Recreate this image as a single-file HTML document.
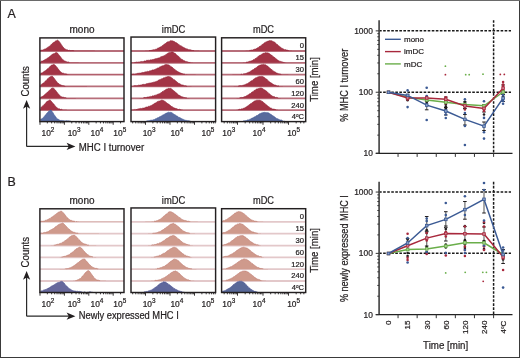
<!DOCTYPE html>
<html><head><meta charset="utf-8"><style>
html,body{margin:0;padding:0;background:#fff;}
body{width:520px;height:358px;overflow:hidden;font-family:"Liberation Sans",sans-serif;}
svg{display:block;will-change:transform;}
</style></head><body>
<svg width="520" height="358" viewBox="0 0 520 358"><rect x="0" y="0" width="520" height="358" fill="#fff"/>
<path d="M0.5,358 V0.5 M519.5,0 V358 M0,357.5 H520" stroke="#3a3a3a" stroke-width="1" fill="none"/>
<path d="M0,0.5 H520" stroke="#6a6a6a" stroke-width="1" fill="none"/>
<text x="7.6" y="17.8" font-family="'Liberation Sans', sans-serif" stroke="#231f20" stroke-width="0.22" font-size="12.4" fill="#231f20">A</text>
<text x="7.6" y="185.8" font-family="'Liberation Sans', sans-serif" stroke="#231f20" stroke-width="0.22" font-size="12.4" fill="#231f20">B</text>
<text x="69.5" y="32.8" font-family="'Liberation Sans', sans-serif" stroke="#231f20" stroke-width="0.22" font-size="10.2" fill="#231f20" textLength="25.0" lengthAdjust="spacingAndGlyphs">mono</text>
<text x="161.8" y="32.8" font-family="'Liberation Sans', sans-serif" stroke="#231f20" stroke-width="0.22" font-size="10.2" fill="#231f20" textLength="23.4" lengthAdjust="spacingAndGlyphs">imDC</text>
<text x="253" y="32.8" font-family="'Liberation Sans', sans-serif" stroke="#231f20" stroke-width="0.22" font-size="10.2" fill="#231f20" textLength="21.0" lengthAdjust="spacingAndGlyphs">mDC</text>
<line x1="39.9" y1="51" x2="124" y2="51" stroke="#b76e7a" stroke-width="1.8"/>
<path d="M40.5,51 L40.5,50.24 L41.2,50.15 L41.9,50.16 L42.6,50.05 L43.3,49.71 L44,49.51 L44.7,49.03 L45.4,48.94 L46.1,48.49 L46.8,48.03 L47.5,47.42 L48.2,47.13 L48.9,46.71 L49.6,45.91 L50.3,45.39 L51,44.97 L51.7,44.02 L52.4,43.36 L53.1,42.85 L53.8,42.23 L54.5,42 L55.2,41.33 L55.9,40.87 L56.6,40.72 L57.3,40.1 L58,40.42 L58.7,40.93 L59.4,41.75 L60.1,42.63 L60.8,43.7 L61.5,45.01 L62.2,45.82 L62.9,47.03 L63.6,47.54 L64.3,48.33 L65,49.14 L65.7,49.23 L66.4,49.73 L67.1,49.77 L67.8,50.05 L68.5,50.52 L69.2,50.38 L69.9,50.27 L70.6,50.64 L71.3,50.64 L72,50.4 L72.7,50.61 L73.4,50.63 L74.1,50.65 L74.8,50.66 L75.5,50.68 L76.2,50.69 L76.9,50.7 L77.6,50.71 L78.3,50.72 L79,50.73 L79.7,50.74 L80.4,50.75 L81.1,50.76 L81.8,50.76 L82.5,50.77 L83.2,50.78 L83.9,50.79 L84.6,50.8 L85.3,50.8 L86,50.81 L86.7,50.82 L87.4,50.82 L88.1,50.83 L88.8,50.83 L89.5,50.84 L90.2,50.85 L90.9,50.85 L91.6,50.86 L92.3,50.86 L93,50.87 L93.7,50.87 L94.4,50.87 L95.1,50.88 L95.8,50.88 L96.5,50.89 L97.2,50.89 L97.9,50.89 L98.6,50.9 L99.3,50.9 L100,50.91 L100.7,50.91 L101.4,50.91 L102.1,50.91 L102.8,50.92 L103.5,50.92 L104.2,50.92 L104.9,50.93 L105.6,50.93 L106.3,50.93 L107,50.93 L107.7,50.94 L108.4,50.94 L109.1,50.94 L109.8,50.94 L110.5,50.94 L111.2,50.95 L111.9,50.95 L112.6,50.95 L113.3,50.95 L114,50.95 L114.7,50.95 L115.4,50.96 L116.1,50.96 L116.8,50.96 L117.5,50.96 L118.2,50.96 L118.9,50.96 L119.6,50.96 L120.3,50.97 L121,50.97 L121.7,50.97 L122.4,50.97 L123.1,50.97 L123.4,51 Z" fill="#a33446"/>
<path d="M40.5,50.24 L41.2,50.15 L41.9,50.16 L42.6,50.05 L43.3,49.71 L44,49.51 L44.7,49.03 L45.4,48.94 L46.1,48.49 L46.8,48.03 L47.5,47.42 L48.2,47.13 L48.9,46.71 L49.6,45.91 L50.3,45.39 L51,44.97 L51.7,44.02 L52.4,43.36 L53.1,42.85 L53.8,42.23 L54.5,42 L55.2,41.33 L55.9,40.87 L56.6,40.72 L57.3,40.1 L58,40.42 L58.7,40.93 L59.4,41.75 L60.1,42.63 L60.8,43.7 L61.5,45.01 L62.2,45.82 L62.9,47.03 L63.6,47.54 L64.3,48.33 L65,49.14 L65.7,49.23 L66.4,49.73 L67.1,49.77 L67.8,50.05 L68.5,50.52 L69.2,50.38 L69.9,50.27 L70.6,50.64 L71.3,50.64 L72,50.4 L72.7,50.61 L73.4,50.63 L74.1,50.65" fill="none" stroke="#8e1f33" stroke-width="0.6"/>
<line x1="39.9" y1="62.82" x2="124" y2="62.82" stroke="#b76e7a" stroke-width="1.8"/>
<path d="M40.5,62.82 L40.5,61.82 L41.2,61.26 L41.9,61.06 L42.6,61.04 L43.3,60.62 L44,60.31 L44.7,59.84 L45.4,59.36 L46.1,59.28 L46.8,58.84 L47.5,57.95 L48.2,57.63 L48.9,56.93 L49.6,56.77 L50.3,56 L51,55.32 L51.7,55.04 L52.4,54.18 L53.1,53.74 L53.8,53.78 L54.5,53.45 L55.2,52.94 L55.9,52.61 L56.6,52.42 L57.3,52.99 L58,53.58 L58.7,54.63 L59.4,55.45 L60.1,56.29 L60.8,57.19 L61.5,58.2 L62.2,59 L62.9,59.71 L63.6,60.2 L64.3,60.8 L65,61.36 L65.7,61.29 L66.4,61.7 L67.1,61.87 L67.8,62.26 L68.5,61.98 L69.2,62.14 L69.9,62.58 L70.6,62.44 L71.3,62.48 L72,62.51 L72.7,62.53 L73.4,62.55 L74.1,62.57 L74.8,62.58 L75.5,62.59 L76.2,62.6 L76.9,62.61 L77.6,62.61 L78.3,62.62 L79,62.63 L79.7,62.64 L80.4,62.64 L81.1,62.65 L81.8,62.65 L82.5,62.66 L83.2,62.67 L83.9,62.67 L84.6,62.68 L85.3,62.68 L86,62.69 L86.7,62.69 L87.4,62.69 L88.1,62.7 L88.8,62.7 L89.5,62.71 L90.2,62.71 L90.9,62.71 L91.6,62.72 L92.3,62.72 L93,62.73 L93.7,62.73 L94.4,62.73 L95.1,62.73 L95.8,62.74 L96.5,62.74 L97.2,62.74 L97.9,62.75 L98.6,62.75 L99.3,62.75 L100,62.75 L100.7,62.76 L101.4,62.76 L102.1,62.76 L102.8,62.76 L103.5,62.76 L104.2,62.77 L104.9,62.77 L105.6,62.77 L106.3,62.77 L107,62.77 L107.7,62.77 L108.4,62.78 L109.1,62.78 L109.8,62.78 L110.5,62.78 L111.2,62.78 L111.9,62.78 L112.6,62.78 L113.3,62.79 L114,62.79 L114.7,62.79 L115.4,62.79 L116.1,62.79 L116.8,62.79 L117.5,62.79 L118.2,62.79 L118.9,62.79 L119.6,62.79 L120.3,62.8 L121,62.8 L121.7,62.8 L122.4,62.8 L123.1,62.8 L123.4,62.82 Z" fill="#a33446"/>
<path d="M40.5,61.82 L41.2,61.26 L41.9,61.06 L42.6,61.04 L43.3,60.62 L44,60.31 L44.7,59.84 L45.4,59.36 L46.1,59.28 L46.8,58.84 L47.5,57.95 L48.2,57.63 L48.9,56.93 L49.6,56.77 L50.3,56 L51,55.32 L51.7,55.04 L52.4,54.18 L53.1,53.74 L53.8,53.78 L54.5,53.45 L55.2,52.94 L55.9,52.61 L56.6,52.42 L57.3,52.99 L58,53.58 L58.7,54.63 L59.4,55.45 L60.1,56.29 L60.8,57.19 L61.5,58.2 L62.2,59 L62.9,59.71 L63.6,60.2 L64.3,60.8 L65,61.36 L65.7,61.29 L66.4,61.7 L67.1,61.87 L67.8,62.26 L68.5,61.98 L69.2,62.14" fill="none" stroke="#8e1f33" stroke-width="0.6"/>
<line x1="39.9" y1="74.64" x2="124" y2="74.64" stroke="#b76e7a" stroke-width="1.8"/>
<path d="M40.5,74.64 L40.5,73.16 L41.2,72.91 L41.9,73.05 L42.6,72.69 L43.3,71.92 L44,71.53 L44.7,71.08 L45.4,70.74 L46.1,70.02 L46.8,69.42 L47.5,68.81 L48.2,68.38 L48.9,67.6 L49.6,66.99 L50.3,66.23 L51,65.55 L51.7,65.1 L52.4,64.93 L53.1,64.74 L53.8,64.29 L54.5,64.75 L55.2,65.37 L55.9,65.94 L56.6,66.91 L57.3,67.82 L58,68.5 L58.7,69.59 L59.4,70.4 L60.1,71.31 L60.8,72.06 L61.5,72.46 L62.2,73.01 L62.9,73.2 L63.6,73.25 L64.3,73.65 L65,74.08 L65.7,73.86 L66.4,74.01 L67.1,74.12 L67.8,74.29 L68.5,74.33 L69.2,74.37 L69.9,74.39 L70.6,74.41 L71.3,74.42 L72,74.43 L72.7,74.44 L73.4,74.45 L74.1,74.46 L74.8,74.47 L75.5,74.47 L76.2,74.48 L76.9,74.48 L77.6,74.49 L78.3,74.49 L79,74.5 L79.7,74.5 L80.4,74.51 L81.1,74.51 L81.8,74.52 L82.5,74.52 L83.2,74.53 L83.9,74.53 L84.6,74.53 L85.3,74.54 L86,74.54 L86.7,74.54 L87.4,74.55 L88.1,74.55 L88.8,74.55 L89.5,74.56 L90.2,74.56 L90.9,74.56 L91.6,74.57 L92.3,74.57 L93,74.57 L93.7,74.57 L94.4,74.57 L95.1,74.58 L95.8,74.58 L96.5,74.58 L97.2,74.58 L97.9,74.59 L98.6,74.59 L99.3,74.59 L100,74.59 L100.7,74.59 L101.4,74.59 L102.1,74.6 L102.8,74.6 L103.5,74.6 L104.2,74.6 L104.9,74.6 L105.6,74.6 L106.3,74.6 L107,74.61 L107.7,74.61 L108.4,74.61 L109.1,74.61 L109.8,74.61 L110.5,74.61 L111.2,74.61 L111.9,74.61 L112.6,74.61 L113.3,74.61 L114,74.62 L114.7,74.62 L115.4,74.62 L116.1,74.62 L116.8,74.62 L117.5,74.62 L118.2,74.62 L118.9,74.62 L119.6,74.62 L120.3,74.62 L121,74.62 L121.7,74.62 L122.4,74.62 L123.1,74.62 L123.4,74.64 Z" fill="#a33446"/>
<path d="M40.5,73.16 L41.2,72.91 L41.9,73.05 L42.6,72.69 L43.3,71.92 L44,71.53 L44.7,71.08 L45.4,70.74 L46.1,70.02 L46.8,69.42 L47.5,68.81 L48.2,68.38 L48.9,67.6 L49.6,66.99 L50.3,66.23 L51,65.55 L51.7,65.1 L52.4,64.93 L53.1,64.74 L53.8,64.29 L54.5,64.75 L55.2,65.37 L55.9,65.94 L56.6,66.91 L57.3,67.82 L58,68.5 L58.7,69.59 L59.4,70.4 L60.1,71.31 L60.8,72.06 L61.5,72.46 L62.2,73.01 L62.9,73.2 L63.6,73.25 L64.3,73.65 L65,74.08 L65.7,73.86 L66.4,74.01 L67.1,74.12" fill="none" stroke="#8e1f33" stroke-width="0.6"/>
<line x1="39.9" y1="86.46" x2="124" y2="86.46" stroke="#b76e7a" stroke-width="1.8"/>
<path d="M40.5,86.46 L40.5,84.98 L41.2,84.47 L41.9,84.14 L42.6,83.56 L43.3,83.02 L44,82.72 L44.7,82.12 L45.4,81.03 L46.1,80.62 L46.8,79.91 L47.5,78.82 L48.2,78.4 L48.9,77.59 L49.6,77.22 L50.3,76.71 L51,76.69 L51.7,75.95 L52.4,76.23 L53.1,77.05 L53.8,77.75 L54.5,78.69 L55.2,79.93 L55.9,80.52 L56.6,81.5 L57.3,82.46 L58,83.33 L58.7,83.54 L59.4,84.28 L60.1,84.6 L60.8,84.88 L61.5,85.25 L62.2,85.38 L62.9,85.81 L63.6,85.74 L64.3,86.02 L65,86.06 L65.7,86.12 L66.4,86.16 L67.1,86.19 L67.8,86.21 L68.5,86.23 L69.2,86.24 L69.9,86.25 L70.6,86.26 L71.3,86.27 L72,86.28 L72.7,86.29 L73.4,86.29 L74.1,86.3 L74.8,86.3 L75.5,86.31 L76.2,86.32 L76.9,86.32 L77.6,86.33 L78.3,86.33 L79,86.33 L79.7,86.34 L80.4,86.34 L81.1,86.35 L81.8,86.35 L82.5,86.35 L83.2,86.36 L83.9,86.36 L84.6,86.36 L85.3,86.37 L86,86.37 L86.7,86.37 L87.4,86.38 L88.1,86.38 L88.8,86.38 L89.5,86.39 L90.2,86.39 L90.9,86.39 L91.6,86.39 L92.3,86.4 L93,86.4 L93.7,86.4 L94.4,86.4 L95.1,86.4 L95.8,86.41 L96.5,86.41 L97.2,86.41 L97.9,86.41 L98.6,86.41 L99.3,86.41 L100,86.42 L100.7,86.42 L101.4,86.42 L102.1,86.42 L102.8,86.42 L103.5,86.42 L104.2,86.42 L104.9,86.43 L105.6,86.43 L106.3,86.43 L107,86.43 L107.7,86.43 L108.4,86.43 L109.1,86.43 L109.8,86.43 L110.5,86.43 L111.2,86.43 L111.9,86.44 L112.6,86.44 L113.3,86.44 L114,86.44 L114.7,86.44 L115.4,86.44 L116.1,86.44 L116.8,86.44 L117.5,86.44 L118.2,86.44 L118.9,86.44 L119.6,86.44 L120.3,86.44 L121,86.44 L121.7,86.45 L122.4,86.45 L123.1,86.45 L123.4,86.46 Z" fill="#a33446"/>
<path d="M40.5,84.98 L41.2,84.47 L41.9,84.14 L42.6,83.56 L43.3,83.02 L44,82.72 L44.7,82.12 L45.4,81.03 L46.1,80.62 L46.8,79.91 L47.5,78.82 L48.2,78.4 L48.9,77.59 L49.6,77.22 L50.3,76.71 L51,76.69 L51.7,75.95 L52.4,76.23 L53.1,77.05 L53.8,77.75 L54.5,78.69 L55.2,79.93 L55.9,80.52 L56.6,81.5 L57.3,82.46 L58,83.33 L58.7,83.54 L59.4,84.28 L60.1,84.6 L60.8,84.88 L61.5,85.25 L62.2,85.38 L62.9,85.81 L63.6,85.74 L64.3,86.02 L65,86.06" fill="none" stroke="#8e1f33" stroke-width="0.6"/>
<line x1="39.9" y1="98.28" x2="124" y2="98.28" stroke="#b76e7a" stroke-width="1.8"/>
<path d="M40.5,98.28 L40.5,97.3 L41.2,97.09 L41.9,96.62 L42.6,96.37 L43.3,95.99 L44,95.34 L44.7,94.53 L45.4,94 L46.1,93.37 L46.8,92.96 L47.5,92.09 L48.2,91.51 L48.9,90.85 L49.6,90.22 L50.3,89.55 L51,88.68 L51.7,88.35 L52.4,88.14 L53.1,87.77 L53.8,88.55 L54.5,89.19 L55.2,89.87 L55.9,90.74 L56.6,91.63 L57.3,92.54 L58,93.81 L58.7,94.35 L59.4,95.02 L60.1,95.71 L60.8,96.38 L61.5,96.66 L62.2,97.19 L62.9,97.03 L63.6,97.28 L64.3,97.6 L65,97.84 L65.7,97.63 L66.4,97.9 L67.1,97.95 L67.8,97.99 L68.5,98.02 L69.2,98.04 L69.9,98.05 L70.6,98.07 L71.3,98.08 L72,98.09 L72.7,98.09 L73.4,98.1 L74.1,98.11 L74.8,98.11 L75.5,98.12 L76.2,98.13 L76.9,98.13 L77.6,98.14 L78.3,98.14 L79,98.15 L79.7,98.15 L80.4,98.16 L81.1,98.16 L81.8,98.16 L82.5,98.17 L83.2,98.17 L83.9,98.18 L84.6,98.18 L85.3,98.18 L86,98.19 L86.7,98.19 L87.4,98.19 L88.1,98.2 L88.8,98.2 L89.5,98.2 L90.2,98.2 L90.9,98.21 L91.6,98.21 L92.3,98.21 L93,98.21 L93.7,98.22 L94.4,98.22 L95.1,98.22 L95.8,98.22 L96.5,98.22 L97.2,98.23 L97.9,98.23 L98.6,98.23 L99.3,98.23 L100,98.23 L100.7,98.23 L101.4,98.24 L102.1,98.24 L102.8,98.24 L103.5,98.24 L104.2,98.24 L104.9,98.24 L105.6,98.24 L106.3,98.25 L107,98.25 L107.7,98.25 L108.4,98.25 L109.1,98.25 L109.8,98.25 L110.5,98.25 L111.2,98.25 L111.9,98.25 L112.6,98.26 L113.3,98.26 L114,98.26 L114.7,98.26 L115.4,98.26 L116.1,98.26 L116.8,98.26 L117.5,98.26 L118.2,98.26 L118.9,98.26 L119.6,98.26 L120.3,98.26 L121,98.26 L121.7,98.26 L122.4,98.26 L123.1,98.27 L123.4,98.28 Z" fill="#a33446"/>
<path d="M40.5,97.3 L41.2,97.09 L41.9,96.62 L42.6,96.37 L43.3,95.99 L44,95.34 L44.7,94.53 L45.4,94 L46.1,93.37 L46.8,92.96 L47.5,92.09 L48.2,91.51 L48.9,90.85 L49.6,90.22 L50.3,89.55 L51,88.68 L51.7,88.35 L52.4,88.14 L53.1,87.77 L53.8,88.55 L54.5,89.19 L55.2,89.87 L55.9,90.74 L56.6,91.63 L57.3,92.54 L58,93.81 L58.7,94.35 L59.4,95.02 L60.1,95.71 L60.8,96.38 L61.5,96.66 L62.2,97.19 L62.9,97.03 L63.6,97.28 L64.3,97.6 L65,97.84 L65.7,97.63 L66.4,97.9" fill="none" stroke="#8e1f33" stroke-width="0.6"/>
<line x1="39.9" y1="110.1" x2="124" y2="110.1" stroke="#b76e7a" stroke-width="1.8"/>
<path d="M40.5,110.1 L40.5,107.79 L41.2,107.24 L41.9,106.66 L42.6,105.97 L43.3,105.4 L44,104.59 L44.7,104.28 L45.4,103.3 L46.1,102.32 L46.8,101.77 L47.5,101.02 L48.2,100.92 L48.9,100.41 L49.6,99.96 L50.3,100.15 L51,100.74 L51.7,101.79 L52.4,102.57 L53.1,103.46 L53.8,104.06 L54.5,105.02 L55.2,106.14 L55.9,106.55 L56.6,107.51 L57.3,107.81 L58,108.51 L58.7,108.94 L59.4,108.79 L60.1,109.36 L60.8,109.53 L61.5,109.28 L62.2,109.44 L62.9,109.8 L63.6,109.75 L64.3,109.8 L65,109.83 L65.7,109.85 L66.4,109.87 L67.1,109.88 L67.8,109.89 L68.5,109.9 L69.2,109.91 L69.9,109.92 L70.6,109.93 L71.3,109.93 L72,109.94 L72.7,109.94 L73.4,109.95 L74.1,109.95 L74.8,109.96 L75.5,109.96 L76.2,109.97 L76.9,109.97 L77.6,109.98 L78.3,109.98 L79,109.99 L79.7,109.99 L80.4,109.99 L81.1,110 L81.8,110 L82.5,110 L83.2,110.01 L83.9,110.01 L84.6,110.01 L85.3,110.02 L86,110.02 L86.7,110.02 L87.4,110.03 L88.1,110.03 L88.8,110.03 L89.5,110.03 L90.2,110.03 L90.9,110.04 L91.6,110.04 L92.3,110.04 L93,110.04 L93.7,110.05 L94.4,110.05 L95.1,110.05 L95.8,110.05 L96.5,110.05 L97.2,110.05 L97.9,110.06 L98.6,110.06 L99.3,110.06 L100,110.06 L100.7,110.06 L101.4,110.06 L102.1,110.06 L102.8,110.07 L103.5,110.07 L104.2,110.07 L104.9,110.07 L105.6,110.07 L106.3,110.07 L107,110.07 L107.7,110.07 L108.4,110.07 L109.1,110.07 L109.8,110.08 L110.5,110.08 L111.2,110.08 L111.9,110.08 L112.6,110.08 L113.3,110.08 L114,110.08 L114.7,110.08 L115.4,110.08 L116.1,110.08 L116.8,110.08 L117.5,110.08 L118.2,110.08 L118.9,110.08 L119.6,110.09 L120.3,110.09 L121,110.09 L121.7,110.09 L122.4,110.09 L123.1,110.09 L123.4,110.1 Z" fill="#a33446"/>
<path d="M40.5,107.79 L41.2,107.24 L41.9,106.66 L42.6,105.97 L43.3,105.4 L44,104.59 L44.7,104.28 L45.4,103.3 L46.1,102.32 L46.8,101.77 L47.5,101.02 L48.2,100.92 L48.9,100.41 L49.6,99.96 L50.3,100.15 L51,100.74 L51.7,101.79 L52.4,102.57 L53.1,103.46 L53.8,104.06 L54.5,105.02 L55.2,106.14 L55.9,106.55 L56.6,107.51 L57.3,107.81 L58,108.51 L58.7,108.94 L59.4,108.79 L60.1,109.36 L60.8,109.53 L61.5,109.28 L62.2,109.44" fill="none" stroke="#8e1f33" stroke-width="0.6"/>
<path d="M40.5,121.3 L40.5,119.48 L41.2,119.04 L41.9,118.71 L42.6,118.24 L43.3,117.71 L44,116.66 L44.7,115.96 L45.4,114.98 L46.1,114.32 L46.8,113.27 L47.5,112.71 L48.2,111.71 L48.9,111.15 L49.6,110.89 L50.3,110.1 L51,110.1 L51.7,111.06 L52.4,111.89 L53.1,112.89 L53.8,114.31 L54.5,115.17 L55.2,116.26 L55.9,117.1 L56.6,118.14 L57.3,118.91 L58,119.08 L58.7,119.5 L59.4,119.99 L60.1,120.41 L60.8,120.54 L61.5,120.45 L62.2,120.71 L62.9,120.45 L63.6,120.69 L64.3,120.92 L65,120.72 L65.7,120.9 L66.4,120.63 L67.1,120.66 L67.8,120.88 L68.5,120.83 L69.2,120.91 L69.9,120.93 L70.6,120.94 L71.3,120.95 L72,120.96 L72.7,120.98 L73.4,120.99 L74.1,121 L74.8,121.01 L75.5,121.02 L76.2,121.03 L76.9,121.04 L77.6,121.05 L78.3,121.05 L79,121.06 L79.7,121.07 L80.4,121.08 L81.1,121.09 L81.8,121.09 L82.5,121.1 L83.2,121.11 L83.9,121.11 L84.6,121.12 L85.3,121.13 L86,121.13 L86.7,121.14 L87.4,121.14 L88.1,121.15 L88.8,121.15 L89.5,121.16 L90.2,121.16 L90.9,121.17 L91.6,121.17 L92.3,121.18 L93,121.18 L93.7,121.19 L94.4,121.19 L95.1,121.19 L95.8,121.2 L96.5,121.2 L97.2,121.2 L97.9,121.21 L98.6,121.21 L99.3,121.21 L100,121.22 L100.7,121.22 L101.4,121.22 L102.1,121.23 L102.8,121.23 L103.5,121.23 L104.2,121.23 L104.9,121.24 L105.6,121.24 L106.3,121.24 L107,121.24 L107.7,121.24 L108.4,121.25 L109.1,121.25 L109.8,121.25 L110.5,121.25 L111.2,121.25 L111.9,121.25 L112.6,121.26 L113.3,121.26 L114,121.26 L114.7,121.26 L115.4,121.26 L116.1,121.26 L116.8,121.26 L117.5,121.27 L118.2,121.27 L118.9,121.27 L119.6,121.27 L120.3,121.27 L121,121.27 L121.7,121.27 L122.4,121.27 L123.1,121.27 L123.4,121.3 Z" fill="#5a6fa6"/>
<path d="M40.5,119.48 L41.2,119.04 L41.9,118.71 L42.6,118.24 L43.3,117.71 L44,116.66 L44.7,115.96 L45.4,114.98 L46.1,114.32 L46.8,113.27 L47.5,112.71 L48.2,111.71 L48.9,111.15 L49.6,110.89 L50.3,110.1 L51,110.1 L51.7,111.06 L52.4,111.89 L53.1,112.89 L53.8,114.31 L54.5,115.17 L55.2,116.26 L55.9,117.1 L56.6,118.14 L57.3,118.91 L58,119.08 L58.7,119.5 L59.4,119.99 L60.1,120.41 L60.8,120.54 L61.5,120.45 L62.2,120.71 L62.9,120.45 L63.6,120.69 L64.3,120.92 L65,120.72 L65.7,120.9 L66.4,120.63 L67.1,120.66 L67.8,120.88 L68.5,120.83 L69.2,120.91 L69.9,120.93 L70.6,120.94" fill="none" stroke="#3d5593" stroke-width="0.6"/>
<rect x="39.9" y="37.9" width="84.1" height="83.7" fill="none" stroke="#231f20" stroke-width="1.45"/>
<line x1="131" y1="51" x2="215.6" y2="51" stroke="#b76e7a" stroke-width="1.8"/>
<path d="M131.6,51 L131.6,51 L132.3,51 L133,51 L133.7,51 L134.4,51 L135.1,51 L135.8,50.99 L136.5,50.99 L137.2,50.99 L137.9,50.99 L138.6,50.98 L139.3,50.98 L140,50.97 L140.7,50.97 L141.4,50.96 L142.1,50.95 L142.8,50.93 L143.5,50.92 L144.2,50.9 L144.9,50.88 L145.6,50.85 L146.3,50.81 L147,50.77 L147.7,50.73 L148.4,50.67 L149.1,50.61 L149.8,50.49 L150.5,50.48 L151.2,50.3 L151.9,50.36 L152.6,49.92 L153.3,49.76 L154,49.67 L154.7,49.72 L155.4,49.32 L156.1,49.17 L156.8,48.94 L157.5,48.28 L158.2,47.93 L158.9,48.06 L159.6,47.27 L160.3,46.98 L161,46.66 L161.7,46.26 L162.4,45.58 L163.1,45.2 L163.8,44.59 L164.5,44.09 L165.2,43.85 L165.9,43.04 L166.6,42.46 L167.3,42.01 L168,41.77 L168.7,41.69 L169.4,41.39 L170.1,41.08 L170.8,40.52 L171.5,40.81 L172.2,40.88 L172.9,40.8 L173.6,41.36 L174.3,41.56 L175,41.98 L175.7,42.58 L176.4,42.75 L177.1,43.08 L177.8,43.9 L178.5,44.34 L179.2,44.73 L179.9,45.39 L180.6,45.63 L181.3,45.92 L182,46.44 L182.7,46.92 L183.4,47.15 L184.1,47.87 L184.8,48.01 L185.5,48.43 L186.2,48.62 L186.9,49.13 L187.6,49.05 L188.3,49.61 L189,49.78 L189.7,49.64 L190.4,49.74 L191.1,50.14 L191.8,50.27 L192.5,50.47 L193.2,50.55 L193.9,50.47 L194.6,50.76 L195.3,50.66 L196,50.72 L196.7,50.76 L197.4,50.8 L198.1,50.84 L198.8,50.87 L199.5,50.89 L200.2,50.91 L200.9,50.93 L201.6,50.94 L202.3,50.95 L203,50.96 L203.7,50.97 L204.4,50.97 L205.1,50.98 L205.8,50.98 L206.5,50.99 L207.2,50.99 L207.9,50.99 L208.6,50.99 L209.3,51 L210,51 L210.7,51 L211.4,51 L212.1,51 L212.8,51 L213.5,51 L214.2,51 L214.9,51 L215,51 Z" fill="#a33446"/>
<path d="M149.1,50.61 L149.8,50.49 L150.5,50.48 L151.2,50.3 L151.9,50.36 L152.6,49.92 L153.3,49.76 L154,49.67 L154.7,49.72 L155.4,49.32 L156.1,49.17 L156.8,48.94 L157.5,48.28 L158.2,47.93 L158.9,48.06 L159.6,47.27 L160.3,46.98 L161,46.66 L161.7,46.26 L162.4,45.58 L163.1,45.2 L163.8,44.59 L164.5,44.09 L165.2,43.85 L165.9,43.04 L166.6,42.46 L167.3,42.01 L168,41.77 L168.7,41.69 L169.4,41.39 L170.1,41.08 L170.8,40.52 L171.5,40.81 L172.2,40.88 L172.9,40.8 L173.6,41.36 L174.3,41.56 L175,41.98 L175.7,42.58 L176.4,42.75 L177.1,43.08 L177.8,43.9 L178.5,44.34 L179.2,44.73 L179.9,45.39 L180.6,45.63 L181.3,45.92 L182,46.44 L182.7,46.92 L183.4,47.15 L184.1,47.87 L184.8,48.01 L185.5,48.43 L186.2,48.62 L186.9,49.13 L187.6,49.05 L188.3,49.61 L189,49.78 L189.7,49.64 L190.4,49.74 L191.1,50.14 L191.8,50.27 L192.5,50.47 L193.2,50.55 L193.9,50.47" fill="none" stroke="#8e1f33" stroke-width="0.6"/>
<line x1="131" y1="62.82" x2="215.6" y2="62.82" stroke="#b76e7a" stroke-width="1.8"/>
<path d="M131.6,62.82 L131.6,62.63 L132.3,62.59 L133,62.55 L133.7,62.51 L134.4,62.46 L135.1,62.43 L135.8,62.31 L136.5,62.06 L137.2,62.22 L137.9,62.12 L138.6,61.99 L139.3,62.1 L140,61.83 L140.7,61.67 L141.4,61.47 L142.1,61.7 L142.8,61.47 L143.5,61.45 L144.2,60.96 L144.9,60.88 L145.6,61.06 L146.3,60.45 L147,60.32 L147.7,60.33 L148.4,60.21 L149.1,60.3 L149.8,60.23 L150.5,59.83 L151.2,59.92 L151.9,59.72 L152.6,59.55 L153.3,59.52 L154,59.16 L154.7,59.02 L155.4,58.67 L156.1,58.67 L156.8,58.43 L157.5,58.31 L158.2,58.03 L158.9,57.91 L159.6,57.76 L160.3,57.14 L161,56.86 L161.7,56.62 L162.4,56.36 L163.1,56.2 L163.8,55.86 L164.5,55.44 L165.2,55.14 L165.9,54.38 L166.6,54.14 L167.3,53.51 L168,53.35 L168.7,52.69 L169.4,52.42 L170.1,52.56 L170.8,52.24 L171.5,52.02 L172.2,52.02 L172.9,52.02 L173.6,52.47 L174.3,53.05 L175,53.27 L175.7,53.76 L176.4,54.63 L177.1,55.35 L177.8,55.88 L178.5,56.21 L179.2,56.95 L179.9,57.88 L180.6,58.4 L181.3,59.02 L182,59.55 L182.7,59.64 L183.4,60.38 L184.1,60.56 L184.8,60.96 L185.5,61.38 L186.2,61.37 L186.9,61.9 L187.6,61.83 L188.3,62.26 L189,62.25 L189.7,62.47 L190.4,62.42 L191.1,62.5 L191.8,62.57 L192.5,62.62 L193.2,62.66 L193.9,62.7 L194.6,62.73 L195.3,62.75 L196,62.76 L196.7,62.78 L197.4,62.79 L198.1,62.8 L198.8,62.8 L199.5,62.81 L200.2,62.81 L200.9,62.81 L201.6,62.81 L202.3,62.82 L203,62.82 L203.7,62.82 L204.4,62.82 L205.1,62.82 L205.8,62.82 L206.5,62.82 L207.2,62.82 L207.9,62.82 L208.6,62.82 L209.3,62.82 L210,62.82 L210.7,62.82 L211.4,62.82 L212.1,62.82 L212.8,62.82 L213.5,62.82 L214.2,62.82 L214.9,62.82 L215,62.82 Z" fill="#a33446"/>
<path d="M134.4,62.46 L135.1,62.43 L135.8,62.31 L136.5,62.06 L137.2,62.22 L137.9,62.12 L138.6,61.99 L139.3,62.1 L140,61.83 L140.7,61.67 L141.4,61.47 L142.1,61.7 L142.8,61.47 L143.5,61.45 L144.2,60.96 L144.9,60.88 L145.6,61.06 L146.3,60.45 L147,60.32 L147.7,60.33 L148.4,60.21 L149.1,60.3 L149.8,60.23 L150.5,59.83 L151.2,59.92 L151.9,59.72 L152.6,59.55 L153.3,59.52 L154,59.16 L154.7,59.02 L155.4,58.67 L156.1,58.67 L156.8,58.43 L157.5,58.31 L158.2,58.03 L158.9,57.91 L159.6,57.76 L160.3,57.14 L161,56.86 L161.7,56.62 L162.4,56.36 L163.1,56.2 L163.8,55.86 L164.5,55.44 L165.2,55.14 L165.9,54.38 L166.6,54.14 L167.3,53.51 L168,53.35 L168.7,52.69 L169.4,52.42 L170.1,52.56 L170.8,52.24 L171.5,52.02 L172.2,52.02 L172.9,52.02 L173.6,52.47 L174.3,53.05 L175,53.27 L175.7,53.76 L176.4,54.63 L177.1,55.35 L177.8,55.88 L178.5,56.21 L179.2,56.95 L179.9,57.88 L180.6,58.4 L181.3,59.02 L182,59.55 L182.7,59.64 L183.4,60.38 L184.1,60.56 L184.8,60.96 L185.5,61.38 L186.2,61.37 L186.9,61.9 L187.6,61.83 L188.3,62.26 L189,62.25 L189.7,62.47 L190.4,62.42" fill="none" stroke="#8e1f33" stroke-width="0.6"/>
<line x1="131" y1="74.64" x2="215.6" y2="74.64" stroke="#b76e7a" stroke-width="1.8"/>
<path d="M131.6,74.64 L131.6,74.28 L132.3,74.23 L133,74.07 L133.7,73.99 L134.4,74.17 L135.1,74.14 L135.8,73.86 L136.5,73.81 L137.2,73.43 L137.9,73.37 L138.6,73.29 L139.3,73.18 L140,73 L140.7,73.12 L141.4,72.83 L142.1,72.83 L142.8,72.31 L143.5,72.59 L144.2,72.06 L144.9,72.29 L145.6,71.83 L146.3,71.85 L147,71.66 L147.7,71.28 L148.4,71.53 L149.1,71.33 L149.8,70.73 L150.5,70.74 L151.2,70.75 L151.9,70.09 L152.6,69.89 L153.3,70.07 L154,69.66 L154.7,69.54 L155.4,69.17 L156.1,68.72 L156.8,68.64 L157.5,68.05 L158.2,68.05 L158.9,67.66 L159.6,67 L160.3,66.87 L161,66.53 L161.7,66.12 L162.4,65.87 L163.1,65.63 L163.8,65.54 L164.5,64.96 L165.2,64.64 L165.9,64.49 L166.6,64.54 L167.3,64.67 L168,64.8 L168.7,64.9 L169.4,65.26 L170.1,65.96 L170.8,66.39 L171.5,66.85 L172.2,67.34 L172.9,67.76 L173.6,68.49 L174.3,69.29 L175,69.45 L175.7,70.18 L176.4,70.64 L177.1,71.26 L177.8,71.59 L178.5,72.01 L179.2,72.19 L179.9,72.85 L180.6,72.92 L181.3,73.36 L182,73.33 L182.7,73.86 L183.4,73.91 L184.1,74.02 L184.8,74 L185.5,74.39 L186.2,74.26 L186.9,74.33 L187.6,74.39 L188.3,74.44 L189,74.48 L189.7,74.52 L190.4,74.54 L191.1,74.56 L191.8,74.58 L192.5,74.59 L193.2,74.61 L193.9,74.61 L194.6,74.62 L195.3,74.62 L196,74.63 L196.7,74.63 L197.4,74.63 L198.1,74.64 L198.8,74.64 L199.5,74.64 L200.2,74.64 L200.9,74.64 L201.6,74.64 L202.3,74.64 L203,74.64 L203.7,74.64 L204.4,74.64 L205.1,74.64 L205.8,74.64 L206.5,74.64 L207.2,74.64 L207.9,74.64 L208.6,74.64 L209.3,74.64 L210,74.64 L210.7,74.64 L211.4,74.64 L212.1,74.64 L212.8,74.64 L213.5,74.64 L214.2,74.64 L214.9,74.64 L215,74.64 Z" fill="#a33446"/>
<path d="M131.6,74.28 L132.3,74.23 L133,74.07 L133.7,73.99 L134.4,74.17 L135.1,74.14 L135.8,73.86 L136.5,73.81 L137.2,73.43 L137.9,73.37 L138.6,73.29 L139.3,73.18 L140,73 L140.7,73.12 L141.4,72.83 L142.1,72.83 L142.8,72.31 L143.5,72.59 L144.2,72.06 L144.9,72.29 L145.6,71.83 L146.3,71.85 L147,71.66 L147.7,71.28 L148.4,71.53 L149.1,71.33 L149.8,70.73 L150.5,70.74 L151.2,70.75 L151.9,70.09 L152.6,69.89 L153.3,70.07 L154,69.66 L154.7,69.54 L155.4,69.17 L156.1,68.72 L156.8,68.64 L157.5,68.05 L158.2,68.05 L158.9,67.66 L159.6,67 L160.3,66.87 L161,66.53 L161.7,66.12 L162.4,65.87 L163.1,65.63 L163.8,65.54 L164.5,64.96 L165.2,64.64 L165.9,64.49 L166.6,64.54 L167.3,64.67 L168,64.8 L168.7,64.9 L169.4,65.26 L170.1,65.96 L170.8,66.39 L171.5,66.85 L172.2,67.34 L172.9,67.76 L173.6,68.49 L174.3,69.29 L175,69.45 L175.7,70.18 L176.4,70.64 L177.1,71.26 L177.8,71.59 L178.5,72.01 L179.2,72.19 L179.9,72.85 L180.6,72.92 L181.3,73.36 L182,73.33 L182.7,73.86 L183.4,73.91 L184.1,74.02 L184.8,74" fill="none" stroke="#8e1f33" stroke-width="0.6"/>
<line x1="131" y1="86.46" x2="215.6" y2="86.46" stroke="#b76e7a" stroke-width="1.8"/>
<path d="M131.6,86.46 L131.6,86.12 L132.3,86.06 L133,86.12 L133.7,85.83 L134.4,85.76 L135.1,85.59 L135.8,85.83 L136.5,85.71 L137.2,85.65 L137.9,85.5 L138.6,85.14 L139.3,85.32 L140,85 L140.7,85.04 L141.4,84.88 L142.1,84.69 L142.8,84.36 L143.5,84.35 L144.2,84.53 L144.9,84.28 L145.6,84.22 L146.3,83.73 L147,83.64 L147.7,83.51 L148.4,83.37 L149.1,83.28 L149.8,83.03 L150.5,82.96 L151.2,83.07 L151.9,82.6 L152.6,82.6 L153.3,82.26 L154,82.14 L154.7,81.98 L155.4,81.76 L156.1,81.46 L156.8,81.24 L157.5,81.04 L158.2,80.37 L158.9,80.06 L159.6,79.63 L160.3,79.43 L161,79.16 L161.7,78.71 L162.4,78.67 L163.1,78.07 L163.8,77.86 L164.5,77.69 L165.2,77.4 L165.9,76.99 L166.6,76.91 L167.3,76.63 L168,76.44 L168.7,76.49 L169.4,76.71 L170.1,76.77 L170.8,77.25 L171.5,77.68 L172.2,78.21 L172.9,78.67 L173.6,79.4 L174.3,79.71 L175,80.17 L175.7,81.04 L176.4,81.45 L177.1,81.9 L177.8,82.86 L178.5,83.29 L179.2,83.4 L179.9,83.79 L180.6,84.25 L181.3,84.81 L182,84.97 L182.7,84.99 L183.4,85.2 L184.1,85.43 L184.8,85.89 L185.5,85.69 L186.2,86.05 L186.9,86.08 L187.6,86.15 L188.3,86.22 L189,86.27 L189.7,86.31 L190.4,86.34 L191.1,86.37 L191.8,86.39 L192.5,86.41 L193.2,86.42 L193.9,86.43 L194.6,86.44 L195.3,86.44 L196,86.45 L196.7,86.45 L197.4,86.45 L198.1,86.45 L198.8,86.46 L199.5,86.46 L200.2,86.46 L200.9,86.46 L201.6,86.46 L202.3,86.46 L203,86.46 L203.7,86.46 L204.4,86.46 L205.1,86.46 L205.8,86.46 L206.5,86.46 L207.2,86.46 L207.9,86.46 L208.6,86.46 L209.3,86.46 L210,86.46 L210.7,86.46 L211.4,86.46 L212.1,86.46 L212.8,86.46 L213.5,86.46 L214.2,86.46 L214.9,86.46 L215,86.46 Z" fill="#a33446"/>
<path d="M133.7,85.83 L134.4,85.76 L135.1,85.59 L135.8,85.83 L136.5,85.71 L137.2,85.65 L137.9,85.5 L138.6,85.14 L139.3,85.32 L140,85 L140.7,85.04 L141.4,84.88 L142.1,84.69 L142.8,84.36 L143.5,84.35 L144.2,84.53 L144.9,84.28 L145.6,84.22 L146.3,83.73 L147,83.64 L147.7,83.51 L148.4,83.37 L149.1,83.28 L149.8,83.03 L150.5,82.96 L151.2,83.07 L151.9,82.6 L152.6,82.6 L153.3,82.26 L154,82.14 L154.7,81.98 L155.4,81.76 L156.1,81.46 L156.8,81.24 L157.5,81.04 L158.2,80.37 L158.9,80.06 L159.6,79.63 L160.3,79.43 L161,79.16 L161.7,78.71 L162.4,78.67 L163.1,78.07 L163.8,77.86 L164.5,77.69 L165.2,77.4 L165.9,76.99 L166.6,76.91 L167.3,76.63 L168,76.44 L168.7,76.49 L169.4,76.71 L170.1,76.77 L170.8,77.25 L171.5,77.68 L172.2,78.21 L172.9,78.67 L173.6,79.4 L174.3,79.71 L175,80.17 L175.7,81.04 L176.4,81.45 L177.1,81.9 L177.8,82.86 L178.5,83.29 L179.2,83.4 L179.9,83.79 L180.6,84.25 L181.3,84.81 L182,84.97 L182.7,84.99 L183.4,85.2 L184.1,85.43 L184.8,85.89 L185.5,85.69 L186.2,86.05 L186.9,86.08" fill="none" stroke="#8e1f33" stroke-width="0.6"/>
<line x1="131" y1="98.28" x2="215.6" y2="98.28" stroke="#b76e7a" stroke-width="1.8"/>
<path d="M131.6,98.28 L131.6,98.27 L132.3,98.27 L133,98.27 L133.7,98.27 L134.4,98.26 L135.1,98.25 L135.8,98.24 L136.5,98.23 L137.2,98.21 L137.9,98.19 L138.6,98.17 L139.3,98.14 L140,98.1 L140.7,98.06 L141.4,98 L142.1,97.94 L142.8,98.06 L143.5,97.68 L144.2,97.62 L144.9,97.37 L145.6,97.6 L146.3,97.49 L147,97.12 L147.7,97.02 L148.4,97.06 L149.1,96.73 L149.8,96.72 L150.5,96.38 L151.2,96.55 L151.9,96.33 L152.6,95.82 L153.3,95.91 L154,95.77 L154.7,95.29 L155.4,95.16 L156.1,95.16 L156.8,94.7 L157.5,94.36 L158.2,94.3 L158.9,93.72 L159.6,93.63 L160.3,93.14 L161,92.86 L161.7,92.37 L162.4,91.54 L163.1,91.38 L163.8,90.64 L164.5,90.47 L165.2,89.95 L165.9,89.41 L166.6,89.12 L167.3,89.08 L168,88.56 L168.7,88.34 L169.4,88.44 L170.1,88.52 L170.8,88.35 L171.5,88.89 L172.2,89.51 L172.9,89.92 L173.6,90.63 L174.3,90.96 L175,91.75 L175.7,92.6 L176.4,92.87 L177.1,93.84 L177.8,94.31 L178.5,94.97 L179.2,95.1 L179.9,95.86 L180.6,96.05 L181.3,96.62 L182,96.74 L182.7,96.9 L183.4,97.21 L184.1,97.44 L184.8,97.59 L185.5,97.75 L186.2,97.79 L186.9,97.93 L187.6,98 L188.3,98.07 L189,98.11 L189.7,98.15 L190.4,98.18 L191.1,98.21 L191.8,98.22 L192.5,98.24 L193.2,98.25 L193.9,98.26 L194.6,98.26 L195.3,98.27 L196,98.27 L196.7,98.27 L197.4,98.28 L198.1,98.28 L198.8,98.28 L199.5,98.28 L200.2,98.28 L200.9,98.28 L201.6,98.28 L202.3,98.28 L203,98.28 L203.7,98.28 L204.4,98.28 L205.1,98.28 L205.8,98.28 L206.5,98.28 L207.2,98.28 L207.9,98.28 L208.6,98.28 L209.3,98.28 L210,98.28 L210.7,98.28 L211.4,98.28 L212.1,98.28 L212.8,98.28 L213.5,98.28 L214.2,98.28 L214.9,98.28 L215,98.28 Z" fill="#a33446"/>
<path d="M143.5,97.68 L144.2,97.62 L144.9,97.37 L145.6,97.6 L146.3,97.49 L147,97.12 L147.7,97.02 L148.4,97.06 L149.1,96.73 L149.8,96.72 L150.5,96.38 L151.2,96.55 L151.9,96.33 L152.6,95.82 L153.3,95.91 L154,95.77 L154.7,95.29 L155.4,95.16 L156.1,95.16 L156.8,94.7 L157.5,94.36 L158.2,94.3 L158.9,93.72 L159.6,93.63 L160.3,93.14 L161,92.86 L161.7,92.37 L162.4,91.54 L163.1,91.38 L163.8,90.64 L164.5,90.47 L165.2,89.95 L165.9,89.41 L166.6,89.12 L167.3,89.08 L168,88.56 L168.7,88.34 L169.4,88.44 L170.1,88.52 L170.8,88.35 L171.5,88.89 L172.2,89.51 L172.9,89.92 L173.6,90.63 L174.3,90.96 L175,91.75 L175.7,92.6 L176.4,92.87 L177.1,93.84 L177.8,94.31 L178.5,94.97 L179.2,95.1 L179.9,95.86 L180.6,96.05 L181.3,96.62 L182,96.74 L182.7,96.9 L183.4,97.21 L184.1,97.44 L184.8,97.59 L185.5,97.75 L186.2,97.79 L186.9,97.93" fill="none" stroke="#8e1f33" stroke-width="0.6"/>
<line x1="131" y1="110.1" x2="215.6" y2="110.1" stroke="#b76e7a" stroke-width="1.8"/>
<path d="M131.6,110.1 L131.6,109.87 L132.3,109.83 L133,109.77 L133.7,109.71 L134.4,109.4 L135.1,109.8 L135.8,109.35 L136.5,109.54 L137.2,109.03 L137.9,109.4 L138.6,108.85 L139.3,108.82 L140,108.6 L140.7,108.39 L141.4,108.62 L142.1,108.42 L142.8,108.07 L143.5,108.12 L144.2,107.96 L144.9,107.8 L145.6,107.29 L146.3,107.08 L147,106.9 L147.7,106.96 L148.4,106.37 L149.1,106.31 L149.8,106.17 L150.5,105.75 L151.2,105.44 L151.9,105.27 L152.6,104.66 L153.3,104.37 L154,103.87 L154.7,103.28 L155.4,103 L156.1,102.7 L156.8,102.05 L157.5,101.58 L158.2,101.46 L158.9,100.88 L159.6,101.03 L160.3,100.72 L161,100.52 L161.7,100.03 L162.4,100.19 L163.1,100.36 L163.8,100.87 L164.5,101.13 L165.2,101.38 L165.9,102.26 L166.6,102.77 L167.3,103.35 L168,103.69 L168.7,104.06 L169.4,104.75 L170.1,105.36 L170.8,105.81 L171.5,106.45 L172.2,106.52 L172.9,107.23 L173.6,107.67 L174.3,107.98 L175,108.03 L175.7,108.56 L176.4,108.51 L177.1,109.01 L177.8,109.15 L178.5,109.5 L179.2,109.22 L179.9,109.39 L180.6,109.66 L181.3,109.73 L182,109.8 L182.7,109.86 L183.4,109.91 L184.1,109.94 L184.8,109.98 L185.5,110 L186.2,110.02 L186.9,110.04 L187.6,110.05 L188.3,110.06 L189,110.07 L189.7,110.08 L190.4,110.08 L191.1,110.09 L191.8,110.09 L192.5,110.09 L193.2,110.09 L193.9,110.1 L194.6,110.1 L195.3,110.1 L196,110.1 L196.7,110.1 L197.4,110.1 L198.1,110.1 L198.8,110.1 L199.5,110.1 L200.2,110.1 L200.9,110.1 L201.6,110.1 L202.3,110.1 L203,110.1 L203.7,110.1 L204.4,110.1 L205.1,110.1 L205.8,110.1 L206.5,110.1 L207.2,110.1 L207.9,110.1 L208.6,110.1 L209.3,110.1 L210,110.1 L210.7,110.1 L211.4,110.1 L212.1,110.1 L212.8,110.1 L213.5,110.1 L214.2,110.1 L214.9,110.1 L215,110.1 Z" fill="#a33446"/>
<path d="M133.7,109.71 L134.4,109.4 M135.8,109.35 L136.5,109.54 L137.2,109.03 L137.9,109.4 L138.6,108.85 L139.3,108.82 L140,108.6 L140.7,108.39 L141.4,108.62 L142.1,108.42 L142.8,108.07 L143.5,108.12 L144.2,107.96 L144.9,107.8 L145.6,107.29 L146.3,107.08 L147,106.9 L147.7,106.96 L148.4,106.37 L149.1,106.31 L149.8,106.17 L150.5,105.75 L151.2,105.44 L151.9,105.27 L152.6,104.66 L153.3,104.37 L154,103.87 L154.7,103.28 L155.4,103 L156.1,102.7 L156.8,102.05 L157.5,101.58 L158.2,101.46 L158.9,100.88 L159.6,101.03 L160.3,100.72 L161,100.52 L161.7,100.03 L162.4,100.19 L163.1,100.36 L163.8,100.87 L164.5,101.13 L165.2,101.38 L165.9,102.26 L166.6,102.77 L167.3,103.35 L168,103.69 L168.7,104.06 L169.4,104.75 L170.1,105.36 L170.8,105.81 L171.5,106.45 L172.2,106.52 L172.9,107.23 L173.6,107.67 L174.3,107.98 L175,108.03 L175.7,108.56 L176.4,108.51 L177.1,109.01 L177.8,109.15 L178.5,109.5 L179.2,109.22 L179.9,109.39 L180.6,109.66 L181.3,109.73" fill="none" stroke="#8e1f33" stroke-width="0.6"/>
<path d="M131.6,121.3 L131.6,121.3 L132.3,121.29 L133,121.29 L133.7,121.29 L134.4,121.29 L135.1,121.29 L135.8,121.28 L136.5,121.28 L137.2,121.27 L137.9,121.26 L138.6,121.26 L139.3,121.25 L140,121.23 L140.7,121.22 L141.4,121.2 L142.1,121.18 L142.8,121.15 L143.5,121.12 L144.2,121.09 L144.9,121.05 L145.6,121 L146.3,120.94 L147,120.94 L147.7,120.81 L148.4,120.75 L149.1,120.64 L149.8,120.55 L150.5,120.29 L151.2,120.35 L151.9,120 L152.6,120.13 L153.3,119.79 L154,119.55 L154.7,119.4 L155.4,118.84 L156.1,118.77 L156.8,118.23 L157.5,117.82 L158.2,117.82 L158.9,117.13 L159.6,116.79 L160.3,116.46 L161,116.37 L161.7,115.74 L162.4,115.24 L163.1,114.99 L163.8,114.61 L164.5,114.17 L165.2,113.82 L165.9,113.2 L166.6,113.11 L167.3,112.8 L168,112.47 L168.7,112.16 L169.4,112.41 L170.1,112.59 L170.8,112.29 L171.5,112.6 L172.2,112.93 L172.9,113.42 L173.6,113.96 L174.3,114.43 L175,114.81 L175.7,115.19 L176.4,115.86 L177.1,116.01 L177.8,116.45 L178.5,117.24 L179.2,117.25 L179.9,117.83 L180.6,117.99 L181.3,118.57 L182,118.73 L182.7,119.2 L183.4,119.39 L184.1,119.69 L184.8,120.15 L185.5,120.29 L186.2,120.42 L186.9,120.48 L187.6,120.63 L188.3,120.66 L189,120.7 L189.7,120.92 L190.4,120.94 L191.1,121.01 L191.8,121.06 L192.5,121.1 L193.2,121.14 L193.9,121.17 L194.6,121.19 L195.3,121.22 L196,121.23 L196.7,121.25 L197.4,121.26 L198.1,121.27 L198.8,121.27 L199.5,121.28 L200.2,121.28 L200.9,121.29 L201.6,121.29 L202.3,121.29 L203,121.29 L203.7,121.3 L204.4,121.3 L205.1,121.3 L205.8,121.3 L206.5,121.3 L207.2,121.3 L207.9,121.3 L208.6,121.3 L209.3,121.3 L210,121.3 L210.7,121.3 L211.4,121.3 L212.1,121.3 L212.8,121.3 L213.5,121.3 L214.2,121.3 L214.9,121.3 L215,121.3 Z" fill="#5a6ca0"/>
<path d="M146.3,120.94 L147,120.94 L147.7,120.81 L148.4,120.75 L149.1,120.64 L149.8,120.55 L150.5,120.29 L151.2,120.35 L151.9,120 L152.6,120.13 L153.3,119.79 L154,119.55 L154.7,119.4 L155.4,118.84 L156.1,118.77 L156.8,118.23 L157.5,117.82 L158.2,117.82 L158.9,117.13 L159.6,116.79 L160.3,116.46 L161,116.37 L161.7,115.74 L162.4,115.24 L163.1,114.99 L163.8,114.61 L164.5,114.17 L165.2,113.82 L165.9,113.2 L166.6,113.11 L167.3,112.8 L168,112.47 L168.7,112.16 L169.4,112.41 L170.1,112.59 L170.8,112.29 L171.5,112.6 L172.2,112.93 L172.9,113.42 L173.6,113.96 L174.3,114.43 L175,114.81 L175.7,115.19 L176.4,115.86 L177.1,116.01 L177.8,116.45 L178.5,117.24 L179.2,117.25 L179.9,117.83 L180.6,117.99 L181.3,118.57 L182,118.73 L182.7,119.2 L183.4,119.39 L184.1,119.69 L184.8,120.15 L185.5,120.29 L186.2,120.42 L186.9,120.48 L187.6,120.63 L188.3,120.66 L189,120.7 L189.7,120.92 L190.4,120.94" fill="none" stroke="#3d5593" stroke-width="0.6"/>
<rect x="131" y="37.05" width="84.6" height="84.55" fill="none" stroke="#231f20" stroke-width="1.45"/>
<line x1="221.6" y1="51" x2="305.7" y2="51" stroke="#b76e7a" stroke-width="1.8"/>
<path d="M222.2,51 L222.2,51 L222.9,51 L223.6,51 L224.3,51 L225,51 L225.7,51 L226.4,51 L227.1,51 L227.8,51 L228.5,51 L229.2,51 L229.9,51 L230.6,51 L231.3,51 L232,51 L232.7,51 L233.4,51 L234.1,51 L234.8,51 L235.5,51 L236.2,51 L236.9,51 L237.6,51 L238.3,50.99 L239,50.99 L239.7,50.99 L240.4,50.99 L241.1,50.98 L241.8,50.98 L242.5,50.97 L243.2,50.96 L243.9,50.94 L244.6,50.92 L245.3,50.9 L246,50.87 L246.7,50.83 L247.4,50.79 L248.1,50.73 L248.8,50.67 L249.5,50.38 L250.2,50.39 L250.9,50.23 L251.6,50.03 L252.3,50.19 L253,49.81 L253.7,49.46 L254.4,49.23 L255.1,49.1 L255.8,48.99 L256.5,48.52 L257.2,47.85 L257.9,47.88 L258.6,47.33 L259.3,46.55 L260,46.3 L260.7,45.9 L261.4,45.32 L262.1,44.49 L262.8,44.24 L263.5,43.66 L264.2,43.05 L264.9,42.47 L265.6,42.18 L266.3,41.98 L267,41.37 L267.7,41.34 L268.4,41.08 L269.1,40.87 L269.8,40.52 L270.5,40.71 L271.2,40.59 L271.9,41.02 L272.6,41.31 L273.3,41.7 L274,41.78 L274.7,42.19 L275.4,43.05 L276.1,43.61 L276.8,44.32 L277.5,44.62 L278.2,45.4 L278.9,46.09 L279.6,46.41 L280.3,46.99 L281,47.58 L281.7,48.2 L282.4,48.4 L283.1,48.83 L283.8,49.24 L284.5,49.68 L285.2,49.56 L285.9,49.82 L286.6,50.1 L287.3,50.11 L288,50.45 L288.7,50.6 L289.4,50.69 L290.1,50.76 L290.8,50.82 L291.5,50.86 L292.2,50.9 L292.9,50.92 L293.6,50.94 L294.3,50.96 L295,50.97 L295.7,50.98 L296.4,50.99 L297.1,50.99 L297.8,50.99 L298.5,51 L299.2,51 L299.9,51 L300.6,51 L301.3,51 L302,51 L302.7,51 L303.4,51 L304.1,51 L304.8,51 L305.1,51 Z" fill="#a33446"/>
<path d="M249.5,50.38 L250.2,50.39 L250.9,50.23 L251.6,50.03 L252.3,50.19 L253,49.81 L253.7,49.46 L254.4,49.23 L255.1,49.1 L255.8,48.99 L256.5,48.52 L257.2,47.85 L257.9,47.88 L258.6,47.33 L259.3,46.55 L260,46.3 L260.7,45.9 L261.4,45.32 L262.1,44.49 L262.8,44.24 L263.5,43.66 L264.2,43.05 L264.9,42.47 L265.6,42.18 L266.3,41.98 L267,41.37 L267.7,41.34 L268.4,41.08 L269.1,40.87 L269.8,40.52 L270.5,40.71 L271.2,40.59 L271.9,41.02 L272.6,41.31 L273.3,41.7 L274,41.78 L274.7,42.19 L275.4,43.05 L276.1,43.61 L276.8,44.32 L277.5,44.62 L278.2,45.4 L278.9,46.09 L279.6,46.41 L280.3,46.99 L281,47.58 L281.7,48.2 L282.4,48.4 L283.1,48.83 L283.8,49.24 L284.5,49.68 L285.2,49.56 L285.9,49.82 L286.6,50.1 L287.3,50.11 L288,50.45 L288.7,50.6" fill="none" stroke="#8e1f33" stroke-width="0.6"/>
<line x1="221.6" y1="62.82" x2="305.7" y2="62.82" stroke="#b76e7a" stroke-width="1.8"/>
<path d="M222.2,62.82 L222.2,62.82 L222.9,62.82 L223.6,62.82 L224.3,62.82 L225,62.82 L225.7,62.82 L226.4,62.82 L227.1,62.82 L227.8,62.82 L228.5,62.82 L229.2,62.82 L229.9,62.82 L230.6,62.82 L231.3,62.82 L232,62.82 L232.7,62.82 L233.4,62.82 L234.1,62.81 L234.8,62.81 L235.5,62.81 L236.2,62.8 L236.9,62.8 L237.6,62.79 L238.3,62.78 L239,62.77 L239.7,62.76 L240.4,62.74 L241.1,62.71 L241.8,62.68 L242.5,62.64 L243.2,62.6 L243.9,62.54 L244.6,62.47 L245.3,62.56 L246,62.2 L246.7,62.11 L247.4,62.05 L248.1,62.02 L248.8,61.55 L249.5,61.33 L250.2,61.24 L250.9,60.98 L251.6,60.81 L252.3,60.6 L253,60.05 L253.7,59.56 L254.4,59.39 L255.1,58.59 L255.8,58.4 L256.5,57.91 L257.2,57.5 L257.9,56.52 L258.6,56.14 L259.3,55.57 L260,55.21 L260.7,55.03 L261.4,54.45 L262.1,53.96 L262.8,53.8 L263.5,53.08 L264.2,53.13 L264.9,53.05 L265.6,52.61 L266.3,52.91 L267,52.54 L267.7,52.92 L268.4,53.1 L269.1,53.52 L269.8,53.85 L270.5,54.47 L271.2,55.07 L271.9,55.22 L272.6,56.13 L273.3,56.47 L274,57.36 L274.7,57.58 L275.4,58.2 L276.1,58.83 L276.8,59.34 L277.5,59.91 L278.2,60.27 L278.9,60.96 L279.6,61.13 L280.3,61.25 L281,61.82 L281.7,61.68 L282.4,61.89 L283.1,62.28 L283.8,62.43 L284.5,62.46 L285.2,62.55 L285.9,62.61 L286.6,62.66 L287.3,62.7 L288,62.73 L288.7,62.76 L289.4,62.77 L290.1,62.79 L290.8,62.8 L291.5,62.8 L292.2,62.81 L292.9,62.81 L293.6,62.81 L294.3,62.82 L295,62.82 L295.7,62.82 L296.4,62.82 L297.1,62.82 L297.8,62.82 L298.5,62.82 L299.2,62.82 L299.9,62.82 L300.6,62.82 L301.3,62.82 L302,62.82 L302.7,62.82 L303.4,62.82 L304.1,62.82 L304.8,62.82 L305.1,62.82 Z" fill="#a33446"/>
<path d="M246,62.2 L246.7,62.11 L247.4,62.05 L248.1,62.02 L248.8,61.55 L249.5,61.33 L250.2,61.24 L250.9,60.98 L251.6,60.81 L252.3,60.6 L253,60.05 L253.7,59.56 L254.4,59.39 L255.1,58.59 L255.8,58.4 L256.5,57.91 L257.2,57.5 L257.9,56.52 L258.6,56.14 L259.3,55.57 L260,55.21 L260.7,55.03 L261.4,54.45 L262.1,53.96 L262.8,53.8 L263.5,53.08 L264.2,53.13 L264.9,53.05 L265.6,52.61 L266.3,52.91 L267,52.54 L267.7,52.92 L268.4,53.1 L269.1,53.52 L269.8,53.85 L270.5,54.47 L271.2,55.07 L271.9,55.22 L272.6,56.13 L273.3,56.47 L274,57.36 L274.7,57.58 L275.4,58.2 L276.1,58.83 L276.8,59.34 L277.5,59.91 L278.2,60.27 L278.9,60.96 L279.6,61.13 L280.3,61.25 L281,61.82 L281.7,61.68 L282.4,61.89 L283.1,62.28 L283.8,62.43 L284.5,62.46" fill="none" stroke="#8e1f33" stroke-width="0.6"/>
<line x1="221.6" y1="74.64" x2="305.7" y2="74.64" stroke="#b76e7a" stroke-width="1.8"/>
<path d="M222.2,74.64 L222.2,74.64 L222.9,74.64 L223.6,74.64 L224.3,74.64 L225,74.64 L225.7,74.64 L226.4,74.64 L227.1,74.64 L227.8,74.64 L228.5,74.64 L229.2,74.64 L229.9,74.63 L230.6,74.63 L231.3,74.63 L232,74.63 L232.7,74.62 L233.4,74.62 L234.1,74.61 L234.8,74.6 L235.5,74.59 L236.2,74.57 L236.9,74.55 L237.6,74.53 L238.3,74.5 L239,74.46 L239.7,74.41 L240.4,74.36 L241.1,74.29 L241.8,73.98 L242.5,74.29 L243.2,74.24 L243.9,73.62 L244.6,73.87 L245.3,73.73 L246,73.26 L246.7,73.18 L247.4,72.66 L248.1,72.7 L248.8,72.02 L249.5,71.99 L250.2,71.48 L250.9,70.91 L251.6,70.61 L252.3,70.04 L253,69.67 L253.7,69.52 L254.4,68.61 L255.1,68.26 L255.8,67.9 L256.5,67.47 L257.2,66.68 L257.9,66.37 L258.6,65.78 L259.3,65.49 L260,65.07 L260.7,64.99 L261.4,64.71 L262.1,64.6 L262.8,64.69 L263.5,64.31 L264.2,64.7 L264.9,64.63 L265.6,64.8 L266.3,65.3 L267,65.97 L267.7,66.11 L268.4,66.73 L269.1,67.55 L269.8,68.22 L270.5,68.59 L271.2,69.45 L271.9,69.6 L272.6,70.38 L273.3,70.92 L274,71.48 L274.7,71.82 L275.4,72.11 L276.1,72.79 L276.8,73.09 L277.5,73.27 L278.2,73.66 L278.9,73.72 L279.6,73.92 L280.3,74.13 L281,74.13 L281.7,74.31 L282.4,74.39 L283.1,74.45 L283.8,74.5 L284.5,74.53 L285.2,74.56 L285.9,74.58 L286.6,74.6 L287.3,74.61 L288,74.62 L288.7,74.63 L289.4,74.63 L290.1,74.63 L290.8,74.64 L291.5,74.64 L292.2,74.64 L292.9,74.64 L293.6,74.64 L294.3,74.64 L295,74.64 L295.7,74.64 L296.4,74.64 L297.1,74.64 L297.8,74.64 L298.5,74.64 L299.2,74.64 L299.9,74.64 L300.6,74.64 L301.3,74.64 L302,74.64 L302.7,74.64 L303.4,74.64 L304.1,74.64 L304.8,74.64 L305.1,74.64 Z" fill="#a33446"/>
<path d="M241.1,74.29 L241.8,73.98 M243.2,74.24 L243.9,73.62 L244.6,73.87 L245.3,73.73 L246,73.26 L246.7,73.18 L247.4,72.66 L248.1,72.7 L248.8,72.02 L249.5,71.99 L250.2,71.48 L250.9,70.91 L251.6,70.61 L252.3,70.04 L253,69.67 L253.7,69.52 L254.4,68.61 L255.1,68.26 L255.8,67.9 L256.5,67.47 L257.2,66.68 L257.9,66.37 L258.6,65.78 L259.3,65.49 L260,65.07 L260.7,64.99 L261.4,64.71 L262.1,64.6 L262.8,64.69 L263.5,64.31 L264.2,64.7 L264.9,64.63 L265.6,64.8 L266.3,65.3 L267,65.97 L267.7,66.11 L268.4,66.73 L269.1,67.55 L269.8,68.22 L270.5,68.59 L271.2,69.45 L271.9,69.6 L272.6,70.38 L273.3,70.92 L274,71.48 L274.7,71.82 L275.4,72.11 L276.1,72.79 L276.8,73.09 L277.5,73.27 L278.2,73.66 L278.9,73.72 L279.6,73.92 L280.3,74.13 L281,74.13" fill="none" stroke="#8e1f33" stroke-width="0.6"/>
<line x1="221.6" y1="86.46" x2="305.7" y2="86.46" stroke="#b76e7a" stroke-width="1.8"/>
<path d="M222.2,86.46 L222.2,86.46 L222.9,86.46 L223.6,86.46 L224.3,86.46 L225,86.46 L225.7,86.46 L226.4,86.46 L227.1,86.45 L227.8,86.45 L228.5,86.45 L229.2,86.45 L229.9,86.44 L230.6,86.43 L231.3,86.43 L232,86.42 L232.7,86.4 L233.4,86.39 L234.1,86.37 L234.8,86.34 L235.5,86.31 L236.2,86.27 L236.9,86.22 L237.6,86.17 L238.3,86.1 L239,85.8 L239.7,85.7 L240.4,85.61 L241.1,85.89 L241.8,85.48 L242.5,85.39 L243.2,85.14 L243.9,85.12 L244.6,84.84 L245.3,84.43 L246,84.24 L246.7,83.79 L247.4,83.64 L248.1,83.22 L248.8,82.49 L249.5,82.2 L250.2,81.7 L250.9,81.12 L251.6,80.82 L252.3,80.49 L253,79.64 L253.7,79.26 L254.4,78.76 L255.1,78.33 L255.8,77.74 L256.5,77.67 L257.2,77.13 L257.9,77.03 L258.6,76.69 L259.3,76.47 L260,76.52 L260.7,76.57 L261.4,76.39 L262.1,76.37 L262.8,76.64 L263.5,77.01 L264.2,77.29 L264.9,77.97 L265.6,78.48 L266.3,78.97 L267,79.31 L267.7,80.22 L268.4,80.88 L269.1,81.49 L269.8,82.11 L270.5,82.55 L271.2,82.93 L271.9,83.29 L272.6,83.99 L273.3,84.37 L274,84.77 L274.7,85.07 L275.4,85.1 L276.1,85.45 L276.8,85.79 L277.5,86.03 L278.2,85.82 L278.9,86.08 L279.6,86.16 L280.3,86.23 L281,86.29 L281.7,86.33 L282.4,86.37 L283.1,86.39 L283.8,86.41 L284.5,86.42 L285.2,86.43 L285.9,86.44 L286.6,86.45 L287.3,86.45 L288,86.45 L288.7,86.46 L289.4,86.46 L290.1,86.46 L290.8,86.46 L291.5,86.46 L292.2,86.46 L292.9,86.46 L293.6,86.46 L294.3,86.46 L295,86.46 L295.7,86.46 L296.4,86.46 L297.1,86.46 L297.8,86.46 L298.5,86.46 L299.2,86.46 L299.9,86.46 L300.6,86.46 L301.3,86.46 L302,86.46 L302.7,86.46 L303.4,86.46 L304.1,86.46 L304.8,86.46 L305.1,86.46 Z" fill="#a33446"/>
<path d="M238.3,86.1 L239,85.8 L239.7,85.7 L240.4,85.61 L241.1,85.89 L241.8,85.48 L242.5,85.39 L243.2,85.14 L243.9,85.12 L244.6,84.84 L245.3,84.43 L246,84.24 L246.7,83.79 L247.4,83.64 L248.1,83.22 L248.8,82.49 L249.5,82.2 L250.2,81.7 L250.9,81.12 L251.6,80.82 L252.3,80.49 L253,79.64 L253.7,79.26 L254.4,78.76 L255.1,78.33 L255.8,77.74 L256.5,77.67 L257.2,77.13 L257.9,77.03 L258.6,76.69 L259.3,76.47 L260,76.52 L260.7,76.57 L261.4,76.39 L262.1,76.37 L262.8,76.64 L263.5,77.01 L264.2,77.29 L264.9,77.97 L265.6,78.48 L266.3,78.97 L267,79.31 L267.7,80.22 L268.4,80.88 L269.1,81.49 L269.8,82.11 L270.5,82.55 L271.2,82.93 L271.9,83.29 L272.6,83.99 L273.3,84.37 L274,84.77 L274.7,85.07 L275.4,85.1 L276.1,85.45 L276.8,85.79 L277.5,86.03 L278.2,85.82 L278.9,86.08" fill="none" stroke="#8e1f33" stroke-width="0.6"/>
<line x1="221.6" y1="98.28" x2="305.7" y2="98.28" stroke="#b76e7a" stroke-width="1.8"/>
<path d="M222.2,98.28 L222.2,98.28 L222.9,98.28 L223.6,98.28 L224.3,98.28 L225,98.28 L225.7,98.28 L226.4,98.28 L227.1,98.28 L227.8,98.28 L228.5,98.27 L229.2,98.27 L229.9,98.27 L230.6,98.27 L231.3,98.26 L232,98.25 L232.7,98.25 L233.4,98.24 L234.1,98.22 L234.8,98.2 L235.5,98.18 L236.2,98.15 L236.9,98.11 L237.6,98.07 L238.3,98.01 L239,97.94 L239.7,97.76 L240.4,97.59 L241.1,97.81 L241.8,97.26 L242.5,97.5 L243.2,97.08 L243.9,97.15 L244.6,96.57 L245.3,96.6 L246,96.02 L246.7,95.67 L247.4,95.27 L248.1,95.03 L248.8,94.38 L249.5,93.86 L250.2,93.81 L250.9,93.11 L251.6,92.37 L252.3,91.96 L253,91.59 L253.7,91.14 L254.4,90.33 L255.1,90.29 L255.8,89.52 L256.5,89.09 L257.2,89.09 L257.9,88.73 L258.6,88.52 L259.3,88.25 L260,88.26 L260.7,87.99 L261.4,88.07 L262.1,88.57 L262.8,88.56 L263.5,89.34 L264.2,89.77 L264.9,89.98 L265.6,90.47 L266.3,91.04 L267,91.56 L267.7,92.24 L268.4,93.14 L269.1,93.49 L269.8,93.97 L270.5,94.92 L271.2,95.21 L271.9,95.83 L272.6,96.25 L273.3,96.44 L274,96.66 L274.7,96.79 L275.4,97.45 L276.1,97.46 L276.8,97.38 L277.5,97.64 L278.2,97.88 L278.9,97.97 L279.6,98.05 L280.3,98.1 L281,98.15 L281.7,98.18 L282.4,98.21 L283.1,98.23 L283.8,98.24 L284.5,98.25 L285.2,98.26 L285.9,98.27 L286.6,98.27 L287.3,98.27 L288,98.28 L288.7,98.28 L289.4,98.28 L290.1,98.28 L290.8,98.28 L291.5,98.28 L292.2,98.28 L292.9,98.28 L293.6,98.28 L294.3,98.28 L295,98.28 L295.7,98.28 L296.4,98.28 L297.1,98.28 L297.8,98.28 L298.5,98.28 L299.2,98.28 L299.9,98.28 L300.6,98.28 L301.3,98.28 L302,98.28 L302.7,98.28 L303.4,98.28 L304.1,98.28 L304.8,98.28 L305.1,98.28 Z" fill="#a33446"/>
<path d="M239.7,97.76 L240.4,97.59 L241.1,97.81 L241.8,97.26 L242.5,97.5 L243.2,97.08 L243.9,97.15 L244.6,96.57 L245.3,96.6 L246,96.02 L246.7,95.67 L247.4,95.27 L248.1,95.03 L248.8,94.38 L249.5,93.86 L250.2,93.81 L250.9,93.11 L251.6,92.37 L252.3,91.96 L253,91.59 L253.7,91.14 L254.4,90.33 L255.1,90.29 L255.8,89.52 L256.5,89.09 L257.2,89.09 L257.9,88.73 L258.6,88.52 L259.3,88.25 L260,88.26 L260.7,87.99 L261.4,88.07 L262.1,88.57 L262.8,88.56 L263.5,89.34 L264.2,89.77 L264.9,89.98 L265.6,90.47 L266.3,91.04 L267,91.56 L267.7,92.24 L268.4,93.14 L269.1,93.49 L269.8,93.97 L270.5,94.92 L271.2,95.21 L271.9,95.83 L272.6,96.25 L273.3,96.44 L274,96.66 L274.7,96.79 L275.4,97.45 L276.1,97.46 L276.8,97.38 L277.5,97.64 L278.2,97.88" fill="none" stroke="#8e1f33" stroke-width="0.6"/>
<line x1="221.6" y1="110.1" x2="305.7" y2="110.1" stroke="#b76e7a" stroke-width="1.8"/>
<path d="M222.2,110.1 L222.2,110.1 L222.9,110.1 L223.6,110.1 L224.3,110.1 L225,110.1 L225.7,110.1 L226.4,110.1 L227.1,110.1 L227.8,110.09 L228.5,110.09 L229.2,110.09 L229.9,110.08 L230.6,110.08 L231.3,110.07 L232,110.06 L232.7,110.04 L233.4,110.02 L234.1,110 L234.8,109.97 L235.5,109.93 L236.2,109.89 L236.9,109.83 L237.6,109.76 L238.3,109.73 L239,109.35 L239.7,109.27 L240.4,109.44 L241.1,108.94 L241.8,108.86 L242.5,108.93 L243.2,108.21 L243.9,108.27 L244.6,107.92 L245.3,107.5 L246,107.02 L246.7,106.82 L247.4,106.08 L248.1,105.52 L248.8,105.18 L249.5,104.51 L250.2,104.06 L250.9,103.43 L251.6,103.22 L252.3,102.62 L253,102.07 L253.7,101.8 L254.4,100.95 L255.1,100.76 L255.8,100.72 L256.5,100.24 L257.2,100.16 L257.9,100.18 L258.6,100.17 L259.3,100.1 L260,100.48 L260.7,100.5 L261.4,100.88 L262.1,101.5 L262.8,101.62 L263.5,102.58 L264.2,103.1 L264.9,103.38 L265.6,104.29 L266.3,104.8 L267,105.32 L267.7,105.95 L268.4,106.46 L269.1,106.96 L269.8,107.43 L270.5,108.05 L271.2,108.04 L271.9,108.64 L272.6,109.04 L273.3,109.1 L274,109.1 L274.7,109.36 L275.4,109.59 L276.1,109.7 L276.8,109.78 L277.5,109.86 L278.2,109.92 L278.9,109.96 L279.6,110 L280.3,110.02 L281,110.04 L281.7,110.06 L282.4,110.07 L283.1,110.08 L283.8,110.09 L284.5,110.09 L285.2,110.09 L285.9,110.1 L286.6,110.1 L287.3,110.1 L288,110.1 L288.7,110.1 L289.4,110.1 L290.1,110.1 L290.8,110.1 L291.5,110.1 L292.2,110.1 L292.9,110.1 L293.6,110.1 L294.3,110.1 L295,110.1 L295.7,110.1 L296.4,110.1 L297.1,110.1 L297.8,110.1 L298.5,110.1 L299.2,110.1 L299.9,110.1 L300.6,110.1 L301.3,110.1 L302,110.1 L302.7,110.1 L303.4,110.1 L304.1,110.1 L304.8,110.1 L305.1,110.1 Z" fill="#a33446"/>
<path d="M238.3,109.73 L239,109.35 L239.7,109.27 L240.4,109.44 L241.1,108.94 L241.8,108.86 L242.5,108.93 L243.2,108.21 L243.9,108.27 L244.6,107.92 L245.3,107.5 L246,107.02 L246.7,106.82 L247.4,106.08 L248.1,105.52 L248.8,105.18 L249.5,104.51 L250.2,104.06 L250.9,103.43 L251.6,103.22 L252.3,102.62 L253,102.07 L253.7,101.8 L254.4,100.95 L255.1,100.76 L255.8,100.72 L256.5,100.24 L257.2,100.16 L257.9,100.18 L258.6,100.17 L259.3,100.1 L260,100.48 L260.7,100.5 L261.4,100.88 L262.1,101.5 L262.8,101.62 L263.5,102.58 L264.2,103.1 L264.9,103.38 L265.6,104.29 L266.3,104.8 L267,105.32 L267.7,105.95 L268.4,106.46 L269.1,106.96 L269.8,107.43 L270.5,108.05 L271.2,108.04 L271.9,108.64 L272.6,109.04 L273.3,109.1 L274,109.1 L274.7,109.36 L275.4,109.59 L276.1,109.7" fill="none" stroke="#8e1f33" stroke-width="0.6"/>
<path d="M222.2,121.3 L222.2,121.3 L222.9,121.3 L223.6,121.3 L224.3,121.3 L225,121.3 L225.7,121.3 L226.4,121.3 L227.1,121.3 L227.8,121.3 L228.5,121.3 L229.2,121.3 L229.9,121.3 L230.6,121.3 L231.3,121.29 L232,121.29 L232.7,121.29 L233.4,121.29 L234.1,121.28 L234.8,121.28 L235.5,121.27 L236.2,121.26 L236.9,121.25 L237.6,121.23 L238.3,121.22 L239,121.19 L239.7,121.16 L240.4,121.13 L241.1,121.09 L241.8,121.04 L242.5,120.98 L243.2,120.9 L243.9,120.7 L244.6,120.87 L245.3,120.75 L246,120.42 L246.7,120.53 L247.4,120 L248.1,119.81 L248.8,119.94 L249.5,119.38 L250.2,119.19 L250.9,118.83 L251.6,118.35 L252.3,117.98 L253,117.9 L253.7,117.3 L254.4,116.92 L255.1,116.41 L255.8,116.45 L256.5,115.56 L257.2,115.49 L257.9,115.11 L258.6,114.46 L259.3,113.94 L260,113.51 L260.7,113.47 L261.4,112.94 L262.1,113.08 L262.8,112.39 L263.5,112.57 L264.2,112.34 L264.9,112.49 L265.6,112.54 L266.3,112.64 L267,112.49 L267.7,112.72 L268.4,112.87 L269.1,113.18 L269.8,113.77 L270.5,113.98 L271.2,114.75 L271.9,114.89 L272.6,115.69 L273.3,115.83 L274,116.6 L274.7,117.05 L275.4,117.46 L276.1,118.13 L276.8,118.53 L277.5,118.68 L278.2,118.95 L278.9,119.6 L279.6,119.71 L280.3,119.98 L281,120 L281.7,120.09 L282.4,120.71 L283.1,120.63 L283.8,120.97 L284.5,120.74 L285.2,120.96 L285.9,121.03 L286.6,121.09 L287.3,121.14 L288,121.17 L288.7,121.2 L289.4,121.23 L290.1,121.24 L290.8,121.26 L291.5,121.27 L292.2,121.28 L292.9,121.28 L293.6,121.29 L294.3,121.29 L295,121.29 L295.7,121.3 L296.4,121.3 L297.1,121.3 L297.8,121.3 L298.5,121.3 L299.2,121.3 L299.9,121.3 L300.6,121.3 L301.3,121.3 L302,121.3 L302.7,121.3 L303.4,121.3 L304.1,121.3 L304.8,121.3 L305.1,121.3 Z" fill="#586a9c"/>
<path d="M243.2,120.9 L243.9,120.7 L244.6,120.87 L245.3,120.75 L246,120.42 L246.7,120.53 L247.4,120 L248.1,119.81 L248.8,119.94 L249.5,119.38 L250.2,119.19 L250.9,118.83 L251.6,118.35 L252.3,117.98 L253,117.9 L253.7,117.3 L254.4,116.92 L255.1,116.41 L255.8,116.45 L256.5,115.56 L257.2,115.49 L257.9,115.11 L258.6,114.46 L259.3,113.94 L260,113.51 L260.7,113.47 L261.4,112.94 L262.1,113.08 L262.8,112.39 L263.5,112.57 L264.2,112.34 L264.9,112.49 L265.6,112.54 L266.3,112.64 L267,112.49 L267.7,112.72 L268.4,112.87 L269.1,113.18 L269.8,113.77 L270.5,113.98 L271.2,114.75 L271.9,114.89 L272.6,115.69 L273.3,115.83 L274,116.6 L274.7,117.05 L275.4,117.46 L276.1,118.13 L276.8,118.53 L277.5,118.68 L278.2,118.95 L278.9,119.6 L279.6,119.71 L280.3,119.98 L281,120 L281.7,120.09 L282.4,120.71 L283.1,120.63" fill="none" stroke="#3d5593" stroke-width="0.6"/>
<rect x="221.6" y="37.8" width="84.1" height="83.8" fill="none" stroke="#231f20" stroke-width="1.45"/>
<path d="M40,121.4v3.4 M47.35,121.4v2 M51.64,121.4v2 M54.69,121.4v2 M57.05,121.4v2 M58.99,121.4v2 M60.62,121.4v2 M62.04,121.4v2 M63.28,121.4v2 M64.4,121.4v3.4 M71.75,121.4v2 M76.04,121.4v2 M79.09,121.4v2 M81.45,121.4v2 M83.39,121.4v2 M85.02,121.4v2 M86.44,121.4v2 M87.68,121.4v2 M88.8,121.4v3.4 M96.15,121.4v2 M100.44,121.4v2 M103.49,121.4v2 M105.85,121.4v2 M107.79,121.4v2 M109.42,121.4v2 M110.84,121.4v2 M112.08,121.4v2 M113.2,121.4v3.4 M120.55,121.4v2" stroke="#231f20" stroke-width="0.9" fill="none"/>
<path d="M132.69,121.4v2 M135.75,121.4v2 M138.12,121.4v2 M140.06,121.4v2 M141.7,121.4v2 M143.13,121.4v2 M144.38,121.4v2 M145.5,121.4v3.4 M152.88,121.4v2 M157.19,121.4v2 M160.25,121.4v2 M162.62,121.4v2 M164.56,121.4v2 M166.2,121.4v2 M167.63,121.4v2 M168.88,121.4v2 M170,121.4v3.4 M177.38,121.4v2 M181.69,121.4v2 M184.75,121.4v2 M187.12,121.4v2 M189.06,121.4v2 M190.7,121.4v2 M192.13,121.4v2 M193.38,121.4v2 M194.5,121.4v3.4 M201.88,121.4v2 M206.19,121.4v2 M209.25,121.4v2 M211.62,121.4v2 M213.56,121.4v2 M215.2,121.4v2" stroke="#231f20" stroke-width="0.9" fill="none"/>
<path d="M224.17,121.4v2 M227.35,121.4v2 M229.82,121.4v2 M231.84,121.4v2 M233.55,121.4v2 M235.03,121.4v2 M236.33,121.4v2 M237.5,121.4v3.4 M245.18,121.4v2 M249.67,121.4v2 M252.85,121.4v2 M255.32,121.4v2 M257.34,121.4v2 M259.05,121.4v2 M260.53,121.4v2 M261.83,121.4v2 M263,121.4v3.4 M270.68,121.4v2 M275.17,121.4v2 M278.35,121.4v2 M280.82,121.4v2 M282.84,121.4v2 M284.55,121.4v2 M286.03,121.4v2 M287.33,121.4v2 M288.5,121.4v3.4 M296.18,121.4v2 M300.67,121.4v2 M303.85,121.4v2" stroke="#231f20" stroke-width="0.9" fill="none"/>
<text x="41.5" y="136" font-family="'Liberation Sans', sans-serif" stroke="#231f20" stroke-width="0.22" font-size="8.4" fill="#231f20">10<tspan dy="-3.9" font-size="6.4">2</tspan></text>
<text x="67.7" y="136" font-family="'Liberation Sans', sans-serif" stroke="#231f20" stroke-width="0.22" font-size="8.4" fill="#231f20">10<tspan dy="-3.9" font-size="6.4">3</tspan></text>
<text x="90.5" y="136" font-family="'Liberation Sans', sans-serif" stroke="#231f20" stroke-width="0.22" font-size="8.4" fill="#231f20">10<tspan dy="-3.9" font-size="6.4">4</tspan></text>
<text x="113.3" y="136" font-family="'Liberation Sans', sans-serif" stroke="#231f20" stroke-width="0.22" font-size="8.4" fill="#231f20">10<tspan dy="-3.9" font-size="6.4">5</tspan></text>
<text x="142.7" y="136" font-family="'Liberation Sans', sans-serif" stroke="#231f20" stroke-width="0.22" font-size="8.4" fill="#231f20">10<tspan dy="-3.9" font-size="6.4">3</tspan></text>
<text x="170.4" y="136" font-family="'Liberation Sans', sans-serif" stroke="#231f20" stroke-width="0.22" font-size="8.4" fill="#231f20">10<tspan dy="-3.9" font-size="6.4">4</tspan></text>
<text x="201.5" y="136" font-family="'Liberation Sans', sans-serif" stroke="#231f20" stroke-width="0.22" font-size="8.4" fill="#231f20">10<tspan dy="-3.9" font-size="6.4">5</tspan></text>
<text x="222.3" y="136" font-family="'Liberation Sans', sans-serif" stroke="#231f20" stroke-width="0.22" font-size="8.4" fill="#231f20">10<tspan dy="-3.9" font-size="6.4">3</tspan></text>
<text x="252.6" y="136" font-family="'Liberation Sans', sans-serif" stroke="#231f20" stroke-width="0.22" font-size="8.4" fill="#231f20">10<tspan dy="-3.9" font-size="6.4">4</tspan></text>
<text x="287.2" y="136" font-family="'Liberation Sans', sans-serif" stroke="#231f20" stroke-width="0.22" font-size="8.4" fill="#231f20">10<tspan dy="-3.9" font-size="6.4">5</tspan></text>
<text x="304" y="48.4" font-family="'Liberation Sans', sans-serif" stroke="#231f20" stroke-width="0.22" font-size="7.6" fill="#231f20" text-anchor="end">0</text>
<text x="304" y="60.22" font-family="'Liberation Sans', sans-serif" stroke="#231f20" stroke-width="0.22" font-size="7.6" fill="#231f20" text-anchor="end">15</text>
<text x="304" y="72.04" font-family="'Liberation Sans', sans-serif" stroke="#231f20" stroke-width="0.22" font-size="7.6" fill="#231f20" text-anchor="end">30</text>
<text x="304" y="83.86" font-family="'Liberation Sans', sans-serif" stroke="#231f20" stroke-width="0.22" font-size="7.6" fill="#231f20" text-anchor="end">60</text>
<text x="304" y="95.68" font-family="'Liberation Sans', sans-serif" stroke="#231f20" stroke-width="0.22" font-size="7.6" fill="#231f20" text-anchor="end">120</text>
<text x="304" y="107.5" font-family="'Liberation Sans', sans-serif" stroke="#231f20" stroke-width="0.22" font-size="7.6" fill="#231f20" text-anchor="end">240</text>
<text x="304" y="118.6" font-family="'Liberation Sans', sans-serif" stroke="#231f20" stroke-width="0.22" font-size="7.6" fill="#231f20" text-anchor="end">4<tspan dy="-1.9" font-size="4.6" stroke-width="0.15">o</tspan><tspan dy="1.9">C</tspan></text>
<text transform="translate(318.4,79.5) rotate(-90)" font-family="'Liberation Sans', sans-serif" stroke="#231f20" stroke-width="0.22" font-size="10.2" fill="#231f20" text-anchor="middle" textLength="44.7" lengthAdjust="spacingAndGlyphs">Time [min]</text>
<text transform="translate(29.2,81.3) rotate(-90)" font-family="'Liberation Sans', sans-serif" stroke="#231f20" stroke-width="0.22" font-size="10.2" fill="#231f20" text-anchor="middle" textLength="30.4" lengthAdjust="spacingAndGlyphs">Counts</text>
<path d="M26.6,146.4 V104 M26.6,146.4 H71" stroke="#2a2a2a" stroke-width="1.2" fill="none"/>
<path d="M26.6,100 L23.0,108.8 L26.6,106.6 L30.200000000000003,108.8 Z" fill="#231f20"/>
<path d="M75.4,146.4 L66.6,142.8 L68.8,146.4 L66.6,150 Z" fill="#231f20"/>
<text x="78.8" y="151" font-family="'Liberation Sans', sans-serif" stroke="#231f20" stroke-width="0.22" font-size="10" fill="#231f20" textLength="65.3" lengthAdjust="spacingAndGlyphs">MHC I turnover</text>
<text x="69.5" y="203.7" font-family="'Liberation Sans', sans-serif" stroke="#231f20" stroke-width="0.22" font-size="10.2" fill="#231f20" textLength="25.0" lengthAdjust="spacingAndGlyphs">mono</text>
<text x="161.8" y="203.7" font-family="'Liberation Sans', sans-serif" stroke="#231f20" stroke-width="0.22" font-size="10.2" fill="#231f20" textLength="23.4" lengthAdjust="spacingAndGlyphs">imDC</text>
<text x="253" y="203.7" font-family="'Liberation Sans', sans-serif" stroke="#231f20" stroke-width="0.22" font-size="10.2" fill="#231f20" textLength="21.0" lengthAdjust="spacingAndGlyphs">mDC</text>
<line x1="39.9" y1="221.9" x2="124" y2="221.9" stroke="#e3c8ca" stroke-width="1.8"/>
<path d="M40.5,221.9 L40.5,221.34 L41.2,221.19 L41.9,221.25 L42.6,221.27 L43.3,221.16 L44,220.99 L44.7,220.88 L45.4,220.33 L46.1,220.48 L46.8,219.76 L47.5,219.76 L48.2,219.33 L48.9,218.96 L49.6,218.53 L50.3,218.38 L51,217.51 L51.7,217.21 L52.4,216.83 L53.1,216.16 L53.8,215.75 L54.5,215.2 L55.2,214.73 L55.9,213.97 L56.6,213.67 L57.3,212.96 L58,212.47 L58.7,212.08 L59.4,211.88 L60.1,211.82 L60.8,210.9 L61.5,211.37 L62.2,211.67 L62.9,212.51 L63.6,213.17 L64.3,213.72 L65,215.06 L65.7,215.64 L66.4,216.75 L67.1,217.48 L67.8,218.09 L68.5,218.92 L69.2,219.38 L69.9,219.82 L70.6,220.33 L71.3,220.29 L72,220.86 L72.7,220.97 L73.4,221.09 L74.1,221.12 L74.8,221.34 L75.5,221.69 L76.2,221.5 L76.9,221.55 L77.6,221.58 L78.3,221.61 L79,221.63 L79.7,221.65 L80.4,221.66 L81.1,221.68 L81.8,221.69 L82.5,221.69 L83.2,221.7 L83.9,221.71 L84.6,221.72 L85.3,221.72 L86,221.73 L86.7,221.74 L87.4,221.74 L88.1,221.75 L88.8,221.75 L89.5,221.76 L90.2,221.76 L90.9,221.77 L91.6,221.77 L92.3,221.78 L93,221.78 L93.7,221.78 L94.4,221.79 L95.1,221.79 L95.8,221.8 L96.5,221.8 L97.2,221.8 L97.9,221.81 L98.6,221.81 L99.3,221.81 L100,221.82 L100.7,221.82 L101.4,221.82 L102.1,221.82 L102.8,221.83 L103.5,221.83 L104.2,221.83 L104.9,221.83 L105.6,221.84 L106.3,221.84 L107,221.84 L107.7,221.84 L108.4,221.84 L109.1,221.85 L109.8,221.85 L110.5,221.85 L111.2,221.85 L111.9,221.85 L112.6,221.85 L113.3,221.86 L114,221.86 L114.7,221.86 L115.4,221.86 L116.1,221.86 L116.8,221.86 L117.5,221.86 L118.2,221.87 L118.9,221.87 L119.6,221.87 L120.3,221.87 L121,221.87 L121.7,221.87 L122.4,221.87 L123.1,221.87 L123.4,221.9 Z" fill="#cf9a8c"/>
<path d="M40.5,221.34 L41.2,221.19 L41.9,221.25 L42.6,221.27 L43.3,221.16 L44,220.99 L44.7,220.88 L45.4,220.33 L46.1,220.48 L46.8,219.76 L47.5,219.76 L48.2,219.33 L48.9,218.96 L49.6,218.53 L50.3,218.38 L51,217.51 L51.7,217.21 L52.4,216.83 L53.1,216.16 L53.8,215.75 L54.5,215.2 L55.2,214.73 L55.9,213.97 L56.6,213.67 L57.3,212.96 L58,212.47 L58.7,212.08 L59.4,211.88 L60.1,211.82 L60.8,210.9 L61.5,211.37 L62.2,211.67 L62.9,212.51 L63.6,213.17 L64.3,213.72 L65,215.06 L65.7,215.64 L66.4,216.75 L67.1,217.48 L67.8,218.09 L68.5,218.92 L69.2,219.38 L69.9,219.82 L70.6,220.33 L71.3,220.29 L72,220.86 L72.7,220.97 L73.4,221.09 L74.1,221.12 L74.8,221.34 M76.2,221.5 L76.9,221.55" fill="none" stroke="#bf7a70" stroke-width="0.6"/>
<line x1="39.9" y1="233.72" x2="124" y2="233.72" stroke="#e3c8ca" stroke-width="1.8"/>
<path d="M40.5,233.72 L40.5,233.18 L41.2,233.21 L41.9,232.9 L42.6,233.23 L43.3,232.86 L44,232.56 L44.7,232.39 L45.4,232.58 L46.1,231.96 L46.8,232.06 L47.5,231.87 L48.2,231.6 L48.9,230.89 L49.6,230.57 L50.3,230.13 L51,229.8 L51.7,229.41 L52.4,229.02 L53.1,228.76 L53.8,228.31 L54.5,227.83 L55.2,227.06 L55.9,226.37 L56.6,226.16 L57.3,225.54 L58,224.94 L58.7,224.55 L59.4,224.2 L60.1,223.99 L60.8,223.66 L61.5,223.56 L62.2,222.92 L62.9,223.23 L63.6,223.6 L64.3,224.25 L65,225.06 L65.7,225.77 L66.4,226.4 L67.1,227.24 L67.8,228.16 L68.5,228.66 L69.2,229.1 L69.9,229.81 L70.6,230.63 L71.3,231.01 L72,231.5 L72.7,231.83 L73.4,232.2 L74.1,232.33 L74.8,232.41 L75.5,232.85 L76.2,233.15 L76.9,232.94 L77.6,233.12 L78.3,233.27 L79,233.41 L79.7,233.37 L80.4,233.4 L81.1,233.43 L81.8,233.46 L82.5,233.48 L83.2,233.49 L83.9,233.51 L84.6,233.52 L85.3,233.53 L86,233.54 L86.7,233.54 L87.4,233.55 L88.1,233.56 L88.8,233.56 L89.5,233.57 L90.2,233.57 L90.9,233.58 L91.6,233.58 L92.3,233.59 L93,233.59 L93.7,233.6 L94.4,233.6 L95.1,233.61 L95.8,233.61 L96.5,233.61 L97.2,233.62 L97.9,233.62 L98.6,233.62 L99.3,233.63 L100,233.63 L100.7,233.63 L101.4,233.64 L102.1,233.64 L102.8,233.64 L103.5,233.64 L104.2,233.65 L104.9,233.65 L105.6,233.65 L106.3,233.65 L107,233.66 L107.7,233.66 L108.4,233.66 L109.1,233.66 L109.8,233.67 L110.5,233.67 L111.2,233.67 L111.9,233.67 L112.6,233.67 L113.3,233.67 L114,233.68 L114.7,233.68 L115.4,233.68 L116.1,233.68 L116.8,233.68 L117.5,233.68 L118.2,233.68 L118.9,233.69 L119.6,233.69 L120.3,233.69 L121,233.69 L121.7,233.69 L122.4,233.69 L123.1,233.69 L123.4,233.72 Z" fill="#cf9a8c"/>
<path d="M40.5,233.18 L41.2,233.21 L41.9,232.9 L42.6,233.23 L43.3,232.86 L44,232.56 L44.7,232.39 L45.4,232.58 L46.1,231.96 L46.8,232.06 L47.5,231.87 L48.2,231.6 L48.9,230.89 L49.6,230.57 L50.3,230.13 L51,229.8 L51.7,229.41 L52.4,229.02 L53.1,228.76 L53.8,228.31 L54.5,227.83 L55.2,227.06 L55.9,226.37 L56.6,226.16 L57.3,225.54 L58,224.94 L58.7,224.55 L59.4,224.2 L60.1,223.99 L60.8,223.66 L61.5,223.56 L62.2,222.92 L62.9,223.23 L63.6,223.6 L64.3,224.25 L65,225.06 L65.7,225.77 L66.4,226.4 L67.1,227.24 L67.8,228.16 L68.5,228.66 L69.2,229.1 L69.9,229.81 L70.6,230.63 L71.3,231.01 L72,231.5 L72.7,231.83 L73.4,232.2 L74.1,232.33 L74.8,232.41 L75.5,232.85 L76.2,233.15 L76.9,232.94 L77.6,233.12 L78.3,233.27" fill="none" stroke="#bf7a70" stroke-width="0.6"/>
<line x1="39.9" y1="245.54" x2="124" y2="245.54" stroke="#e3c8ca" stroke-width="1.8"/>
<path d="M40.5,245.54 L40.5,245.54 L41.2,245.54 L41.9,245.53 L42.6,245.53 L43.3,245.53 L44,245.53 L44.7,245.52 L45.4,245.52 L46.1,245.51 L46.8,245.5 L47.5,245.49 L48.2,245.47 L48.9,245.45 L49.6,245.43 L50.3,245.4 L51,245.37 L51.7,245.33 L52.4,245.28 L53.1,245.22 L53.8,245.14 L54.5,245.13 L55.2,245.1 L55.9,244.66 L56.6,244.57 L57.3,244.31 L58,244.36 L58.7,244.15 L59.4,243.65 L60.1,243.56 L60.8,243.19 L61.5,243.18 L62.2,242.38 L62.9,242.13 L63.6,241.92 L64.3,241.28 L65,240.51 L65.7,240.4 L66.4,239.81 L67.1,239.14 L67.8,238.63 L68.5,238.19 L69.2,237.32 L69.9,236.85 L70.6,236.42 L71.3,235.84 L72,235.77 L72.7,235.51 L73.4,235.36 L74.1,235.04 L74.8,235.56 L75.5,235.9 L76.2,236.74 L76.9,237.3 L77.6,237.92 L78.3,238.88 L79,239.66 L79.7,240.19 L80.4,241.36 L81.1,241.86 L81.8,242.54 L82.5,242.91 L83.2,243.39 L83.9,243.76 L84.6,243.92 L85.3,244.1 L86,244.38 L86.7,244.51 L87.4,244.99 L88.1,245 L88.8,244.93 L89.5,245.29 L90.2,245.19 L90.9,245.24 L91.6,245.27 L92.3,245.3 L93,245.32 L93.7,245.33 L94.4,245.35 L95.1,245.36 L95.8,245.37 L96.5,245.38 L97.2,245.38 L97.9,245.39 L98.6,245.4 L99.3,245.4 L100,245.41 L100.7,245.41 L101.4,245.42 L102.1,245.42 L102.8,245.42 L103.5,245.43 L104.2,245.43 L104.9,245.44 L105.6,245.44 L106.3,245.44 L107,245.45 L107.7,245.45 L108.4,245.45 L109.1,245.46 L109.8,245.46 L110.5,245.46 L111.2,245.46 L111.9,245.47 L112.6,245.47 L113.3,245.47 L114,245.47 L114.7,245.48 L115.4,245.48 L116.1,245.48 L116.8,245.48 L117.5,245.48 L118.2,245.49 L118.9,245.49 L119.6,245.49 L120.3,245.49 L121,245.49 L121.7,245.49 L122.4,245.5 L123.1,245.5 L123.4,245.54 Z" fill="#cf9a8c"/>
<path d="M53.8,245.14 L54.5,245.13 L55.2,245.1 L55.9,244.66 L56.6,244.57 L57.3,244.31 L58,244.36 L58.7,244.15 L59.4,243.65 L60.1,243.56 L60.8,243.19 L61.5,243.18 L62.2,242.38 L62.9,242.13 L63.6,241.92 L64.3,241.28 L65,240.51 L65.7,240.4 L66.4,239.81 L67.1,239.14 L67.8,238.63 L68.5,238.19 L69.2,237.32 L69.9,236.85 L70.6,236.42 L71.3,235.84 L72,235.77 L72.7,235.51 L73.4,235.36 L74.1,235.04 L74.8,235.56 L75.5,235.9 L76.2,236.74 L76.9,237.3 L77.6,237.92 L78.3,238.88 L79,239.66 L79.7,240.19 L80.4,241.36 L81.1,241.86 L81.8,242.54 L82.5,242.91 L83.2,243.39 L83.9,243.76 L84.6,243.92 L85.3,244.1 L86,244.38 L86.7,244.51 L87.4,244.99 L88.1,245 L88.8,244.93" fill="none" stroke="#bf7a70" stroke-width="0.6"/>
<line x1="39.9" y1="257.36" x2="124" y2="257.36" stroke="#e3c8ca" stroke-width="1.8"/>
<path d="M40.5,257.36 L40.5,257.36 L41.2,257.36 L41.9,257.36 L42.6,257.36 L43.3,257.36 L44,257.36 L44.7,257.36 L45.4,257.36 L46.1,257.36 L46.8,257.36 L47.5,257.36 L48.2,257.36 L48.9,257.36 L49.6,257.36 L50.3,257.35 L51,257.35 L51.7,257.35 L52.4,257.35 L53.1,257.34 L53.8,257.34 L54.5,257.33 L55.2,257.32 L55.9,257.31 L56.6,257.29 L57.3,257.27 L58,257.24 L58.7,257.21 L59.4,257.17 L60.1,257.12 L60.8,257.05 L61.5,256.98 L62.2,256.97 L62.9,256.69 L63.6,256.5 L64.3,256.37 L65,256.29 L65.7,256.14 L66.4,255.65 L67.1,255.59 L67.8,255.11 L68.5,254.93 L69.2,254.7 L69.9,253.89 L70.6,253.3 L71.3,253.04 L72,252.4 L72.7,252.03 L73.4,251.45 L74.1,250.65 L74.8,249.98 L75.5,249.76 L76.2,248.73 L76.9,248.55 L77.6,248.23 L78.3,247.74 L79,247.54 L79.7,247.08 L80.4,247.29 L81.1,247.97 L81.8,248.33 L82.5,249.18 L83.2,250.2 L83.9,251.01 L84.6,251.61 L85.3,252.65 L86,253.07 L86.7,253.98 L87.4,254.51 L88.1,254.84 L88.8,255.38 L89.5,255.96 L90.2,256.26 L90.9,256.27 L91.6,256.49 L92.3,256.74 L93,256.87 L93.7,257.15 L94.4,257.02 L95.1,257.07 L95.8,257.11 L96.5,257.14 L97.2,257.16 L97.9,257.18 L98.6,257.19 L99.3,257.2 L100,257.21 L100.7,257.22 L101.4,257.22 L102.1,257.23 L102.8,257.23 L103.5,257.24 L104.2,257.24 L104.9,257.25 L105.6,257.25 L106.3,257.25 L107,257.26 L107.7,257.26 L108.4,257.27 L109.1,257.27 L109.8,257.27 L110.5,257.27 L111.2,257.28 L111.9,257.28 L112.6,257.28 L113.3,257.29 L114,257.29 L114.7,257.29 L115.4,257.29 L116.1,257.3 L116.8,257.3 L117.5,257.3 L118.2,257.3 L118.9,257.3 L119.6,257.31 L120.3,257.31 L121,257.31 L121.7,257.31 L122.4,257.31 L123.1,257.31 L123.4,257.36 Z" fill="#cf9a8c"/>
<path d="M61.5,256.98 L62.2,256.97 L62.9,256.69 L63.6,256.5 L64.3,256.37 L65,256.29 L65.7,256.14 L66.4,255.65 L67.1,255.59 L67.8,255.11 L68.5,254.93 L69.2,254.7 L69.9,253.89 L70.6,253.3 L71.3,253.04 L72,252.4 L72.7,252.03 L73.4,251.45 L74.1,250.65 L74.8,249.98 L75.5,249.76 L76.2,248.73 L76.9,248.55 L77.6,248.23 L78.3,247.74 L79,247.54 L79.7,247.08 L80.4,247.29 L81.1,247.97 L81.8,248.33 L82.5,249.18 L83.2,250.2 L83.9,251.01 L84.6,251.61 L85.3,252.65 L86,253.07 L86.7,253.98 L87.4,254.51 L88.1,254.84 L88.8,255.38 L89.5,255.96 L90.2,256.26 L90.9,256.27 L91.6,256.49 L92.3,256.74 L93,256.87" fill="none" stroke="#bf7a70" stroke-width="0.6"/>
<line x1="39.9" y1="269.18" x2="124" y2="269.18" stroke="#e3c8ca" stroke-width="1.8"/>
<path d="M40.5,269.18 L40.5,269.18 L41.2,269.18 L41.9,269.18 L42.6,269.18 L43.3,269.18 L44,269.18 L44.7,269.18 L45.4,269.18 L46.1,269.18 L46.8,269.18 L47.5,269.18 L48.2,269.18 L48.9,269.18 L49.6,269.18 L50.3,269.18 L51,269.18 L51.7,269.18 L52.4,269.18 L53.1,269.18 L53.8,269.18 L54.5,269.17 L55.2,269.17 L55.9,269.17 L56.6,269.17 L57.3,269.16 L58,269.15 L58.7,269.15 L59.4,269.14 L60.1,269.12 L60.8,269.1 L61.5,269.08 L62.2,269.05 L62.9,269.02 L63.6,268.97 L64.3,268.92 L65,268.85 L65.7,268.62 L66.4,268.7 L67.1,268.79 L67.8,268.48 L68.5,268.39 L69.2,268.18 L69.9,267.63 L70.6,267.65 L71.3,267.2 L72,267 L72.7,266.53 L73.4,266.06 L74.1,265.6 L74.8,265.16 L75.5,264.58 L76.2,264.04 L76.9,263.78 L77.6,262.8 L78.3,262.53 L79,261.72 L79.7,261.39 L80.4,260.66 L81.1,260.27 L81.8,259.86 L82.5,259.33 L83.2,259.44 L83.9,258.77 L84.6,259.01 L85.3,259.95 L86,260.55 L86.7,261.37 L87.4,262.08 L88.1,263.08 L88.8,263.75 L89.5,264.78 L90.2,265.06 L90.9,265.95 L91.6,266.55 L92.3,266.78 L93,267.55 L93.7,267.72 L94.4,267.91 L95.1,268.39 L95.8,268.37 L96.5,268.36 L97.2,268.77 L97.9,268.79 L98.6,268.85 L99.3,268.9 L100,268.94 L100.7,268.96 L101.4,268.98 L102.1,269 L102.8,269.01 L103.5,269.02 L104.2,269.03 L104.9,269.04 L105.6,269.04 L106.3,269.05 L107,269.05 L107.7,269.06 L108.4,269.06 L109.1,269.07 L109.8,269.07 L110.5,269.08 L111.2,269.08 L111.9,269.08 L112.6,269.09 L113.3,269.09 L114,269.09 L114.7,269.1 L115.4,269.1 L116.1,269.1 L116.8,269.1 L117.5,269.11 L118.2,269.11 L118.9,269.11 L119.6,269.11 L120.3,269.12 L121,269.12 L121.7,269.12 L122.4,269.12 L123.1,269.12 L123.4,269.18 Z" fill="#cf9a8c"/>
<path d="M65.7,268.62 L66.4,268.7 L67.1,268.79 L67.8,268.48 L68.5,268.39 L69.2,268.18 L69.9,267.63 L70.6,267.65 L71.3,267.2 L72,267 L72.7,266.53 L73.4,266.06 L74.1,265.6 L74.8,265.16 L75.5,264.58 L76.2,264.04 L76.9,263.78 L77.6,262.8 L78.3,262.53 L79,261.72 L79.7,261.39 L80.4,260.66 L81.1,260.27 L81.8,259.86 L82.5,259.33 L83.2,259.44 L83.9,258.77 L84.6,259.01 L85.3,259.95 L86,260.55 L86.7,261.37 L87.4,262.08 L88.1,263.08 L88.8,263.75 L89.5,264.78 L90.2,265.06 L90.9,265.95 L91.6,266.55 L92.3,266.78 L93,267.55 L93.7,267.72 L94.4,267.91 L95.1,268.39 L95.8,268.37 L96.5,268.36 L97.2,268.77 L97.9,268.79" fill="none" stroke="#bf7a70" stroke-width="0.6"/>
<line x1="39.9" y1="281" x2="124" y2="281" stroke="#e3c8ca" stroke-width="1.8"/>
<path d="M40.5,281 L40.5,281 L41.2,281 L41.9,281 L42.6,281 L43.3,281 L44,281 L44.7,281 L45.4,281 L46.1,281 L46.8,281 L47.5,281 L48.2,281 L48.9,281 L49.6,281 L50.3,281 L51,281 L51.7,281 L52.4,281 L53.1,281 L53.8,281 L54.5,281 L55.2,281 L55.9,281 L56.6,281 L57.3,281 L58,281 L58.7,281 L59.4,281 L60.1,281 L60.8,281 L61.5,281 L62.2,281 L62.9,281 L63.6,281 L64.3,281 L65,281 L65.7,281 L66.4,281 L67.1,281 L67.8,280.99 L68.5,280.99 L69.2,280.98 L69.9,280.97 L70.6,280.96 L71.3,280.94 L72,280.92 L72.7,280.88 L73.4,280.84 L74.1,280.77 L74.8,280.68 L75.5,280.59 L76.2,280.64 L76.9,280.18 L77.6,279.82 L78.3,279.66 L79,279.04 L79.7,278.79 L80.4,278.52 L81.1,277.69 L81.8,277.01 L82.5,276.1 L83.2,275.54 L83.9,274.45 L84.6,273.86 L85.3,272.69 L86,272.08 L86.7,271.56 L87.4,271.01 L88.1,270.47 L88.8,270.81 L89.5,271.28 L90.2,272.21 L90.9,273.25 L91.6,274.22 L92.3,275.31 L93,276.05 L93.7,277.34 L94.4,277.88 L95.1,278.8 L95.8,279.19 L96.5,279.79 L97.2,280.05 L97.9,280.05 L98.6,280.22 L99.3,280.57 L100,280.62 L100.7,280.7 L101.4,280.75 L102.1,280.79 L102.8,280.82 L103.5,280.84 L104.2,280.85 L104.9,280.86 L105.6,280.87 L106.3,280.88 L107,280.88 L107.7,280.89 L108.4,280.89 L109.1,280.89 L109.8,280.9 L110.5,280.9 L111.2,280.91 L111.9,280.91 L112.6,280.91 L113.3,280.91 L114,280.92 L114.7,280.92 L115.4,280.92 L116.1,280.93 L116.8,280.93 L117.5,280.93 L118.2,280.93 L118.9,280.94 L119.6,280.94 L120.3,280.94 L121,280.94 L121.7,280.94 L122.4,280.95 L123.1,280.95 L123.4,281 Z" fill="#cf9a8c"/>
<path d="M75.5,280.59 L76.2,280.64 L76.9,280.18 L77.6,279.82 L78.3,279.66 L79,279.04 L79.7,278.79 L80.4,278.52 L81.1,277.69 L81.8,277.01 L82.5,276.1 L83.2,275.54 L83.9,274.45 L84.6,273.86 L85.3,272.69 L86,272.08 L86.7,271.56 L87.4,271.01 L88.1,270.47 L88.8,270.81 L89.5,271.28 L90.2,272.21 L90.9,273.25 L91.6,274.22 L92.3,275.31 L93,276.05 L93.7,277.34 L94.4,277.88 L95.1,278.8 L95.8,279.19 L96.5,279.79 L97.2,280.05 L97.9,280.05 L98.6,280.22 L99.3,280.57 L100,280.62" fill="none" stroke="#bf7a70" stroke-width="0.6"/>
<path d="M40.5,292.2 L40.5,291.34 L41.2,290.82 L41.9,290.91 L42.6,290.78 L43.3,290.17 L44,290.06 L44.7,289.81 L45.4,289.56 L46.1,289.5 L46.8,288.74 L47.5,288.73 L48.2,288.04 L48.9,287.98 L49.6,287.59 L50.3,286.89 L51,286.62 L51.7,285.99 L52.4,285.77 L53.1,285.19 L53.8,285.11 L54.5,284.45 L55.2,284.14 L55.9,283.53 L56.6,283.26 L57.3,282.71 L58,282.69 L58.7,282.35 L59.4,282.23 L60.1,282 L60.8,281.4 L61.5,281.4 L62.2,281.4 L62.9,281.93 L63.6,282.83 L64.3,283.18 L65,284.38 L65.7,285.21 L66.4,285.75 L67.1,286.59 L67.8,287.22 L68.5,287.96 L69.2,288.43 L69.9,288.91 L70.6,289.31 L71.3,289.87 L72,290.25 L72.7,290.56 L73.4,290.83 L74.1,290.92 L74.8,291 L75.5,291.1 L76.2,291.26 L76.9,291.43 L77.6,291.2 L78.3,291.55 L79,291.51 L79.7,291.39 L80.4,291.5 L81.1,291.74 L81.8,291.78 L82.5,291.87 L83.2,291.92 L83.9,291.84 L84.6,291.77 L85.3,291.87 L86,291.99 L86.7,291.88 L87.4,291.83 L88.1,291.91 L88.8,291.81 L89.5,291.82 L90.2,291.84 L90.9,291.85 L91.6,291.86 L92.3,291.87 L93,291.88 L93.7,291.9 L94.4,291.91 L95.1,291.92 L95.8,291.93 L96.5,291.94 L97.2,291.94 L97.9,291.95 L98.6,291.96 L99.3,291.97 L100,291.98 L100.7,291.99 L101.4,291.99 L102.1,292 L102.8,292.01 L103.5,292.01 L104.2,292.02 L104.9,292.03 L105.6,292.03 L106.3,292.04 L107,292.04 L107.7,292.05 L108.4,292.05 L109.1,292.06 L109.8,292.06 L110.5,292.07 L111.2,292.07 L111.9,292.08 L112.6,292.08 L113.3,292.09 L114,292.09 L114.7,292.09 L115.4,292.1 L116.1,292.1 L116.8,292.1 L117.5,292.11 L118.2,292.11 L118.9,292.11 L119.6,292.12 L120.3,292.12 L121,292.12 L121.7,292.12 L122.4,292.13 L123.1,292.13 L123.4,292.2 Z" fill="#67689c"/>
<path d="M40.5,291.34 L41.2,290.82 L41.9,290.91 L42.6,290.78 L43.3,290.17 L44,290.06 L44.7,289.81 L45.4,289.56 L46.1,289.5 L46.8,288.74 L47.5,288.73 L48.2,288.04 L48.9,287.98 L49.6,287.59 L50.3,286.89 L51,286.62 L51.7,285.99 L52.4,285.77 L53.1,285.19 L53.8,285.11 L54.5,284.45 L55.2,284.14 L55.9,283.53 L56.6,283.26 L57.3,282.71 L58,282.69 L58.7,282.35 L59.4,282.23 L60.1,282 L60.8,281.4 L61.5,281.4 L62.2,281.4 L62.9,281.93 L63.6,282.83 L64.3,283.18 L65,284.38 L65.7,285.21 L66.4,285.75 L67.1,286.59 L67.8,287.22 L68.5,287.96 L69.2,288.43 L69.9,288.91 L70.6,289.31 L71.3,289.87 L72,290.25 L72.7,290.56 L73.4,290.83 L74.1,290.92 L74.8,291 L75.5,291.1 L76.2,291.26 L76.9,291.43 L77.6,291.2 L78.3,291.55 L79,291.51 L79.7,291.39 L80.4,291.5 L81.1,291.74 L81.8,291.78 M83.9,291.84 L84.6,291.77 M88.8,291.81 L89.5,291.82 L90.2,291.84 L90.9,291.85" fill="none" stroke="#4a5090" stroke-width="0.6"/>
<rect x="39.9" y="208.8" width="84.1" height="83.7" fill="none" stroke="#231f20" stroke-width="1.45"/>
<line x1="131" y1="221.9" x2="215.6" y2="221.9" stroke="#e3c8ca" stroke-width="1.8"/>
<path d="M131.6,221.9 L131.6,221.9 L132.3,221.9 L133,221.9 L133.7,221.9 L134.4,221.9 L135.1,221.9 L135.8,221.9 L136.5,221.9 L137.2,221.9 L137.9,221.9 L138.6,221.9 L139.3,221.9 L140,221.9 L140.7,221.9 L141.4,221.9 L142.1,221.89 L142.8,221.89 L143.5,221.89 L144.2,221.89 L144.9,221.88 L145.6,221.87 L146.3,221.87 L147,221.85 L147.7,221.84 L148.4,221.82 L149.1,221.8 L149.8,221.77 L150.5,221.73 L151.2,221.68 L151.9,221.62 L152.6,221.54 L153.3,221.63 L154,221.25 L154.7,221.15 L155.4,221.24 L156.1,220.86 L156.8,220.77 L157.5,220.62 L158.2,220.28 L158.9,219.68 L159.6,219.56 L160.3,219.15 L161,218.65 L161.7,218.03 L162.4,217.45 L163.1,216.78 L163.8,216.12 L164.5,215.81 L165.2,215.07 L165.9,214.22 L166.6,213.97 L167.3,213.42 L168,212.62 L168.7,212.05 L169.4,211.77 L170.1,211.72 L170.8,211.71 L171.5,211.95 L172.2,212.31 L172.9,212.8 L173.6,213.11 L174.3,213.68 L175,214.16 L175.7,214.49 L176.4,215.12 L177.1,215.93 L177.8,216.13 L178.5,217.15 L179.2,217.34 L179.9,217.85 L180.6,218.2 L181.3,218.89 L182,219.38 L182.7,219.66 L183.4,220.01 L184.1,220.3 L184.8,220.47 L185.5,220.49 L186.2,220.68 L186.9,221.03 L187.6,221.3 L188.3,221.21 L189,221.19 L189.7,221.51 L190.4,221.59 L191.1,221.65 L191.8,221.7 L192.5,221.74 L193.2,221.77 L193.9,221.8 L194.6,221.82 L195.3,221.84 L196,221.85 L196.7,221.86 L197.4,221.87 L198.1,221.88 L198.8,221.88 L199.5,221.89 L200.2,221.89 L200.9,221.89 L201.6,221.89 L202.3,221.9 L203,221.9 L203.7,221.9 L204.4,221.9 L205.1,221.9 L205.8,221.9 L206.5,221.9 L207.2,221.9 L207.9,221.9 L208.6,221.9 L209.3,221.9 L210,221.9 L210.7,221.9 L211.4,221.9 L212.1,221.9 L212.8,221.9 L213.5,221.9 L214.2,221.9 L214.9,221.9 L215,221.9 Z" fill="#cf9a8c"/>
<path d="M154,221.25 L154.7,221.15 L155.4,221.24 L156.1,220.86 L156.8,220.77 L157.5,220.62 L158.2,220.28 L158.9,219.68 L159.6,219.56 L160.3,219.15 L161,218.65 L161.7,218.03 L162.4,217.45 L163.1,216.78 L163.8,216.12 L164.5,215.81 L165.2,215.07 L165.9,214.22 L166.6,213.97 L167.3,213.42 L168,212.62 L168.7,212.05 L169.4,211.77 L170.1,211.72 L170.8,211.71 L171.5,211.95 L172.2,212.31 L172.9,212.8 L173.6,213.11 L174.3,213.68 L175,214.16 L175.7,214.49 L176.4,215.12 L177.1,215.93 L177.8,216.13 L178.5,217.15 L179.2,217.34 L179.9,217.85 L180.6,218.2 L181.3,218.89 L182,219.38 L182.7,219.66 L183.4,220.01 L184.1,220.3 L184.8,220.47 L185.5,220.49 L186.2,220.68 L186.9,221.03 L187.6,221.3 L188.3,221.21 L189,221.19 L189.7,221.51" fill="none" stroke="#bf7a70" stroke-width="0.6"/>
<line x1="131" y1="233.72" x2="215.6" y2="233.72" stroke="#e3c8ca" stroke-width="1.8"/>
<path d="M131.6,233.72 L131.6,233.72 L132.3,233.72 L133,233.72 L133.7,233.72 L134.4,233.72 L135.1,233.72 L135.8,233.72 L136.5,233.72 L137.2,233.72 L137.9,233.72 L138.6,233.72 L139.3,233.72 L140,233.71 L140.7,233.71 L141.4,233.71 L142.1,233.71 L142.8,233.7 L143.5,233.7 L144.2,233.69 L144.9,233.69 L145.6,233.68 L146.3,233.67 L147,233.65 L147.7,233.63 L148.4,233.61 L149.1,233.58 L149.8,233.55 L150.5,233.51 L151.2,233.46 L151.9,233.4 L152.6,233.34 L153.3,233.21 L154,233.35 L154.7,233.13 L155.4,232.99 L156.1,232.91 L156.8,232.68 L157.5,232.47 L158.2,232.18 L158.9,231.78 L159.6,231.74 L160.3,231.43 L161,231.19 L161.7,230.34 L162.4,230.02 L163.1,229.78 L163.8,229.35 L164.5,228.53 L165.2,228.28 L165.9,227.74 L166.6,227.08 L167.3,226.71 L168,226.22 L168.7,225.78 L169.4,224.88 L170.1,224.49 L170.8,224.11 L171.5,223.96 L172.2,223.86 L172.9,223.56 L173.6,223.34 L174.3,223.96 L175,224.37 L175.7,224.4 L176.4,224.97 L177.1,225.92 L177.8,226.26 L178.5,226.74 L179.2,227.37 L179.9,228.08 L180.6,228.75 L181.3,229.61 L182,229.71 L182.7,230.43 L183.4,231.11 L184.1,231.44 L184.8,231.56 L185.5,232.04 L186.2,232.4 L186.9,232.62 L187.6,232.69 L188.3,232.72 L189,233.3 L189.7,233.09 L190.4,233.41 L191.1,233.39 L191.8,233.46 L192.5,233.51 L193.2,233.56 L193.9,233.6 L194.6,233.62 L195.3,233.65 L196,233.66 L196.7,233.68 L197.4,233.69 L198.1,233.7 L198.8,233.7 L199.5,233.71 L200.2,233.71 L200.9,233.71 L201.6,233.72 L202.3,233.72 L203,233.72 L203.7,233.72 L204.4,233.72 L205.1,233.72 L205.8,233.72 L206.5,233.72 L207.2,233.72 L207.9,233.72 L208.6,233.72 L209.3,233.72 L210,233.72 L210.7,233.72 L211.4,233.72 L212.1,233.72 L212.8,233.72 L213.5,233.72 L214.2,233.72 L214.9,233.72 L215,233.72 Z" fill="#cf9a8c"/>
<path d="M152.6,233.34 L153.3,233.21 L154,233.35 L154.7,233.13 L155.4,232.99 L156.1,232.91 L156.8,232.68 L157.5,232.47 L158.2,232.18 L158.9,231.78 L159.6,231.74 L160.3,231.43 L161,231.19 L161.7,230.34 L162.4,230.02 L163.1,229.78 L163.8,229.35 L164.5,228.53 L165.2,228.28 L165.9,227.74 L166.6,227.08 L167.3,226.71 L168,226.22 L168.7,225.78 L169.4,224.88 L170.1,224.49 L170.8,224.11 L171.5,223.96 L172.2,223.86 L172.9,223.56 L173.6,223.34 L174.3,223.96 L175,224.37 L175.7,224.4 L176.4,224.97 L177.1,225.92 L177.8,226.26 L178.5,226.74 L179.2,227.37 L179.9,228.08 L180.6,228.75 L181.3,229.61 L182,229.71 L182.7,230.43 L183.4,231.11 L184.1,231.44 L184.8,231.56 L185.5,232.04 L186.2,232.4 L186.9,232.62 L187.6,232.69 L188.3,232.72 L189,233.3 L189.7,233.09" fill="none" stroke="#bf7a70" stroke-width="0.6"/>
<line x1="131" y1="245.54" x2="215.6" y2="245.54" stroke="#e3c8ca" stroke-width="1.8"/>
<path d="M131.6,245.54 L131.6,245.54 L132.3,245.54 L133,245.54 L133.7,245.54 L134.4,245.54 L135.1,245.54 L135.8,245.54 L136.5,245.54 L137.2,245.53 L137.9,245.53 L138.6,245.53 L139.3,245.53 L140,245.53 L140.7,245.52 L141.4,245.52 L142.1,245.51 L142.8,245.5 L143.5,245.49 L144.2,245.48 L144.9,245.47 L145.6,245.45 L146.3,245.43 L147,245.41 L147.7,245.38 L148.4,245.34 L149.1,245.3 L149.8,245.25 L150.5,245.2 L151.2,245.15 L151.9,245.18 L152.6,244.74 L153.3,244.92 L154,244.83 L154.7,244.44 L155.4,244.54 L156.1,244.18 L156.8,244.06 L157.5,243.6 L158.2,243.77 L158.9,243.44 L159.6,242.86 L160.3,242.9 L161,242.21 L161.7,242.12 L162.4,241.48 L163.1,240.97 L163.8,240.8 L164.5,240.3 L165.2,239.6 L165.9,239.04 L166.6,238.57 L167.3,238.35 L168,237.76 L168.7,237.47 L169.4,236.85 L170.1,236.4 L170.8,236.05 L171.5,236.03 L172.2,235.72 L172.9,235.41 L173.6,235.39 L174.3,235.85 L175,236 L175.7,236.64 L176.4,237.18 L177.1,237.67 L177.8,238.39 L178.5,239.07 L179.2,239.36 L179.9,240.06 L180.6,240.66 L181.3,241.36 L182,241.87 L182.7,242.49 L183.4,242.91 L184.1,243.42 L184.8,243.32 L185.5,243.67 L186.2,244.37 L186.9,244.26 L187.6,244.54 L188.3,244.73 L189,245.13 L189.7,244.85 L190.4,245.24 L191.1,245.21 L191.8,245.28 L192.5,245.34 L193.2,245.38 L193.9,245.42 L194.6,245.45 L195.3,245.47 L196,245.49 L196.7,245.5 L197.4,245.51 L198.1,245.52 L198.8,245.52 L199.5,245.53 L200.2,245.53 L200.9,245.53 L201.6,245.54 L202.3,245.54 L203,245.54 L203.7,245.54 L204.4,245.54 L205.1,245.54 L205.8,245.54 L206.5,245.54 L207.2,245.54 L207.9,245.54 L208.6,245.54 L209.3,245.54 L210,245.54 L210.7,245.54 L211.4,245.54 L212.1,245.54 L212.8,245.54 L213.5,245.54 L214.2,245.54 L214.9,245.54 L215,245.54 Z" fill="#cf9a8c"/>
<path d="M151.2,245.15 L151.9,245.18 L152.6,244.74 L153.3,244.92 L154,244.83 L154.7,244.44 L155.4,244.54 L156.1,244.18 L156.8,244.06 L157.5,243.6 L158.2,243.77 L158.9,243.44 L159.6,242.86 L160.3,242.9 L161,242.21 L161.7,242.12 L162.4,241.48 L163.1,240.97 L163.8,240.8 L164.5,240.3 L165.2,239.6 L165.9,239.04 L166.6,238.57 L167.3,238.35 L168,237.76 L168.7,237.47 L169.4,236.85 L170.1,236.4 L170.8,236.05 L171.5,236.03 L172.2,235.72 L172.9,235.41 L173.6,235.39 L174.3,235.85 L175,236 L175.7,236.64 L176.4,237.18 L177.1,237.67 L177.8,238.39 L178.5,239.07 L179.2,239.36 L179.9,240.06 L180.6,240.66 L181.3,241.36 L182,241.87 L182.7,242.49 L183.4,242.91 L184.1,243.42 L184.8,243.32 L185.5,243.67 L186.2,244.37 L186.9,244.26 L187.6,244.54 L188.3,244.73 L189,245.13 L189.7,244.85" fill="none" stroke="#bf7a70" stroke-width="0.6"/>
<line x1="131" y1="257.36" x2="215.6" y2="257.36" stroke="#e3c8ca" stroke-width="1.8"/>
<path d="M131.6,257.36 L131.6,257.36 L132.3,257.36 L133,257.36 L133.7,257.36 L134.4,257.36 L135.1,257.36 L135.8,257.36 L136.5,257.36 L137.2,257.36 L137.9,257.36 L138.6,257.36 L139.3,257.36 L140,257.35 L140.7,257.35 L141.4,257.35 L142.1,257.35 L142.8,257.34 L143.5,257.34 L144.2,257.33 L144.9,257.32 L145.6,257.31 L146.3,257.3 L147,257.29 L147.7,257.27 L148.4,257.25 L149.1,257.22 L149.8,257.19 L150.5,257.16 L151.2,257.11 L151.9,257.06 L152.6,257 L153.3,257.12 L154,256.71 L154.7,256.99 L155.4,256.72 L156.1,256.63 L156.8,256.18 L157.5,256.15 L158.2,256.17 L158.9,255.67 L159.6,255.3 L160.3,255.44 L161,254.86 L161.7,254.5 L162.4,254.01 L163.1,253.65 L163.8,253.21 L164.5,253.25 L165.2,252.78 L165.9,252 L166.6,251.54 L167.3,250.97 L168,250.37 L168.7,250.13 L169.4,249.44 L170.1,248.96 L170.8,248.63 L171.5,248.37 L172.2,247.77 L172.9,247.71 L173.6,247.31 L174.3,247.26 L175,247.56 L175.7,247.72 L176.4,247.92 L177.1,248.5 L177.8,249.18 L178.5,249.92 L179.2,250.75 L179.9,251.32 L180.6,251.77 L181.3,252.57 L182,252.91 L182.7,253.75 L183.4,254.03 L184.1,254.56 L184.8,255.29 L185.5,255.27 L186.2,255.91 L186.9,255.93 L187.6,256.17 L188.3,256.61 L189,256.53 L189.7,256.97 L190.4,257 L191.1,257.02 L191.8,257.1 L192.5,257.16 L193.2,257.2 L193.9,257.24 L194.6,257.27 L195.3,257.29 L196,257.31 L196.7,257.32 L197.4,257.33 L198.1,257.34 L198.8,257.35 L199.5,257.35 L200.2,257.35 L200.9,257.35 L201.6,257.36 L202.3,257.36 L203,257.36 L203.7,257.36 L204.4,257.36 L205.1,257.36 L205.8,257.36 L206.5,257.36 L207.2,257.36 L207.9,257.36 L208.6,257.36 L209.3,257.36 L210,257.36 L210.7,257.36 L211.4,257.36 L212.1,257.36 L212.8,257.36 L213.5,257.36 L214.2,257.36 L214.9,257.36 L215,257.36 Z" fill="#cf9a8c"/>
<path d="M154,256.71 L154.7,256.99 L155.4,256.72 L156.1,256.63 L156.8,256.18 L157.5,256.15 L158.2,256.17 L158.9,255.67 L159.6,255.3 L160.3,255.44 L161,254.86 L161.7,254.5 L162.4,254.01 L163.1,253.65 L163.8,253.21 L164.5,253.25 L165.2,252.78 L165.9,252 L166.6,251.54 L167.3,250.97 L168,250.37 L168.7,250.13 L169.4,249.44 L170.1,248.96 L170.8,248.63 L171.5,248.37 L172.2,247.77 L172.9,247.71 L173.6,247.31 L174.3,247.26 L175,247.56 L175.7,247.72 L176.4,247.92 L177.1,248.5 L177.8,249.18 L178.5,249.92 L179.2,250.75 L179.9,251.32 L180.6,251.77 L181.3,252.57 L182,252.91 L182.7,253.75 L183.4,254.03 L184.1,254.56 L184.8,255.29 L185.5,255.27 L186.2,255.91 L186.9,255.93 L187.6,256.17 L188.3,256.61 L189,256.53 L189.7,256.97 L190.4,257" fill="none" stroke="#bf7a70" stroke-width="0.6"/>
<line x1="131" y1="269.18" x2="215.6" y2="269.18" stroke="#e3c8ca" stroke-width="1.8"/>
<path d="M131.6,269.18 L131.6,269.18 L132.3,269.18 L133,269.18 L133.7,269.18 L134.4,269.18 L135.1,269.18 L135.8,269.18 L136.5,269.18 L137.2,269.18 L137.9,269.18 L138.6,269.18 L139.3,269.18 L140,269.18 L140.7,269.18 L141.4,269.18 L142.1,269.18 L142.8,269.18 L143.5,269.18 L144.2,269.17 L144.9,269.17 L145.6,269.17 L146.3,269.17 L147,269.16 L147.7,269.16 L148.4,269.15 L149.1,269.14 L149.8,269.13 L150.5,269.11 L151.2,269.1 L151.9,269.07 L152.6,269.05 L153.3,269.01 L154,268.97 L154.7,268.92 L155.4,268.85 L156.1,268.89 L156.8,268.82 L157.5,268.36 L158.2,268.35 L158.9,268.39 L159.6,267.97 L160.3,267.73 L161,267.48 L161.7,267.38 L162.4,266.93 L163.1,266.65 L163.8,266.42 L164.5,266.31 L165.2,265.62 L165.9,265.24 L166.6,264.73 L167.3,264.35 L168,263.53 L168.7,263.21 L169.4,262.33 L170.1,262.11 L170.8,261.13 L171.5,261.05 L172.2,260.23 L172.9,260.03 L173.6,259.35 L174.3,259.19 L175,259.14 L175.7,259.47 L176.4,259.62 L177.1,260.14 L177.8,260.27 L178.5,260.83 L179.2,261.45 L179.9,262.33 L180.6,262.91 L181.3,263.56 L182,264.13 L182.7,264.76 L183.4,265.48 L184.1,265.82 L184.8,266.33 L185.5,266.73 L186.2,267.41 L186.9,267.48 L187.6,267.7 L188.3,268.23 L189,268.21 L189.7,268.57 L190.4,268.64 L191.1,268.7 L191.8,268.83 L192.5,268.91 L193.2,268.97 L193.9,269.02 L194.6,269.06 L195.3,269.09 L196,269.11 L196.7,269.13 L197.4,269.14 L198.1,269.15 L198.8,269.16 L199.5,269.17 L200.2,269.17 L200.9,269.17 L201.6,269.17 L202.3,269.18 L203,269.18 L203.7,269.18 L204.4,269.18 L205.1,269.18 L205.8,269.18 L206.5,269.18 L207.2,269.18 L207.9,269.18 L208.6,269.18 L209.3,269.18 L210,269.18 L210.7,269.18 L211.4,269.18 L212.1,269.18 L212.8,269.18 L213.5,269.18 L214.2,269.18 L214.9,269.18 L215,269.18 Z" fill="#cf9a8c"/>
<path d="M156.8,268.82 L157.5,268.36 L158.2,268.35 L158.9,268.39 L159.6,267.97 L160.3,267.73 L161,267.48 L161.7,267.38 L162.4,266.93 L163.1,266.65 L163.8,266.42 L164.5,266.31 L165.2,265.62 L165.9,265.24 L166.6,264.73 L167.3,264.35 L168,263.53 L168.7,263.21 L169.4,262.33 L170.1,262.11 L170.8,261.13 L171.5,261.05 L172.2,260.23 L172.9,260.03 L173.6,259.35 L174.3,259.19 L175,259.14 L175.7,259.47 L176.4,259.62 L177.1,260.14 L177.8,260.27 L178.5,260.83 L179.2,261.45 L179.9,262.33 L180.6,262.91 L181.3,263.56 L182,264.13 L182.7,264.76 L183.4,265.48 L184.1,265.82 L184.8,266.33 L185.5,266.73 L186.2,267.41 L186.9,267.48 L187.6,267.7 L188.3,268.23 L189,268.21 L189.7,268.57 L190.4,268.64 L191.1,268.7 L191.8,268.83" fill="none" stroke="#bf7a70" stroke-width="0.6"/>
<line x1="131" y1="281" x2="215.6" y2="281" stroke="#e3c8ca" stroke-width="1.8"/>
<path d="M131.6,281 L131.6,281 L132.3,281 L133,281 L133.7,281 L134.4,281 L135.1,281 L135.8,281 L136.5,281 L137.2,281 L137.9,281 L138.6,281 L139.3,281 L140,281 L140.7,281 L141.4,281 L142.1,280.99 L142.8,280.99 L143.5,280.99 L144.2,280.99 L144.9,280.98 L145.6,280.98 L146.3,280.97 L147,280.97 L147.7,280.96 L148.4,280.95 L149.1,280.93 L149.8,280.92 L150.5,280.89 L151.2,280.87 L151.9,280.83 L152.6,280.8 L153.3,280.75 L154,280.69 L154.7,280.62 L155.4,280.34 L156.1,280.3 L156.8,280.51 L157.5,280.31 L158.2,280.01 L158.9,279.9 L159.6,279.74 L160.3,279.72 L161,279.18 L161.7,278.73 L162.4,278.45 L163.1,278.4 L163.8,277.71 L164.5,277.74 L165.2,277 L165.9,276.75 L166.6,275.94 L167.3,275.73 L168,275.03 L168.7,274.56 L169.4,274.18 L170.1,273.47 L170.8,273.07 L171.5,272.47 L172.2,272.26 L172.9,271.84 L173.6,271.37 L174.3,271.37 L175,271.06 L175.7,270.93 L176.4,271.56 L177.1,271.5 L177.8,272.15 L178.5,273 L179.2,273.27 L179.9,273.87 L180.6,274.8 L181.3,275.57 L182,275.95 L182.7,276.62 L183.4,277.27 L184.1,277.89 L184.8,278.14 L185.5,278.65 L186.2,279.08 L186.9,279.49 L187.6,279.75 L188.3,279.67 L189,280.32 L189.7,280.53 L190.4,280.55 L191.1,280.71 L191.8,280.65 L192.5,280.73 L193.2,280.79 L193.9,280.84 L194.6,280.88 L195.3,280.91 L196,280.93 L196.7,280.95 L197.4,280.96 L198.1,280.97 L198.8,280.98 L199.5,280.99 L200.2,280.99 L200.9,280.99 L201.6,280.99 L202.3,281 L203,281 L203.7,281 L204.4,281 L205.1,281 L205.8,281 L206.5,281 L207.2,281 L207.9,281 L208.6,281 L209.3,281 L210,281 L210.7,281 L211.4,281 L212.1,281 L212.8,281 L213.5,281 L214.2,281 L214.9,281 L215,281 Z" fill="#cf9a8c"/>
<path d="M154.7,280.62 L155.4,280.34 L156.1,280.3 L156.8,280.51 L157.5,280.31 L158.2,280.01 L158.9,279.9 L159.6,279.74 L160.3,279.72 L161,279.18 L161.7,278.73 L162.4,278.45 L163.1,278.4 L163.8,277.71 L164.5,277.74 L165.2,277 L165.9,276.75 L166.6,275.94 L167.3,275.73 L168,275.03 L168.7,274.56 L169.4,274.18 L170.1,273.47 L170.8,273.07 L171.5,272.47 L172.2,272.26 L172.9,271.84 L173.6,271.37 L174.3,271.37 L175,271.06 L175.7,270.93 L176.4,271.56 L177.1,271.5 L177.8,272.15 L178.5,273 L179.2,273.27 L179.9,273.87 L180.6,274.8 L181.3,275.57 L182,275.95 L182.7,276.62 L183.4,277.27 L184.1,277.89 L184.8,278.14 L185.5,278.65 L186.2,279.08 L186.9,279.49 L187.6,279.75 L188.3,279.67 L189,280.32 L189.7,280.53 L190.4,280.55" fill="none" stroke="#bf7a70" stroke-width="0.6"/>
<path d="M131.6,292.2 L131.6,292.2 L132.3,292.19 L133,292.19 L133.7,292.19 L134.4,292.19 L135.1,292.18 L135.8,292.18 L136.5,292.17 L137.2,292.16 L137.9,292.15 L138.6,292.13 L139.3,292.11 L140,292.09 L140.7,292.06 L141.4,292.03 L142.1,291.99 L142.8,291.94 L143.5,291.88 L144.2,291.8 L144.9,291.79 L145.6,291.66 L146.3,291.47 L147,291.38 L147.7,291.38 L148.4,290.91 L149.1,290.55 L149.8,290.69 L150.5,290.34 L151.2,290.14 L151.9,289.69 L152.6,289.26 L153.3,288.84 L154,288.4 L154.7,287.77 L155.4,287.36 L156.1,286.87 L156.8,286.4 L157.5,285.98 L158.2,284.98 L158.9,284.55 L159.6,283.88 L160.3,283.61 L161,283.08 L161.7,282.87 L162.4,282.63 L163.1,282.01 L163.8,281.77 L164.5,282.03 L165.2,282.01 L165.9,282.3 L166.6,282.78 L167.3,283.53 L168,283.59 L168.7,284.4 L169.4,284.66 L170.1,285.31 L170.8,285.83 L171.5,286.32 L172.2,287.21 L172.9,287.37 L173.6,288.13 L174.3,288.42 L175,288.77 L175.7,289.4 L176.4,289.62 L177.1,290.08 L177.8,290.36 L178.5,290.83 L179.2,291.08 L179.9,290.88 L180.6,291.39 L181.3,291.5 L182,291.59 L182.7,291.85 L183.4,291.87 L184.1,291.84 L184.8,291.9 L185.5,291.96 L186.2,292.01 L186.9,292.04 L187.6,292.08 L188.3,292.1 L189,292.12 L189.7,292.14 L190.4,292.15 L191.1,292.16 L191.8,292.17 L192.5,292.18 L193.2,292.18 L193.9,292.19 L194.6,292.19 L195.3,292.19 L196,292.19 L196.7,292.2 L197.4,292.2 L198.1,292.2 L198.8,292.2 L199.5,292.2 L200.2,292.2 L200.9,292.2 L201.6,292.2 L202.3,292.2 L203,292.2 L203.7,292.2 L204.4,292.2 L205.1,292.2 L205.8,292.2 L206.5,292.2 L207.2,292.2 L207.9,292.2 L208.6,292.2 L209.3,292.2 L210,292.2 L210.7,292.2 L211.4,292.2 L212.1,292.2 L212.8,292.2 L213.5,292.2 L214.2,292.2 L214.9,292.2 L215,292.2 Z" fill="#60679c"/>
<path d="M144.2,291.8 L144.9,291.79 L145.6,291.66 L146.3,291.47 L147,291.38 L147.7,291.38 L148.4,290.91 L149.1,290.55 L149.8,290.69 L150.5,290.34 L151.2,290.14 L151.9,289.69 L152.6,289.26 L153.3,288.84 L154,288.4 L154.7,287.77 L155.4,287.36 L156.1,286.87 L156.8,286.4 L157.5,285.98 L158.2,284.98 L158.9,284.55 L159.6,283.88 L160.3,283.61 L161,283.08 L161.7,282.87 L162.4,282.63 L163.1,282.01 L163.8,281.77 L164.5,282.03 L165.2,282.01 L165.9,282.3 L166.6,282.78 L167.3,283.53 L168,283.59 L168.7,284.4 L169.4,284.66 L170.1,285.31 L170.8,285.83 L171.5,286.32 L172.2,287.21 L172.9,287.37 L173.6,288.13 L174.3,288.42 L175,288.77 L175.7,289.4 L176.4,289.62 L177.1,290.08 L177.8,290.36 L178.5,290.83 L179.2,291.08 L179.9,290.88 L180.6,291.39 L181.3,291.5 L182,291.59" fill="none" stroke="#4a5090" stroke-width="0.6"/>
<rect x="131" y="207.95" width="84.6" height="84.55" fill="none" stroke="#231f20" stroke-width="1.45"/>
<line x1="221.6" y1="221.9" x2="305.7" y2="221.9" stroke="#e3c8ca" stroke-width="1.8"/>
<path d="M222.2,221.9 L222.2,221.38 L222.9,220.87 L223.6,220.6 L224.3,220.7 L225,220.3 L225.7,219.74 L226.4,219.79 L227.1,219.03 L227.8,218.64 L228.5,218.07 L229.2,218.03 L229.9,217.05 L230.6,216.92 L231.3,216.01 L232,215.45 L232.7,215.02 L233.4,214.62 L234.1,213.68 L234.8,213.23 L235.5,213.04 L236.2,212.41 L236.9,212 L237.6,211.94 L238.3,211.59 L239,211.67 L239.7,211.7 L240.4,211.84 L241.1,212.15 L241.8,212.31 L242.5,212.83 L243.2,213.19 L243.9,213.81 L244.6,214.13 L245.3,214.75 L246,215.5 L246.7,216.17 L247.4,216.84 L248.1,217.48 L248.8,217.82 L249.5,218.56 L250.2,219.05 L250.9,219.53 L251.6,219.99 L252.3,219.88 L253,220.63 L253.7,220.64 L254.4,221.09 L255.1,220.99 L255.8,221.38 L256.5,221.36 L257.2,221.53 L257.9,221.61 L258.6,221.68 L259.3,221.73 L260,221.78 L260.7,221.81 L261.4,221.83 L262.1,221.85 L262.8,221.87 L263.5,221.88 L264.2,221.88 L264.9,221.89 L265.6,221.89 L266.3,221.89 L267,221.9 L267.7,221.9 L268.4,221.9 L269.1,221.9 L269.8,221.9 L270.5,221.9 L271.2,221.9 L271.9,221.9 L272.6,221.9 L273.3,221.9 L274,221.9 L274.7,221.9 L275.4,221.9 L276.1,221.9 L276.8,221.9 L277.5,221.9 L278.2,221.9 L278.9,221.9 L279.6,221.9 L280.3,221.9 L281,221.9 L281.7,221.9 L282.4,221.9 L283.1,221.9 L283.8,221.9 L284.5,221.9 L285.2,221.9 L285.9,221.9 L286.6,221.9 L287.3,221.9 L288,221.9 L288.7,221.9 L289.4,221.9 L290.1,221.9 L290.8,221.9 L291.5,221.9 L292.2,221.9 L292.9,221.9 L293.6,221.9 L294.3,221.9 L295,221.9 L295.7,221.9 L296.4,221.9 L297.1,221.9 L297.8,221.9 L298.5,221.9 L299.2,221.9 L299.9,221.9 L300.6,221.9 L301.3,221.9 L302,221.9 L302.7,221.9 L303.4,221.9 L304.1,221.9 L304.8,221.9 L305.1,221.9 Z" fill="#cf9a8c"/>
<path d="M222.2,221.38 L222.9,220.87 L223.6,220.6 L224.3,220.7 L225,220.3 L225.7,219.74 L226.4,219.79 L227.1,219.03 L227.8,218.64 L228.5,218.07 L229.2,218.03 L229.9,217.05 L230.6,216.92 L231.3,216.01 L232,215.45 L232.7,215.02 L233.4,214.62 L234.1,213.68 L234.8,213.23 L235.5,213.04 L236.2,212.41 L236.9,212 L237.6,211.94 L238.3,211.59 L239,211.67 L239.7,211.7 L240.4,211.84 L241.1,212.15 L241.8,212.31 L242.5,212.83 L243.2,213.19 L243.9,213.81 L244.6,214.13 L245.3,214.75 L246,215.5 L246.7,216.17 L247.4,216.84 L248.1,217.48 L248.8,217.82 L249.5,218.56 L250.2,219.05 L250.9,219.53 L251.6,219.99 L252.3,219.88 L253,220.63 L253.7,220.64 L254.4,221.09 L255.1,220.99 L255.8,221.38 L256.5,221.36 L257.2,221.53" fill="none" stroke="#bf7a70" stroke-width="0.6"/>
<line x1="221.6" y1="233.72" x2="305.7" y2="233.72" stroke="#e3c8ca" stroke-width="1.8"/>
<path d="M222.2,233.72 L222.2,233 L222.9,232.84 L223.6,232.62 L224.3,232.6 L225,232.54 L225.7,232.14 L226.4,231.71 L227.1,231.44 L227.8,230.98 L228.5,230.4 L229.2,230.18 L229.9,229.7 L230.6,229.17 L231.3,228.44 L232,227.92 L232.7,227.24 L233.4,227.08 L234.1,226.28 L234.8,225.61 L235.5,225.09 L236.2,224.94 L236.9,224.53 L237.6,223.98 L238.3,224.16 L239,223.64 L239.7,223.57 L240.4,223.67 L241.1,223.7 L241.8,224.26 L242.5,224.37 L243.2,224.59 L243.9,225.3 L244.6,225.94 L245.3,226.43 L246,227.01 L246.7,227.58 L247.4,228.02 L248.1,228.99 L248.8,229.56 L249.5,230.03 L250.2,230.56 L250.9,230.98 L251.6,231.47 L252.3,231.86 L253,231.95 L253.7,232.1 L254.4,232.5 L255.1,232.71 L255.8,232.85 L256.5,233.01 L257.2,233.22 L257.9,233.37 L258.6,233.45 L259.3,233.51 L260,233.56 L260.7,233.6 L261.4,233.63 L262.1,233.66 L262.8,233.67 L263.5,233.69 L264.2,233.7 L264.9,233.7 L265.6,233.71 L266.3,233.71 L267,233.71 L267.7,233.72 L268.4,233.72 L269.1,233.72 L269.8,233.72 L270.5,233.72 L271.2,233.72 L271.9,233.72 L272.6,233.72 L273.3,233.72 L274,233.72 L274.7,233.72 L275.4,233.72 L276.1,233.72 L276.8,233.72 L277.5,233.72 L278.2,233.72 L278.9,233.72 L279.6,233.72 L280.3,233.72 L281,233.72 L281.7,233.72 L282.4,233.72 L283.1,233.72 L283.8,233.72 L284.5,233.72 L285.2,233.72 L285.9,233.72 L286.6,233.72 L287.3,233.72 L288,233.72 L288.7,233.72 L289.4,233.72 L290.1,233.72 L290.8,233.72 L291.5,233.72 L292.2,233.72 L292.9,233.72 L293.6,233.72 L294.3,233.72 L295,233.72 L295.7,233.72 L296.4,233.72 L297.1,233.72 L297.8,233.72 L298.5,233.72 L299.2,233.72 L299.9,233.72 L300.6,233.72 L301.3,233.72 L302,233.72 L302.7,233.72 L303.4,233.72 L304.1,233.72 L304.8,233.72 L305.1,233.72 Z" fill="#cf9a8c"/>
<path d="M222.2,233 L222.9,232.84 L223.6,232.62 L224.3,232.6 L225,232.54 L225.7,232.14 L226.4,231.71 L227.1,231.44 L227.8,230.98 L228.5,230.4 L229.2,230.18 L229.9,229.7 L230.6,229.17 L231.3,228.44 L232,227.92 L232.7,227.24 L233.4,227.08 L234.1,226.28 L234.8,225.61 L235.5,225.09 L236.2,224.94 L236.9,224.53 L237.6,223.98 L238.3,224.16 L239,223.64 L239.7,223.57 L240.4,223.67 L241.1,223.7 L241.8,224.26 L242.5,224.37 L243.2,224.59 L243.9,225.3 L244.6,225.94 L245.3,226.43 L246,227.01 L246.7,227.58 L247.4,228.02 L248.1,228.99 L248.8,229.56 L249.5,230.03 L250.2,230.56 L250.9,230.98 L251.6,231.47 L252.3,231.86 L253,231.95 L253.7,232.1 L254.4,232.5 L255.1,232.71 L255.8,232.85 L256.5,233.01 L257.2,233.22 L257.9,233.37" fill="none" stroke="#bf7a70" stroke-width="0.6"/>
<line x1="221.6" y1="245.54" x2="305.7" y2="245.54" stroke="#e3c8ca" stroke-width="1.8"/>
<path d="M222.2,245.54 L222.2,245.18 L222.9,245.11 L223.6,244.89 L224.3,244.5 L225,244.62 L225.7,244.36 L226.4,243.99 L227.1,243.86 L227.8,243.34 L228.5,242.89 L229.2,242.88 L229.9,242.46 L230.6,241.85 L231.3,241.19 L232,240.61 L232.7,240.35 L233.4,239.82 L234.1,239.06 L234.8,238.54 L235.5,237.89 L236.2,237.69 L236.9,236.84 L237.6,236.47 L238.3,236.44 L239,236.13 L239.7,235.93 L240.4,235.68 L241.1,235.68 L241.8,235.61 L242.5,235.58 L243.2,235.78 L243.9,236.11 L244.6,236.82 L245.3,237 L246,237.56 L246.7,238.3 L247.4,238.62 L248.1,239.33 L248.8,239.88 L249.5,240.43 L250.2,241.32 L250.9,241.67 L251.6,242.12 L252.3,242.53 L253,243.09 L253.7,243.44 L254.4,243.92 L255.1,244.09 L255.8,244.27 L256.5,244.79 L257.2,244.76 L257.9,244.71 L258.6,245.14 L259.3,245.17 L260,245.26 L260.7,245.33 L261.4,245.38 L262.1,245.42 L262.8,245.45 L263.5,245.47 L264.2,245.49 L264.9,245.51 L265.6,245.52 L266.3,245.52 L267,245.53 L267.7,245.53 L268.4,245.53 L269.1,245.54 L269.8,245.54 L270.5,245.54 L271.2,245.54 L271.9,245.54 L272.6,245.54 L273.3,245.54 L274,245.54 L274.7,245.54 L275.4,245.54 L276.1,245.54 L276.8,245.54 L277.5,245.54 L278.2,245.54 L278.9,245.54 L279.6,245.54 L280.3,245.54 L281,245.54 L281.7,245.54 L282.4,245.54 L283.1,245.54 L283.8,245.54 L284.5,245.54 L285.2,245.54 L285.9,245.54 L286.6,245.54 L287.3,245.54 L288,245.54 L288.7,245.54 L289.4,245.54 L290.1,245.54 L290.8,245.54 L291.5,245.54 L292.2,245.54 L292.9,245.54 L293.6,245.54 L294.3,245.54 L295,245.54 L295.7,245.54 L296.4,245.54 L297.1,245.54 L297.8,245.54 L298.5,245.54 L299.2,245.54 L299.9,245.54 L300.6,245.54 L301.3,245.54 L302,245.54 L302.7,245.54 L303.4,245.54 L304.1,245.54 L304.8,245.54 L305.1,245.54 Z" fill="#cf9a8c"/>
<path d="M222.2,245.18 L222.9,245.11 L223.6,244.89 L224.3,244.5 L225,244.62 L225.7,244.36 L226.4,243.99 L227.1,243.86 L227.8,243.34 L228.5,242.89 L229.2,242.88 L229.9,242.46 L230.6,241.85 L231.3,241.19 L232,240.61 L232.7,240.35 L233.4,239.82 L234.1,239.06 L234.8,238.54 L235.5,237.89 L236.2,237.69 L236.9,236.84 L237.6,236.47 L238.3,236.44 L239,236.13 L239.7,235.93 L240.4,235.68 L241.1,235.68 L241.8,235.61 L242.5,235.58 L243.2,235.78 L243.9,236.11 L244.6,236.82 L245.3,237 L246,237.56 L246.7,238.3 L247.4,238.62 L248.1,239.33 L248.8,239.88 L249.5,240.43 L250.2,241.32 L250.9,241.67 L251.6,242.12 L252.3,242.53 L253,243.09 L253.7,243.44 L254.4,243.92 L255.1,244.09 L255.8,244.27 L256.5,244.79 L257.2,244.76 L257.9,244.71 L258.6,245.14 L259.3,245.17" fill="none" stroke="#bf7a70" stroke-width="0.6"/>
<line x1="221.6" y1="257.36" x2="305.7" y2="257.36" stroke="#e3c8ca" stroke-width="1.8"/>
<path d="M222.2,257.36 L222.2,257.07 L222.9,257 L223.6,256.88 L224.3,256.61 L225,256.55 L225.7,256.3 L226.4,256.33 L227.1,256.15 L227.8,256.08 L228.5,255.78 L229.2,255.19 L229.9,255.06 L230.6,254.48 L231.3,254.13 L232,254.08 L232.7,253.63 L233.4,252.85 L234.1,252.53 L234.8,252.14 L235.5,251.6 L236.2,251.08 L236.9,250.3 L237.6,250.12 L238.3,249.39 L239,249.18 L239.7,248.8 L240.4,248.06 L241.1,248 L241.8,247.56 L242.5,247.45 L243.2,247.19 L243.9,247.32 L244.6,247.38 L245.3,247.73 L246,247.72 L246.7,248.12 L247.4,248.24 L248.1,248.86 L248.8,249.23 L249.5,250.06 L250.2,250.29 L250.9,251.15 L251.6,251.84 L252.3,252.04 L253,252.96 L253.7,253.25 L254.4,253.69 L255.1,254.23 L255.8,254.75 L256.5,254.95 L257.2,255.67 L257.9,255.84 L258.6,255.87 L259.3,256.55 L260,256.47 L260.7,256.55 L261.4,256.87 L262.1,257.01 L262.8,257.03 L263.5,257.1 L264.2,257.16 L264.9,257.21 L265.6,257.25 L266.3,257.28 L267,257.3 L267.7,257.32 L268.4,257.33 L269.1,257.34 L269.8,257.34 L270.5,257.35 L271.2,257.35 L271.9,257.35 L272.6,257.36 L273.3,257.36 L274,257.36 L274.7,257.36 L275.4,257.36 L276.1,257.36 L276.8,257.36 L277.5,257.36 L278.2,257.36 L278.9,257.36 L279.6,257.36 L280.3,257.36 L281,257.36 L281.7,257.36 L282.4,257.36 L283.1,257.36 L283.8,257.36 L284.5,257.36 L285.2,257.36 L285.9,257.36 L286.6,257.36 L287.3,257.36 L288,257.36 L288.7,257.36 L289.4,257.36 L290.1,257.36 L290.8,257.36 L291.5,257.36 L292.2,257.36 L292.9,257.36 L293.6,257.36 L294.3,257.36 L295,257.36 L295.7,257.36 L296.4,257.36 L297.1,257.36 L297.8,257.36 L298.5,257.36 L299.2,257.36 L299.9,257.36 L300.6,257.36 L301.3,257.36 L302,257.36 L302.7,257.36 L303.4,257.36 L304.1,257.36 L304.8,257.36 L305.1,257.36 Z" fill="#cf9a8c"/>
<path d="M222.9,257 L223.6,256.88 L224.3,256.61 L225,256.55 L225.7,256.3 L226.4,256.33 L227.1,256.15 L227.8,256.08 L228.5,255.78 L229.2,255.19 L229.9,255.06 L230.6,254.48 L231.3,254.13 L232,254.08 L232.7,253.63 L233.4,252.85 L234.1,252.53 L234.8,252.14 L235.5,251.6 L236.2,251.08 L236.9,250.3 L237.6,250.12 L238.3,249.39 L239,249.18 L239.7,248.8 L240.4,248.06 L241.1,248 L241.8,247.56 L242.5,247.45 L243.2,247.19 L243.9,247.32 L244.6,247.38 L245.3,247.73 L246,247.72 L246.7,248.12 L247.4,248.24 L248.1,248.86 L248.8,249.23 L249.5,250.06 L250.2,250.29 L250.9,251.15 L251.6,251.84 L252.3,252.04 L253,252.96 L253.7,253.25 L254.4,253.69 L255.1,254.23 L255.8,254.75 L256.5,254.95 L257.2,255.67 L257.9,255.84 L258.6,255.87 L259.3,256.55 L260,256.47 L260.7,256.55 L261.4,256.87 L262.1,257.01" fill="none" stroke="#bf7a70" stroke-width="0.6"/>
<line x1="221.6" y1="269.18" x2="305.7" y2="269.18" stroke="#e3c8ca" stroke-width="1.8"/>
<path d="M222.2,269.18 L222.2,268.97 L222.9,268.92 L223.6,268.85 L224.3,268.61 L225,268.88 L225.7,268.72 L226.4,268.46 L227.1,268.36 L227.8,267.88 L228.5,267.71 L229.2,267.37 L229.9,267.27 L230.6,266.72 L231.3,266.68 L232,266.16 L232.7,265.74 L233.4,265.27 L234.1,265.07 L234.8,264.32 L235.5,264.01 L236.2,263.54 L236.9,262.78 L237.6,262.46 L238.3,261.85 L239,261.4 L239.7,261.03 L240.4,260.55 L241.1,259.91 L241.8,259.63 L242.5,259.65 L243.2,259.1 L243.9,259.22 L244.6,258.96 L245.3,259.14 L246,259.6 L246.7,259.39 L247.4,259.88 L248.1,260.34 L248.8,260.87 L249.5,261.37 L250.2,261.88 L250.9,262.41 L251.6,263.2 L252.3,263.51 L253,264.11 L253.7,264.86 L254.4,265.19 L255.1,265.87 L255.8,266.14 L256.5,266.66 L257.2,267.25 L257.9,267.5 L258.6,267.51 L259.3,268.08 L260,268.05 L260.7,268.57 L261.4,268.48 L262.1,268.51 L262.8,268.78 L263.5,268.87 L264.2,268.94 L264.9,269 L265.6,269.04 L266.3,269.08 L267,269.1 L267.7,269.12 L268.4,269.14 L269.1,269.15 L269.8,269.16 L270.5,269.17 L271.2,269.17 L271.9,269.17 L272.6,269.18 L273.3,269.18 L274,269.18 L274.7,269.18 L275.4,269.18 L276.1,269.18 L276.8,269.18 L277.5,269.18 L278.2,269.18 L278.9,269.18 L279.6,269.18 L280.3,269.18 L281,269.18 L281.7,269.18 L282.4,269.18 L283.1,269.18 L283.8,269.18 L284.5,269.18 L285.2,269.18 L285.9,269.18 L286.6,269.18 L287.3,269.18 L288,269.18 L288.7,269.18 L289.4,269.18 L290.1,269.18 L290.8,269.18 L291.5,269.18 L292.2,269.18 L292.9,269.18 L293.6,269.18 L294.3,269.18 L295,269.18 L295.7,269.18 L296.4,269.18 L297.1,269.18 L297.8,269.18 L298.5,269.18 L299.2,269.18 L299.9,269.18 L300.6,269.18 L301.3,269.18 L302,269.18 L302.7,269.18 L303.4,269.18 L304.1,269.18 L304.8,269.18 L305.1,269.18 Z" fill="#cf9a8c"/>
<path d="M225.7,268.72 L226.4,268.46 L227.1,268.36 L227.8,267.88 L228.5,267.71 L229.2,267.37 L229.9,267.27 L230.6,266.72 L231.3,266.68 L232,266.16 L232.7,265.74 L233.4,265.27 L234.1,265.07 L234.8,264.32 L235.5,264.01 L236.2,263.54 L236.9,262.78 L237.6,262.46 L238.3,261.85 L239,261.4 L239.7,261.03 L240.4,260.55 L241.1,259.91 L241.8,259.63 L242.5,259.65 L243.2,259.1 L243.9,259.22 L244.6,258.96 L245.3,259.14 L246,259.6 L246.7,259.39 L247.4,259.88 L248.1,260.34 L248.8,260.87 L249.5,261.37 L250.2,261.88 L250.9,262.41 L251.6,263.2 L252.3,263.51 L253,264.11 L253.7,264.86 L254.4,265.19 L255.1,265.87 L255.8,266.14 L256.5,266.66 L257.2,267.25 L257.9,267.5 L258.6,267.51 L259.3,268.08 L260,268.05 L260.7,268.57 L261.4,268.48 L262.1,268.51 L262.8,268.78" fill="none" stroke="#bf7a70" stroke-width="0.6"/>
<line x1="221.6" y1="281" x2="305.7" y2="281" stroke="#e3c8ca" stroke-width="1.8"/>
<path d="M222.2,281 L222.2,280.79 L222.9,280.74 L223.6,280.67 L224.3,280.54 L225,280.72 L225.7,280.52 L226.4,280.14 L227.1,279.88 L227.8,279.92 L228.5,279.58 L229.2,279.29 L229.9,279.05 L230.6,278.68 L231.3,278.26 L232,278.18 L232.7,277.61 L233.4,276.97 L234.1,276.57 L234.8,276.38 L235.5,275.48 L236.2,275.29 L236.9,274.83 L237.6,273.9 L238.3,273.58 L239,272.89 L239.7,272.49 L240.4,272.03 L241.1,272.09 L241.8,271.48 L242.5,271.21 L243.2,270.95 L243.9,271.21 L244.6,270.99 L245.3,271.11 L246,271.12 L246.7,271.39 L247.4,271.85 L248.1,271.99 L248.8,272.57 L249.5,273.18 L250.2,273.63 L250.9,274.22 L251.6,274.63 L252.3,275.27 L253,276.17 L253.7,276.34 L254.4,276.97 L255.1,277.85 L255.8,278.01 L256.5,278.61 L257.2,278.92 L257.9,279.36 L258.6,279.39 L259.3,279.58 L260,279.94 L260.7,280.43 L261.4,280.59 L262.1,280.67 L262.8,280.6 L263.5,280.69 L264.2,280.76 L264.9,280.82 L265.6,280.86 L266.3,280.9 L267,280.92 L267.7,280.94 L268.4,280.96 L269.1,280.97 L269.8,280.98 L270.5,280.99 L271.2,280.99 L271.9,280.99 L272.6,281 L273.3,281 L274,281 L274.7,281 L275.4,281 L276.1,281 L276.8,281 L277.5,281 L278.2,281 L278.9,281 L279.6,281 L280.3,281 L281,281 L281.7,281 L282.4,281 L283.1,281 L283.8,281 L284.5,281 L285.2,281 L285.9,281 L286.6,281 L287.3,281 L288,281 L288.7,281 L289.4,281 L290.1,281 L290.8,281 L291.5,281 L292.2,281 L292.9,281 L293.6,281 L294.3,281 L295,281 L295.7,281 L296.4,281 L297.1,281 L297.8,281 L298.5,281 L299.2,281 L299.9,281 L300.6,281 L301.3,281 L302,281 L302.7,281 L303.4,281 L304.1,281 L304.8,281 L305.1,281 Z" fill="#cf9a8c"/>
<path d="M225.7,280.52 L226.4,280.14 L227.1,279.88 L227.8,279.92 L228.5,279.58 L229.2,279.29 L229.9,279.05 L230.6,278.68 L231.3,278.26 L232,278.18 L232.7,277.61 L233.4,276.97 L234.1,276.57 L234.8,276.38 L235.5,275.48 L236.2,275.29 L236.9,274.83 L237.6,273.9 L238.3,273.58 L239,272.89 L239.7,272.49 L240.4,272.03 L241.1,272.09 L241.8,271.48 L242.5,271.21 L243.2,270.95 L243.9,271.21 L244.6,270.99 L245.3,271.11 L246,271.12 L246.7,271.39 L247.4,271.85 L248.1,271.99 L248.8,272.57 L249.5,273.18 L250.2,273.63 L250.9,274.22 L251.6,274.63 L252.3,275.27 L253,276.17 L253.7,276.34 L254.4,276.97 L255.1,277.85 L255.8,278.01 L256.5,278.61 L257.2,278.92 L257.9,279.36 L258.6,279.39 L259.3,279.58 L260,279.94 L260.7,280.43 L261.4,280.59" fill="none" stroke="#bf7a70" stroke-width="0.6"/>
<path d="M222.2,292.2 L222.2,291.32 L222.9,291.12 L223.6,290.91 L224.3,290.64 L225,290.66 L225.7,290.25 L226.4,289.8 L227.1,289.35 L227.8,288.92 L228.5,288.52 L229.2,288.32 L229.9,287.74 L230.6,287.28 L231.3,286.7 L232,286.04 L232.7,285.47 L233.4,284.6 L234.1,284.18 L234.8,283.88 L235.5,283.04 L236.2,282.65 L236.9,282.27 L237.6,281.85 L238.3,281.72 L239,281.61 L239.7,281.19 L240.4,281.26 L241.1,281.44 L241.8,281.18 L242.5,281.83 L243.2,281.99 L243.9,282.58 L244.6,283.04 L245.3,283.87 L246,284.75 L246.7,285.24 L247.4,285.92 L248.1,286.72 L248.8,287.64 L249.5,288.06 L250.2,288.49 L250.9,289.28 L251.6,289.58 L252.3,290.1 L253,290.59 L253.7,290.87 L254.4,291.37 L255.1,291.24 L255.8,291.62 L256.5,291.81 L257.2,291.83 L257.9,291.93 L258.6,292 L259.3,292.05 L260,292.09 L260.7,292.12 L261.4,292.15 L262.1,292.16 L262.8,292.17 L263.5,292.18 L264.2,292.19 L264.9,292.19 L265.6,292.19 L266.3,292.2 L267,292.2 L267.7,292.2 L268.4,292.2 L269.1,292.2 L269.8,292.2 L270.5,292.2 L271.2,292.2 L271.9,292.2 L272.6,292.2 L273.3,292.2 L274,292.2 L274.7,292.2 L275.4,292.2 L276.1,292.2 L276.8,292.2 L277.5,292.2 L278.2,292.2 L278.9,292.2 L279.6,292.2 L280.3,292.2 L281,292.2 L281.7,292.2 L282.4,292.2 L283.1,292.2 L283.8,292.2 L284.5,292.2 L285.2,292.2 L285.9,292.2 L286.6,292.2 L287.3,292.2 L288,292.2 L288.7,292.2 L289.4,292.2 L290.1,292.2 L290.8,292.2 L291.5,292.2 L292.2,292.2 L292.9,292.2 L293.6,292.2 L294.3,292.2 L295,292.2 L295.7,292.2 L296.4,292.2 L297.1,292.2 L297.8,292.2 L298.5,292.2 L299.2,292.2 L299.9,292.2 L300.6,292.2 L301.3,292.2 L302,292.2 L302.7,292.2 L303.4,292.2 L304.1,292.2 L304.8,292.2 L305.1,292.2 Z" fill="#586898"/>
<path d="M222.2,291.32 L222.9,291.12 L223.6,290.91 L224.3,290.64 L225,290.66 L225.7,290.25 L226.4,289.8 L227.1,289.35 L227.8,288.92 L228.5,288.52 L229.2,288.32 L229.9,287.74 L230.6,287.28 L231.3,286.7 L232,286.04 L232.7,285.47 L233.4,284.6 L234.1,284.18 L234.8,283.88 L235.5,283.04 L236.2,282.65 L236.9,282.27 L237.6,281.85 L238.3,281.72 L239,281.61 L239.7,281.19 L240.4,281.26 L241.1,281.44 L241.8,281.18 L242.5,281.83 L243.2,281.99 L243.9,282.58 L244.6,283.04 L245.3,283.87 L246,284.75 L246.7,285.24 L247.4,285.92 L248.1,286.72 L248.8,287.64 L249.5,288.06 L250.2,288.49 L250.9,289.28 L251.6,289.58 L252.3,290.1 L253,290.59 L253.7,290.87 L254.4,291.37 L255.1,291.24 L255.8,291.62 L256.5,291.81 L257.2,291.83" fill="none" stroke="#4a5090" stroke-width="0.6"/>
<rect x="221.6" y="208.7" width="84.1" height="83.8" fill="none" stroke="#231f20" stroke-width="1.45"/>
<path d="M40,292.3v3.4 M47.35,292.3v2 M51.64,292.3v2 M54.69,292.3v2 M57.05,292.3v2 M58.99,292.3v2 M60.62,292.3v2 M62.04,292.3v2 M63.28,292.3v2 M64.4,292.3v3.4 M71.75,292.3v2 M76.04,292.3v2 M79.09,292.3v2 M81.45,292.3v2 M83.39,292.3v2 M85.02,292.3v2 M86.44,292.3v2 M87.68,292.3v2 M88.8,292.3v3.4 M96.15,292.3v2 M100.44,292.3v2 M103.49,292.3v2 M105.85,292.3v2 M107.79,292.3v2 M109.42,292.3v2 M110.84,292.3v2 M112.08,292.3v2 M113.2,292.3v3.4 M120.55,292.3v2" stroke="#231f20" stroke-width="0.9" fill="none"/>
<path d="M132.69,292.3v2 M135.75,292.3v2 M138.12,292.3v2 M140.06,292.3v2 M141.7,292.3v2 M143.13,292.3v2 M144.38,292.3v2 M145.5,292.3v3.4 M152.88,292.3v2 M157.19,292.3v2 M160.25,292.3v2 M162.62,292.3v2 M164.56,292.3v2 M166.2,292.3v2 M167.63,292.3v2 M168.88,292.3v2 M170,292.3v3.4 M177.38,292.3v2 M181.69,292.3v2 M184.75,292.3v2 M187.12,292.3v2 M189.06,292.3v2 M190.7,292.3v2 M192.13,292.3v2 M193.38,292.3v2 M194.5,292.3v3.4 M201.88,292.3v2 M206.19,292.3v2 M209.25,292.3v2 M211.62,292.3v2 M213.56,292.3v2 M215.2,292.3v2" stroke="#231f20" stroke-width="0.9" fill="none"/>
<path d="M224.17,292.3v2 M227.35,292.3v2 M229.82,292.3v2 M231.84,292.3v2 M233.55,292.3v2 M235.03,292.3v2 M236.33,292.3v2 M237.5,292.3v3.4 M245.18,292.3v2 M249.67,292.3v2 M252.85,292.3v2 M255.32,292.3v2 M257.34,292.3v2 M259.05,292.3v2 M260.53,292.3v2 M261.83,292.3v2 M263,292.3v3.4 M270.68,292.3v2 M275.17,292.3v2 M278.35,292.3v2 M280.82,292.3v2 M282.84,292.3v2 M284.55,292.3v2 M286.03,292.3v2 M287.33,292.3v2 M288.5,292.3v3.4 M296.18,292.3v2 M300.67,292.3v2 M303.85,292.3v2" stroke="#231f20" stroke-width="0.9" fill="none"/>
<text x="41.5" y="306.9" font-family="'Liberation Sans', sans-serif" stroke="#231f20" stroke-width="0.22" font-size="8.4" fill="#231f20">10<tspan dy="-3.9" font-size="6.4">2</tspan></text>
<text x="67.7" y="306.9" font-family="'Liberation Sans', sans-serif" stroke="#231f20" stroke-width="0.22" font-size="8.4" fill="#231f20">10<tspan dy="-3.9" font-size="6.4">3</tspan></text>
<text x="90.5" y="306.9" font-family="'Liberation Sans', sans-serif" stroke="#231f20" stroke-width="0.22" font-size="8.4" fill="#231f20">10<tspan dy="-3.9" font-size="6.4">4</tspan></text>
<text x="113.3" y="306.9" font-family="'Liberation Sans', sans-serif" stroke="#231f20" stroke-width="0.22" font-size="8.4" fill="#231f20">10<tspan dy="-3.9" font-size="6.4">5</tspan></text>
<text x="142.7" y="306.9" font-family="'Liberation Sans', sans-serif" stroke="#231f20" stroke-width="0.22" font-size="8.4" fill="#231f20">10<tspan dy="-3.9" font-size="6.4">3</tspan></text>
<text x="170.4" y="306.9" font-family="'Liberation Sans', sans-serif" stroke="#231f20" stroke-width="0.22" font-size="8.4" fill="#231f20">10<tspan dy="-3.9" font-size="6.4">4</tspan></text>
<text x="201.5" y="306.9" font-family="'Liberation Sans', sans-serif" stroke="#231f20" stroke-width="0.22" font-size="8.4" fill="#231f20">10<tspan dy="-3.9" font-size="6.4">5</tspan></text>
<text x="222.3" y="306.9" font-family="'Liberation Sans', sans-serif" stroke="#231f20" stroke-width="0.22" font-size="8.4" fill="#231f20">10<tspan dy="-3.9" font-size="6.4">3</tspan></text>
<text x="252.6" y="306.9" font-family="'Liberation Sans', sans-serif" stroke="#231f20" stroke-width="0.22" font-size="8.4" fill="#231f20">10<tspan dy="-3.9" font-size="6.4">4</tspan></text>
<text x="287.2" y="306.9" font-family="'Liberation Sans', sans-serif" stroke="#231f20" stroke-width="0.22" font-size="8.4" fill="#231f20">10<tspan dy="-3.9" font-size="6.4">5</tspan></text>
<text x="304" y="219.3" font-family="'Liberation Sans', sans-serif" stroke="#231f20" stroke-width="0.22" font-size="7.6" fill="#231f20" text-anchor="end">0</text>
<text x="304" y="231.12" font-family="'Liberation Sans', sans-serif" stroke="#231f20" stroke-width="0.22" font-size="7.6" fill="#231f20" text-anchor="end">15</text>
<text x="304" y="242.94" font-family="'Liberation Sans', sans-serif" stroke="#231f20" stroke-width="0.22" font-size="7.6" fill="#231f20" text-anchor="end">30</text>
<text x="304" y="254.76" font-family="'Liberation Sans', sans-serif" stroke="#231f20" stroke-width="0.22" font-size="7.6" fill="#231f20" text-anchor="end">60</text>
<text x="304" y="266.58" font-family="'Liberation Sans', sans-serif" stroke="#231f20" stroke-width="0.22" font-size="7.6" fill="#231f20" text-anchor="end">120</text>
<text x="304" y="278.4" font-family="'Liberation Sans', sans-serif" stroke="#231f20" stroke-width="0.22" font-size="7.6" fill="#231f20" text-anchor="end">240</text>
<text x="304" y="289.5" font-family="'Liberation Sans', sans-serif" stroke="#231f20" stroke-width="0.22" font-size="7.6" fill="#231f20" text-anchor="end">4<tspan dy="-1.9" font-size="4.6" stroke-width="0.15">o</tspan><tspan dy="1.9">C</tspan></text>
<text transform="translate(318.4,250.4) rotate(-90)" font-family="'Liberation Sans', sans-serif" stroke="#231f20" stroke-width="0.22" font-size="10.2" fill="#231f20" text-anchor="middle" textLength="44.7" lengthAdjust="spacingAndGlyphs">Time [min]</text>
<text transform="translate(29.2,252.2) rotate(-90)" font-family="'Liberation Sans', sans-serif" stroke="#231f20" stroke-width="0.22" font-size="10.2" fill="#231f20" text-anchor="middle" textLength="30.4" lengthAdjust="spacingAndGlyphs">Counts</text>
<path d="M26.6,316.2 V274.9 M26.6,316.2 H71" stroke="#2a2a2a" stroke-width="1.2" fill="none"/>
<path d="M26.6,270.9 L23.0,279.7 L26.6,277.5 L30.200000000000003,279.7 Z" fill="#231f20"/>
<path d="M75.4,316.2 L66.6,312.6 L68.8,316.2 L66.6,319.8 Z" fill="#231f20"/>
<text x="78.8" y="318.8" font-family="'Liberation Sans', sans-serif" stroke="#231f20" stroke-width="0.22" font-size="10" fill="#231f20" textLength="100" lengthAdjust="spacingAndGlyphs">Newly expressed MHC I</text>
<line x1="379.1" y1="30.87" x2="511" y2="30.87" stroke="#1a1a1a" stroke-width="1.5" stroke-dasharray="2.6,1.45"/>
<line x1="379.1" y1="92.24" x2="511" y2="92.24" stroke="#1a1a1a" stroke-width="1.5" stroke-dasharray="2.6,1.45"/>
<line x1="493.6" y1="20.2" x2="493.6" y2="153.3" stroke="#1a1a1a" stroke-width="1.5" stroke-dasharray="2.6,1.45"/>
<path d="M379.1,20.2 V153.3" stroke="#4a4a4a" stroke-width="1.7" fill="none"/>
<path d="M375.8,153.3 H512.5" stroke="#222" stroke-width="1.3" fill="none"/>
<path d="M375.70000000000005,153.3h3.4 M375.70000000000005,92.24h3.4 M375.70000000000005,30.87h3.4 M377.3,135.14h1.8 M377.3,124.33h1.8 M377.3,116.66h1.8 M377.3,110.71h1.8 M377.3,105.85h1.8 M377.3,101.75h1.8 M377.3,98.19h1.8 M377.3,95.05h1.8 M377.3,73.77h1.8 M377.3,62.96h1.8 M377.3,55.29h1.8 M377.3,49.34h1.8 M377.3,44.48h1.8 M377.3,40.38h1.8 M377.3,36.82h1.8 M377.3,33.68h1.8 M398.05,153.3v3.6 M417.15,153.3v3.6 M436.25,153.3v3.6 M455.35,153.3v3.6 M474.45,153.3v3.6 M493.6,153.3v3.6" stroke="#333" stroke-width="1" fill="none"/>
<text x="372.8" y="33.87" font-family="'Liberation Sans', sans-serif" stroke="#231f20" stroke-width="0.22" font-size="8.4" fill="#231f20" text-anchor="end">1000</text>
<text x="372.8" y="95.24" font-family="'Liberation Sans', sans-serif" stroke="#231f20" stroke-width="0.22" font-size="8.4" fill="#231f20" text-anchor="end">100</text>
<text x="372.8" y="156.3" font-family="'Liberation Sans', sans-serif" stroke="#231f20" stroke-width="0.22" font-size="8.4" fill="#231f20" text-anchor="end">10</text>
<text transform="translate(347.6,85.3) rotate(-90)" font-family="'Liberation Sans', sans-serif" stroke="#231f20" stroke-width="0.22" font-size="10" fill="#231f20" text-anchor="middle" textLength="73" lengthAdjust="spacingAndGlyphs">% MHC I turnover</text>
<path d="M407.6,94.3V98.8" stroke="#7a7a7a" stroke-width="1.3" fill="none"/>
<path d="M405.8,94.3h3.6 M405.8,98.8h3.6" stroke="#231f20" stroke-width="1" fill="none"/>
<path d="M426.7,101.5V109.8" stroke="#7a7a7a" stroke-width="1.3" fill="none"/>
<path d="M424.9,101.5h3.6 M424.9,109.8h3.6" stroke="#231f20" stroke-width="1" fill="none"/>
<path d="M445.8,107.5V115" stroke="#7a7a7a" stroke-width="1.3" fill="none"/>
<path d="M444,107.5h3.6 M444,115h3.6" stroke="#231f20" stroke-width="1" fill="none"/>
<path d="M464.9,114.5V125" stroke="#7a7a7a" stroke-width="1.3" fill="none"/>
<path d="M463.1,114.5h3.6 M463.1,125h3.6" stroke="#231f20" stroke-width="1" fill="none"/>
<path d="M484,122V130.5" stroke="#7a7a7a" stroke-width="1.3" fill="none"/>
<path d="M482.2,122h3.6 M482.2,130.5h3.6" stroke="#231f20" stroke-width="1" fill="none"/>
<path d="M503.1,94.5V101.5" stroke="#7a7a7a" stroke-width="1.3" fill="none"/>
<path d="M501.3,94.5h3.6 M501.3,101.5h3.6" stroke="#231f20" stroke-width="1" fill="none"/>
<path d="M445.8,97V101.5" stroke="#7a7a7a" stroke-width="1.3" fill="none"/>
<path d="M444,97h3.6 M444,101.5h3.6" stroke="#231f20" stroke-width="1" fill="none"/>
<path d="M464.9,102V108.5" stroke="#7a7a7a" stroke-width="1.3" fill="none"/>
<path d="M463.1,102h3.6 M463.1,108.5h3.6" stroke="#231f20" stroke-width="1" fill="none"/>
<path d="M484,104.5V112" stroke="#7a7a7a" stroke-width="1.3" fill="none"/>
<path d="M482.2,104.5h3.6 M482.2,112h3.6" stroke="#231f20" stroke-width="1" fill="none"/>
<path d="M503.1,85V91" stroke="#7a7a7a" stroke-width="1.3" fill="none"/>
<path d="M501.3,85h3.6 M501.3,91h3.6" stroke="#231f20" stroke-width="1" fill="none"/>
<circle cx="407.6" cy="97" r="1.3" fill="#231f20"/>
<circle cx="407.6" cy="100.3" r="1.3" fill="#231f20"/>
<circle cx="426.7" cy="101.5" r="1.3" fill="#231f20"/>
<circle cx="426.7" cy="103" r="1.3" fill="#231f20"/>
<circle cx="445.8" cy="104.5" r="1.3" fill="#231f20"/>
<circle cx="445.8" cy="106.5" r="1.3" fill="#231f20"/>
<circle cx="445.8" cy="108.5" r="1.3" fill="#231f20"/>
<circle cx="464.9" cy="101.8" r="1.3" fill="#231f20"/>
<circle cx="464.9" cy="108.5" r="1.3" fill="#231f20"/>
<circle cx="484" cy="106.5" r="1.3" fill="#231f20"/>
<circle cx="484" cy="114.5" r="1.3" fill="#231f20"/>
<circle cx="503.1" cy="92" r="1.3" fill="#231f20"/>
<circle cx="503.1" cy="94.5" r="1.3" fill="#231f20"/>
<circle cx="503.1" cy="96.5" r="1.3" fill="#231f20"/>
<circle cx="407.6" cy="99.5" r="1.3" fill="#a8283c"/>
<circle cx="426.7" cy="96.5" r="1.3" fill="#a8283c"/>
<circle cx="445.8" cy="97.3" r="1.3" fill="#a8283c"/>
<circle cx="445.8" cy="103.3" r="1.3" fill="#a8283c"/>
<circle cx="464.9" cy="109.5" r="1.3" fill="#a8283c"/>
<circle cx="484" cy="108.5" r="1.3" fill="#a8283c"/>
<circle cx="484" cy="111" r="1.3" fill="#a8283c"/>
<circle cx="503.1" cy="82" r="1.3" fill="#a8283c"/>
<circle cx="503.1" cy="84.5" r="1.3" fill="#a8283c"/>
<circle cx="503.1" cy="86.5" r="1.3" fill="#a8283c"/>
<circle cx="503.1" cy="90" r="1.3" fill="#a8283c"/>
<circle cx="407.6" cy="90.4" r="1.3" fill="#3b5a94"/>
<circle cx="407.6" cy="107.1" r="1.3" fill="#3b5a94"/>
<circle cx="426.7" cy="87.8" r="1.3" fill="#3b5a94"/>
<circle cx="426.7" cy="96.1" r="1.3" fill="#3b5a94"/>
<circle cx="426.7" cy="120" r="1.3" fill="#3b5a94"/>
<circle cx="445.8" cy="101" r="1.3" fill="#3b5a94"/>
<circle cx="445.8" cy="111.8" r="1.3" fill="#3b5a94"/>
<circle cx="445.8" cy="114.5" r="1.3" fill="#3b5a94"/>
<circle cx="445.8" cy="118" r="1.3" fill="#3b5a94"/>
<circle cx="464.9" cy="99.3" r="1.3" fill="#3b5a94"/>
<circle cx="464.9" cy="113" r="1.3" fill="#3b5a94"/>
<circle cx="464.9" cy="126" r="1.3" fill="#3b5a94"/>
<circle cx="464.9" cy="145" r="1.3" fill="#3b5a94"/>
<circle cx="484" cy="101.3" r="1.3" fill="#3b5a94"/>
<circle cx="484" cy="117.9" r="1.3" fill="#3b5a94"/>
<circle cx="484" cy="132.2" r="1.3" fill="#3b5a94"/>
<circle cx="484" cy="138.6" r="1.3" fill="#3b5a94"/>
<circle cx="503.1" cy="95" r="1.3" fill="#3b5a94"/>
<circle cx="503.1" cy="98.5" r="1.3" fill="#3b5a94"/>
<circle cx="503.1" cy="101" r="1.3" fill="#3b5a94"/>
<circle cx="503.1" cy="103.8" r="1.3" fill="#3b5a94"/>
<polyline points="388.5,92.3 407.6,97.2 426.7,100 445.8,102.2 464.9,104.6 484,105.8 503.1,92" fill="none" stroke="#6aae4a" stroke-width="1.5"/>
<rect x="387.2" y="91" width="2.6" height="2.6" fill="#a8d090" stroke="#6aae4a" stroke-width="0.8"/>
<rect x="406.3" y="95.9" width="2.6" height="2.6" fill="#a8d090" stroke="#6aae4a" stroke-width="0.8"/>
<rect x="425.4" y="98.7" width="2.6" height="2.6" fill="#a8d090" stroke="#6aae4a" stroke-width="0.8"/>
<rect x="444.5" y="100.9" width="2.6" height="2.6" fill="#a8d090" stroke="#6aae4a" stroke-width="0.8"/>
<rect x="463.6" y="103.3" width="2.6" height="2.6" fill="#a8d090" stroke="#6aae4a" stroke-width="0.8"/>
<rect x="482.7" y="104.5" width="2.6" height="2.6" fill="#a8d090" stroke="#6aae4a" stroke-width="0.8"/>
<rect x="501.8" y="90.7" width="2.6" height="2.6" fill="#a8d090" stroke="#6aae4a" stroke-width="0.8"/>
<polyline points="388.5,92.3 407.6,97.9 426.7,98 445.8,99.3 464.9,105.9 484,108.4 503.1,88.2" fill="none" stroke="#a8283c" stroke-width="1.5"/>
<rect x="387.2" y="91" width="2.6" height="2.6" fill="#d08090" stroke="#a8283c" stroke-width="0.8"/>
<rect x="406.3" y="96.6" width="2.6" height="2.6" fill="#d08090" stroke="#a8283c" stroke-width="0.8"/>
<rect x="425.4" y="96.7" width="2.6" height="2.6" fill="#d08090" stroke="#a8283c" stroke-width="0.8"/>
<rect x="444.5" y="98" width="2.6" height="2.6" fill="#d08090" stroke="#a8283c" stroke-width="0.8"/>
<rect x="463.6" y="104.6" width="2.6" height="2.6" fill="#d08090" stroke="#a8283c" stroke-width="0.8"/>
<rect x="482.7" y="107.1" width="2.6" height="2.6" fill="#d08090" stroke="#a8283c" stroke-width="0.8"/>
<rect x="501.8" y="86.9" width="2.6" height="2.6" fill="#d08090" stroke="#a8283c" stroke-width="0.8"/>
<polyline points="388.5,92.3 407.6,95.4 426.7,105.1 445.8,111 464.9,119.4 484,126.2 503.1,98.2" fill="none" stroke="#3b5a94" stroke-width="1.5"/>
<rect x="387.2" y="91" width="2.6" height="2.6" fill="#8aa0c8" stroke="#3b5a94" stroke-width="0.8"/>
<rect x="406.3" y="94.1" width="2.6" height="2.6" fill="#8aa0c8" stroke="#3b5a94" stroke-width="0.8"/>
<rect x="425.4" y="103.8" width="2.6" height="2.6" fill="#8aa0c8" stroke="#3b5a94" stroke-width="0.8"/>
<rect x="444.5" y="109.7" width="2.6" height="2.6" fill="#8aa0c8" stroke="#3b5a94" stroke-width="0.8"/>
<rect x="463.6" y="118.1" width="2.6" height="2.6" fill="#8aa0c8" stroke="#3b5a94" stroke-width="0.8"/>
<rect x="482.7" y="124.9" width="2.6" height="2.6" fill="#8aa0c8" stroke="#3b5a94" stroke-width="0.8"/>
<rect x="501.8" y="96.9" width="2.6" height="2.6" fill="#8aa0c8" stroke="#3b5a94" stroke-width="0.8"/>
<circle cx="445.4" cy="66.2" r="0.9" fill="#6aae4a"/>
<circle cx="445.4" cy="74.7" r="0.9" fill="#a8283c"/>
<circle cx="465.7" cy="74.7" r="0.9" fill="#6aae4a"/>
<circle cx="469.2" cy="74.7" r="0.9" fill="#6aae4a"/>
<circle cx="483" cy="74.2" r="0.9" fill="#6aae4a"/>
<circle cx="500.3" cy="74.4" r="0.9" fill="#a8283c"/>
<circle cx="504.3" cy="74.4" r="0.9" fill="#a8283c"/>
<line x1="385" y1="39.3" x2="400.8" y2="39.3" stroke="#3b5a94" stroke-width="1.4"/>
<text x="404" y="42.1" font-family="'Liberation Sans', sans-serif" stroke="#231f20" stroke-width="0.22" font-size="8" fill="#231f20">mono</text>
<line x1="385" y1="51.6" x2="400.8" y2="51.6" stroke="#a8283c" stroke-width="1.4"/>
<text x="404" y="54.4" font-family="'Liberation Sans', sans-serif" stroke="#231f20" stroke-width="0.22" font-size="8" fill="#231f20">imDC</text>
<line x1="385" y1="63.9" x2="400.8" y2="63.9" stroke="#6aae4a" stroke-width="1.4"/>
<text x="404" y="66.7" font-family="'Liberation Sans', sans-serif" stroke="#231f20" stroke-width="0.22" font-size="8" fill="#231f20">mDC</text>
<line x1="379.1" y1="192.05" x2="511" y2="192.05" stroke="#1a1a1a" stroke-width="1.5" stroke-dasharray="2.6,1.45"/>
<line x1="379.1" y1="253.36" x2="511" y2="253.36" stroke="#1a1a1a" stroke-width="1.5" stroke-dasharray="2.6,1.45"/>
<line x1="493.6" y1="181.8" x2="493.6" y2="314.6" stroke="#1a1a1a" stroke-width="1.5" stroke-dasharray="2.6,1.45"/>
<path d="M379.1,181.8 V314.6" stroke="#4a4a4a" stroke-width="1.7" fill="none"/>
<path d="M375.8,314.6 H512.5" stroke="#222" stroke-width="1.3" fill="none"/>
<path d="M375.70000000000005,314.6h3.4 M375.70000000000005,253.36h3.4 M375.70000000000005,192.05h3.4 M377.3,296.21h1.8 M377.3,285.42h1.8 M377.3,277.76h1.8 M377.3,271.82h1.8 M377.3,266.96h1.8 M377.3,262.86h1.8 M377.3,259.3h1.8 M377.3,256.17h1.8 M377.3,234.9h1.8 M377.3,224.11h1.8 M377.3,216.45h1.8 M377.3,210.51h1.8 M377.3,205.65h1.8 M377.3,201.55h1.8 M377.3,197.99h1.8 M377.3,194.86h1.8 M398.05,314.6v3.6 M417.15,314.6v3.6 M436.25,314.6v3.6 M455.35,314.6v3.6 M474.45,314.6v3.6 M493.6,314.6v3.6" stroke="#333" stroke-width="1" fill="none"/>
<text x="372.8" y="195.05" font-family="'Liberation Sans', sans-serif" stroke="#231f20" stroke-width="0.22" font-size="8.4" fill="#231f20" text-anchor="end">1000</text>
<text x="372.8" y="256.36" font-family="'Liberation Sans', sans-serif" stroke="#231f20" stroke-width="0.22" font-size="8.4" fill="#231f20" text-anchor="end">100</text>
<text x="372.8" y="317.6" font-family="'Liberation Sans', sans-serif" stroke="#231f20" stroke-width="0.22" font-size="8.4" fill="#231f20" text-anchor="end">10</text>
<text transform="translate(347.6,248.6) rotate(-90)" font-family="'Liberation Sans', sans-serif" stroke="#231f20" stroke-width="0.22" font-size="10" fill="#231f20" text-anchor="middle" textLength="107" lengthAdjust="spacingAndGlyphs">% newly expressed MHC I</text>
<path d="M407.6,238.5V250.2" stroke="#7a7a7a" stroke-width="1.3" fill="none"/>
<path d="M405.8,238.5h3.6 M405.8,250.2h3.6" stroke="#231f20" stroke-width="1" fill="none"/>
<path d="M426.7,216.5V231.8" stroke="#7a7a7a" stroke-width="1.3" fill="none"/>
<path d="M424.9,216.5h3.6 M424.9,231.8h3.6" stroke="#231f20" stroke-width="1" fill="none"/>
<path d="M426.7,231V246" stroke="#7a7a7a" stroke-width="1.3" fill="none"/>
<path d="M424.9,231h3.6 M424.9,246h3.6" stroke="#231f20" stroke-width="1" fill="none"/>
<path d="M445.8,211.7V227.6" stroke="#7a7a7a" stroke-width="1.3" fill="none"/>
<path d="M444,211.7h3.6 M444,227.6h3.6" stroke="#231f20" stroke-width="1" fill="none"/>
<path d="M445.8,226V241" stroke="#7a7a7a" stroke-width="1.3" fill="none"/>
<path d="M444,226h3.6 M444,241h3.6" stroke="#231f20" stroke-width="1" fill="none"/>
<path d="M464.9,201.5V219.2" stroke="#7a7a7a" stroke-width="1.3" fill="none"/>
<path d="M463.1,201.5h3.6 M463.1,219.2h3.6" stroke="#231f20" stroke-width="1" fill="none"/>
<path d="M464.9,226.6V241" stroke="#7a7a7a" stroke-width="1.3" fill="none"/>
<path d="M463.1,226.6h3.6 M463.1,241h3.6" stroke="#231f20" stroke-width="1" fill="none"/>
<path d="M484,189.5V213" stroke="#7a7a7a" stroke-width="1.3" fill="none"/>
<path d="M482.2,189.5h3.6 M482.2,213h3.6" stroke="#231f20" stroke-width="1" fill="none"/>
<path d="M484,227V241" stroke="#7a7a7a" stroke-width="1.3" fill="none"/>
<path d="M482.2,227h3.6 M482.2,241h3.6" stroke="#231f20" stroke-width="1" fill="none"/>
<path d="M503.1,249.5V263.5" stroke="#7a7a7a" stroke-width="1.3" fill="none"/>
<path d="M501.3,249.5h3.6 M501.3,263.5h3.6" stroke="#231f20" stroke-width="1" fill="none"/>
<circle cx="407.6" cy="239.5" r="1.3" fill="#231f20"/>
<circle cx="407.6" cy="253" r="1.3" fill="#231f20"/>
<circle cx="407.6" cy="256" r="1.3" fill="#231f20"/>
<circle cx="426.7" cy="230" r="1.3" fill="#231f20"/>
<circle cx="426.7" cy="233" r="1.3" fill="#231f20"/>
<circle cx="426.7" cy="247" r="1.3" fill="#231f20"/>
<circle cx="426.7" cy="252" r="1.3" fill="#231f20"/>
<circle cx="445.8" cy="229" r="1.3" fill="#231f20"/>
<circle cx="445.8" cy="244.5" r="1.3" fill="#231f20"/>
<circle cx="445.8" cy="247.5" r="1.3" fill="#231f20"/>
<circle cx="445.8" cy="253" r="1.3" fill="#231f20"/>
<circle cx="464.9" cy="226" r="1.3" fill="#231f20"/>
<circle cx="464.9" cy="240" r="1.3" fill="#231f20"/>
<circle cx="464.9" cy="244.5" r="1.3" fill="#231f20"/>
<circle cx="464.9" cy="248" r="1.3" fill="#231f20"/>
<circle cx="484" cy="223" r="1.3" fill="#231f20"/>
<circle cx="484" cy="241" r="1.3" fill="#231f20"/>
<circle cx="484" cy="246" r="1.3" fill="#231f20"/>
<circle cx="484" cy="249" r="1.3" fill="#231f20"/>
<circle cx="503.1" cy="256" r="1.3" fill="#231f20"/>
<circle cx="503.1" cy="259.5" r="1.3" fill="#231f20"/>
<circle cx="407.6" cy="233.7" r="1.3" fill="#a8283c"/>
<circle cx="407.6" cy="257.7" r="1.3" fill="#a8283c"/>
<circle cx="407.6" cy="260" r="1.3" fill="#a8283c"/>
<circle cx="426.7" cy="233" r="1.3" fill="#a8283c"/>
<circle cx="426.7" cy="240.5" r="1.3" fill="#a8283c"/>
<circle cx="426.7" cy="254" r="1.3" fill="#a8283c"/>
<circle cx="445.8" cy="232" r="1.3" fill="#a8283c"/>
<circle cx="445.8" cy="236.5" r="1.3" fill="#a8283c"/>
<circle cx="445.8" cy="255.5" r="1.3" fill="#a8283c"/>
<circle cx="464.9" cy="226.5" r="1.3" fill="#a8283c"/>
<circle cx="464.9" cy="246.5" r="1.3" fill="#a8283c"/>
<circle cx="464.9" cy="250" r="1.3" fill="#a8283c"/>
<circle cx="464.9" cy="256" r="1.3" fill="#a8283c"/>
<circle cx="484" cy="222" r="1.3" fill="#a8283c"/>
<circle cx="484" cy="226.5" r="1.3" fill="#a8283c"/>
<circle cx="484" cy="246.5" r="1.3" fill="#a8283c"/>
<circle cx="484" cy="250" r="1.3" fill="#a8283c"/>
<circle cx="503.1" cy="258.5" r="1.3" fill="#a8283c"/>
<circle cx="503.1" cy="270" r="1.3" fill="#a8283c"/>
<circle cx="407.6" cy="238" r="1.3" fill="#3b5a94"/>
<circle cx="407.6" cy="262.5" r="1.3" fill="#3b5a94"/>
<circle cx="426.7" cy="218.5" r="1.3" fill="#3b5a94"/>
<circle cx="426.7" cy="221" r="1.3" fill="#3b5a94"/>
<circle cx="426.7" cy="252" r="1.3" fill="#3b5a94"/>
<circle cx="445.8" cy="203" r="1.3" fill="#3b5a94"/>
<circle cx="445.8" cy="215" r="1.3" fill="#3b5a94"/>
<circle cx="445.8" cy="253" r="1.3" fill="#3b5a94"/>
<circle cx="464.9" cy="196.3" r="1.3" fill="#3b5a94"/>
<circle cx="464.9" cy="215" r="1.3" fill="#3b5a94"/>
<circle cx="464.9" cy="253" r="1.3" fill="#3b5a94"/>
<circle cx="464.9" cy="250" r="1.3" fill="#3b5a94"/>
<circle cx="484" cy="183" r="1.3" fill="#3b5a94"/>
<circle cx="484" cy="190" r="1.3" fill="#3b5a94"/>
<circle cx="484" cy="220.5" r="1.3" fill="#3b5a94"/>
<circle cx="484" cy="245.5" r="1.3" fill="#3b5a94"/>
<circle cx="503.1" cy="247.5" r="1.3" fill="#3b5a94"/>
<circle cx="503.1" cy="250.5" r="1.3" fill="#3b5a94"/>
<circle cx="503.1" cy="287.6" r="1.3" fill="#3b5a94"/>
<polyline points="388.5,253.5 407.6,249.6 426.7,248.9 445.8,246.1 464.9,242.8 484,242.8 503.1,254.5" fill="none" stroke="#6aae4a" stroke-width="1.5"/>
<rect x="387.2" y="252.2" width="2.6" height="2.6" fill="#a8d090" stroke="#6aae4a" stroke-width="0.8"/>
<rect x="406.3" y="248.3" width="2.6" height="2.6" fill="#a8d090" stroke="#6aae4a" stroke-width="0.8"/>
<rect x="425.4" y="247.6" width="2.6" height="2.6" fill="#a8d090" stroke="#6aae4a" stroke-width="0.8"/>
<rect x="444.5" y="244.8" width="2.6" height="2.6" fill="#a8d090" stroke="#6aae4a" stroke-width="0.8"/>
<rect x="463.6" y="241.5" width="2.6" height="2.6" fill="#a8d090" stroke="#6aae4a" stroke-width="0.8"/>
<rect x="482.7" y="241.5" width="2.6" height="2.6" fill="#a8d090" stroke="#6aae4a" stroke-width="0.8"/>
<rect x="501.8" y="253.2" width="2.6" height="2.6" fill="#a8d090" stroke="#6aae4a" stroke-width="0.8"/>
<polyline points="388.5,253.5 407.6,245.8 426.7,238.1 445.8,233.5 464.9,233.8 484,234 503.1,257" fill="none" stroke="#a8283c" stroke-width="1.5"/>
<rect x="387.2" y="252.2" width="2.6" height="2.6" fill="#d08090" stroke="#a8283c" stroke-width="0.8"/>
<rect x="406.3" y="244.5" width="2.6" height="2.6" fill="#d08090" stroke="#a8283c" stroke-width="0.8"/>
<rect x="425.4" y="236.8" width="2.6" height="2.6" fill="#d08090" stroke="#a8283c" stroke-width="0.8"/>
<rect x="444.5" y="232.2" width="2.6" height="2.6" fill="#d08090" stroke="#a8283c" stroke-width="0.8"/>
<rect x="463.6" y="232.5" width="2.6" height="2.6" fill="#d08090" stroke="#a8283c" stroke-width="0.8"/>
<rect x="482.7" y="232.7" width="2.6" height="2.6" fill="#d08090" stroke="#a8283c" stroke-width="0.8"/>
<rect x="501.8" y="255.7" width="2.6" height="2.6" fill="#d08090" stroke="#a8283c" stroke-width="0.8"/>
<polyline points="388.5,253.5 407.6,243 426.7,225.6 445.8,219.4 464.9,209.6 484,199.3 503.1,254.5" fill="none" stroke="#3b5a94" stroke-width="1.5"/>
<rect x="387.2" y="252.2" width="2.6" height="2.6" fill="#8aa0c8" stroke="#3b5a94" stroke-width="0.8"/>
<rect x="406.3" y="241.7" width="2.6" height="2.6" fill="#8aa0c8" stroke="#3b5a94" stroke-width="0.8"/>
<rect x="425.4" y="224.3" width="2.6" height="2.6" fill="#8aa0c8" stroke="#3b5a94" stroke-width="0.8"/>
<rect x="444.5" y="218.1" width="2.6" height="2.6" fill="#8aa0c8" stroke="#3b5a94" stroke-width="0.8"/>
<rect x="463.6" y="208.3" width="2.6" height="2.6" fill="#8aa0c8" stroke="#3b5a94" stroke-width="0.8"/>
<rect x="482.7" y="198" width="2.6" height="2.6" fill="#8aa0c8" stroke="#3b5a94" stroke-width="0.8"/>
<rect x="501.8" y="253.2" width="2.6" height="2.6" fill="#8aa0c8" stroke="#3b5a94" stroke-width="0.8"/>
<circle cx="445.7" cy="272.9" r="0.9" fill="#6aae4a"/>
<circle cx="465.2" cy="272.3" r="0.9" fill="#6aae4a"/>
<circle cx="482.8" cy="272.3" r="0.9" fill="#6aae4a"/>
<circle cx="486.4" cy="272.3" r="0.9" fill="#6aae4a"/>
<circle cx="483.2" cy="281.3" r="0.9" fill="#a8283c"/>
<text transform="translate(391.3,320.6) rotate(-90)" font-family="'Liberation Sans', sans-serif" stroke="#231f20" stroke-width="0.22" font-size="8" fill="#231f20" text-anchor="end">0</text>
<text transform="translate(410.4,320.6) rotate(-90)" font-family="'Liberation Sans', sans-serif" stroke="#231f20" stroke-width="0.22" font-size="8" fill="#231f20" text-anchor="end">15</text>
<text transform="translate(429.5,320.6) rotate(-90)" font-family="'Liberation Sans', sans-serif" stroke="#231f20" stroke-width="0.22" font-size="8" fill="#231f20" text-anchor="end">30</text>
<text transform="translate(448.6,320.6) rotate(-90)" font-family="'Liberation Sans', sans-serif" stroke="#231f20" stroke-width="0.22" font-size="8" fill="#231f20" text-anchor="end">60</text>
<text transform="translate(467.7,320.6) rotate(-90)" font-family="'Liberation Sans', sans-serif" stroke="#231f20" stroke-width="0.22" font-size="8" fill="#231f20" text-anchor="end">120</text>
<text transform="translate(486.8,320.6) rotate(-90)" font-family="'Liberation Sans', sans-serif" stroke="#231f20" stroke-width="0.22" font-size="8" fill="#231f20" text-anchor="end">240</text>
<text transform="translate(505.9,320.6) rotate(-90)" font-family="'Liberation Sans', sans-serif" stroke="#231f20" stroke-width="0.22" font-size="8" fill="#231f20" text-anchor="end">4<tspan dy="-1.9" font-size="4.6" stroke-width="0.15">o</tspan><tspan dy="1.9">C</tspan></text>
<text x="423.1" y="348.7" font-family="'Liberation Sans', sans-serif" stroke="#231f20" stroke-width="0.22" font-size="10.2" fill="#231f20" textLength="45.1" lengthAdjust="spacingAndGlyphs">Time [min]</text></svg>
</body></html>
